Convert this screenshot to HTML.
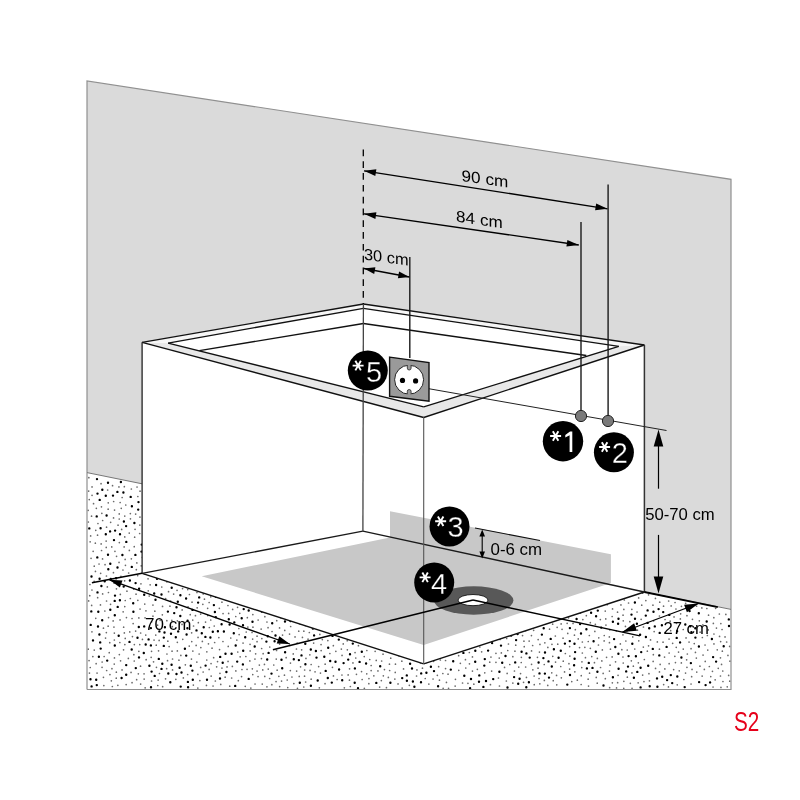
<!DOCTYPE html><html><head><meta charset="utf-8"><style>html,body{margin:0;padding:0;background:#fff;}svg{display:block;will-change:transform}</style></head><body>
<svg width="800" height="800" viewBox="0 0 800 800" font-family="&quot;Liberation Sans&quot;, sans-serif">
<rect width="800" height="800" fill="#fff"/>
<polygon points="87.0,81.0 731.0,179.3 731.0,609.4 87.0,472.6" fill="#dadada"/>
<polygon points="87.0,472.6 731.0,609.4 731.0,689.5 87.0,689.5" fill="#fff"/>
<path d="M296.5 526.7a1.2 1.2 0 1 0 2.4 0a1.2 1.2 0 1 0-2.4 0zM309.5 524.1a1.2 1.2 0 1 0 2.4 0a1.2 1.2 0 1 0-2.4 0zM279.0 531.2a1.2 1.2 0 1 0 2.4 0a1.2 1.2 0 1 0-2.4 0zM286.0 535.8a1.2 1.2 0 1 0 2.4 0a1.2 1.2 0 1 0-2.4 0zM263.1 515.0a1.2 1.2 0 1 0 2.4 0a1.2 1.2 0 1 0-2.4 0zM268.4 527.9a1.2 1.2 0 1 0 2.4 0a1.2 1.2 0 1 0-2.4 0zM292.8 537.7a1.2 1.2 0 1 0 2.4 0a1.2 1.2 0 1 0-2.4 0zM282.0 539.6a1.2 1.2 0 1 0 2.4 0a1.2 1.2 0 1 0-2.4 0zM264.7 531.8a1.2 1.2 0 1 0 2.4 0a1.2 1.2 0 1 0-2.4 0zM248.7 517.0a1.2 1.2 0 1 0 2.4 0a1.2 1.2 0 1 0-2.4 0zM249.7 522.3a1.2 1.2 0 1 0 2.4 0a1.2 1.2 0 1 0-2.4 0zM251.4 534.3a1.2 1.2 0 1 0 2.4 0a1.2 1.2 0 1 0-2.4 0zM331.7 534.6a1.2 1.2 0 1 0 2.4 0a1.2 1.2 0 1 0-2.4 0zM297.0 551.3a1.2 1.2 0 1 0 2.4 0a1.2 1.2 0 1 0-2.4 0zM313.4 546.4a1.2 1.2 0 1 0 2.4 0a1.2 1.2 0 1 0-2.4 0zM309.2 553.5a1.2 1.2 0 1 0 2.4 0a1.2 1.2 0 1 0-2.4 0zM259.7 532.8a1.2 1.2 0 1 0 2.4 0a1.2 1.2 0 1 0-2.4 0zM245.5 534.7a1.2 1.2 0 1 0 2.4 0a1.2 1.2 0 1 0-2.4 0zM304.3 551.1a1.2 1.2 0 1 0 2.4 0a1.2 1.2 0 1 0-2.4 0zM252.6 545.6a1.2 1.2 0 1 0 2.4 0a1.2 1.2 0 1 0-2.4 0zM316.2 555.4a1.2 1.2 0 1 0 2.4 0a1.2 1.2 0 1 0-2.4 0zM323.2 560.9a1.2 1.2 0 1 0 2.4 0a1.2 1.2 0 1 0-2.4 0zM324.1 555.1a1.2 1.2 0 1 0 2.4 0a1.2 1.2 0 1 0-2.4 0zM280.1 557.7a1.2 1.2 0 1 0 2.4 0a1.2 1.2 0 1 0-2.4 0zM247.3 511.9a1.2 1.2 0 1 0 2.4 0a1.2 1.2 0 1 0-2.4 0zM254.2 550.6a1.2 1.2 0 1 0 2.4 0a1.2 1.2 0 1 0-2.4 0zM246.7 552.3a1.2 1.2 0 1 0 2.4 0a1.2 1.2 0 1 0-2.4 0zM311.7 567.2a1.2 1.2 0 1 0 2.4 0a1.2 1.2 0 1 0-2.4 0zM263.9 557.3a1.2 1.2 0 1 0 2.4 0a1.2 1.2 0 1 0-2.4 0zM336.0 543.1a1.2 1.2 0 1 0 2.4 0a1.2 1.2 0 1 0-2.4 0zM290.4 576.5a1.2 1.2 0 1 0 2.4 0a1.2 1.2 0 1 0-2.4 0zM236.9 522.7a1.2 1.2 0 1 0 2.4 0a1.2 1.2 0 1 0-2.4 0zM235.0 515.3a1.2 1.2 0 1 0 2.4 0a1.2 1.2 0 1 0-2.4 0zM297.7 575.4a1.2 1.2 0 1 0 2.4 0a1.2 1.2 0 1 0-2.4 0zM370.3 543.4a1.2 1.2 0 1 0 2.4 0a1.2 1.2 0 1 0-2.4 0zM267.7 573.9a1.2 1.2 0 1 0 2.4 0a1.2 1.2 0 1 0-2.4 0zM250.7 575.6a1.2 1.2 0 1 0 2.4 0a1.2 1.2 0 1 0-2.4 0zM355.9 541.0a1.2 1.2 0 1 0 2.4 0a1.2 1.2 0 1 0-2.4 0zM344.1 557.8a1.2 1.2 0 1 0 2.4 0a1.2 1.2 0 1 0-2.4 0zM353.7 554.1a1.2 1.2 0 1 0 2.4 0a1.2 1.2 0 1 0-2.4 0zM322.4 569.5a1.2 1.2 0 1 0 2.4 0a1.2 1.2 0 1 0-2.4 0zM264.2 585.1a1.2 1.2 0 1 0 2.4 0a1.2 1.2 0 1 0-2.4 0zM224.7 528.4a1.2 1.2 0 1 0 2.4 0a1.2 1.2 0 1 0-2.4 0zM323.5 580.5a1.2 1.2 0 1 0 2.4 0a1.2 1.2 0 1 0-2.4 0zM224.5 522.4a1.2 1.2 0 1 0 2.4 0a1.2 1.2 0 1 0-2.4 0zM349.6 559.8a1.2 1.2 0 1 0 2.4 0a1.2 1.2 0 1 0-2.4 0zM295.9 582.6a1.2 1.2 0 1 0 2.4 0a1.2 1.2 0 1 0-2.4 0zM224.3 516.2a1.2 1.2 0 1 0 2.4 0a1.2 1.2 0 1 0-2.4 0zM340.8 539.8a1.2 1.2 0 1 0 2.4 0a1.2 1.2 0 1 0-2.4 0zM321.6 597.2a1.2 1.2 0 1 0 2.4 0a1.2 1.2 0 1 0-2.4 0zM283.5 576.2a1.2 1.2 0 1 0 2.4 0a1.2 1.2 0 1 0-2.4 0zM337.9 571.9a1.2 1.2 0 1 0 2.4 0a1.2 1.2 0 1 0-2.4 0zM217.7 527.3a1.2 1.2 0 1 0 2.4 0a1.2 1.2 0 1 0-2.4 0zM338.6 555.1a1.2 1.2 0 1 0 2.4 0a1.2 1.2 0 1 0-2.4 0zM242.4 566.5a1.2 1.2 0 1 0 2.4 0a1.2 1.2 0 1 0-2.4 0zM302.9 583.7a1.2 1.2 0 1 0 2.4 0a1.2 1.2 0 1 0-2.4 0zM291.4 590.8a1.2 1.2 0 1 0 2.4 0a1.2 1.2 0 1 0-2.4 0zM307.4 588.1a1.2 1.2 0 1 0 2.4 0a1.2 1.2 0 1 0-2.4 0zM272.8 588.6a1.2 1.2 0 1 0 2.4 0a1.2 1.2 0 1 0-2.4 0zM214.1 506.8a1.2 1.2 0 1 0 2.4 0a1.2 1.2 0 1 0-2.4 0zM363.5 546.3a1.2 1.2 0 1 0 2.4 0a1.2 1.2 0 1 0-2.4 0zM296.1 588.2a1.2 1.2 0 1 0 2.4 0a1.2 1.2 0 1 0-2.4 0zM205.9 507.3a1.2 1.2 0 1 0 2.4 0a1.2 1.2 0 1 0-2.4 0zM295.4 594.2a1.2 1.2 0 1 0 2.4 0a1.2 1.2 0 1 0-2.4 0zM373.4 550.6a1.2 1.2 0 1 0 2.4 0a1.2 1.2 0 1 0-2.4 0zM215.2 518.0a1.2 1.2 0 1 0 2.4 0a1.2 1.2 0 1 0-2.4 0zM251.4 588.5a1.2 1.2 0 1 0 2.4 0a1.2 1.2 0 1 0-2.4 0zM339.9 563.1a1.2 1.2 0 1 0 2.4 0a1.2 1.2 0 1 0-2.4 0zM245.1 582.3a1.2 1.2 0 1 0 2.4 0a1.2 1.2 0 1 0-2.4 0zM224.7 553.9a1.2 1.2 0 1 0 2.4 0a1.2 1.2 0 1 0-2.4 0zM342.8 569.3a1.2 1.2 0 1 0 2.4 0a1.2 1.2 0 1 0-2.4 0zM343.5 585.7a1.2 1.2 0 1 0 2.4 0a1.2 1.2 0 1 0-2.4 0zM349.4 581.8a1.2 1.2 0 1 0 2.4 0a1.2 1.2 0 1 0-2.4 0zM259.5 592.7a1.2 1.2 0 1 0 2.4 0a1.2 1.2 0 1 0-2.4 0zM358.8 551.8a1.2 1.2 0 1 0 2.4 0a1.2 1.2 0 1 0-2.4 0zM386.5 558.0a1.2 1.2 0 1 0 2.4 0a1.2 1.2 0 1 0-2.4 0zM277.1 592.3a1.2 1.2 0 1 0 2.4 0a1.2 1.2 0 1 0-2.4 0zM231.9 574.5a1.2 1.2 0 1 0 2.4 0a1.2 1.2 0 1 0-2.4 0zM198.5 504.5a1.2 1.2 0 1 0 2.4 0a1.2 1.2 0 1 0-2.4 0zM258.4 584.3a1.2 1.2 0 1 0 2.4 0a1.2 1.2 0 1 0-2.4 0zM386.3 547.8a1.2 1.2 0 1 0 2.4 0a1.2 1.2 0 1 0-2.4 0zM209.5 501.6a1.2 1.2 0 1 0 2.4 0a1.2 1.2 0 1 0-2.4 0zM359.2 573.8a1.2 1.2 0 1 0 2.4 0a1.2 1.2 0 1 0-2.4 0zM211.9 529.4a1.2 1.2 0 1 0 2.4 0a1.2 1.2 0 1 0-2.4 0zM386.0 541.4a1.2 1.2 0 1 0 2.4 0a1.2 1.2 0 1 0-2.4 0zM224.4 574.9a1.2 1.2 0 1 0 2.4 0a1.2 1.2 0 1 0-2.4 0zM337.3 589.5a1.2 1.2 0 1 0 2.4 0a1.2 1.2 0 1 0-2.4 0zM218.7 552.8a1.2 1.2 0 1 0 2.4 0a1.2 1.2 0 1 0-2.4 0zM218.7 571.3a1.2 1.2 0 1 0 2.4 0a1.2 1.2 0 1 0-2.4 0zM211.9 547.0a1.2 1.2 0 1 0 2.4 0a1.2 1.2 0 1 0-2.4 0zM294.4 605.3a1.2 1.2 0 1 0 2.4 0a1.2 1.2 0 1 0-2.4 0zM212.2 565.7a1.2 1.2 0 1 0 2.4 0a1.2 1.2 0 1 0-2.4 0zM208.5 542.2a1.2 1.2 0 1 0 2.4 0a1.2 1.2 0 1 0-2.4 0zM347.0 592.7a1.2 1.2 0 1 0 2.4 0a1.2 1.2 0 1 0-2.4 0zM231.3 582.1a1.2 1.2 0 1 0 2.4 0a1.2 1.2 0 1 0-2.4 0zM343.8 578.1a1.2 1.2 0 1 0 2.4 0a1.2 1.2 0 1 0-2.4 0zM201.1 552.1a1.2 1.2 0 1 0 2.4 0a1.2 1.2 0 1 0-2.4 0zM206.1 547.9a1.2 1.2 0 1 0 2.4 0a1.2 1.2 0 1 0-2.4 0zM332.7 608.2a1.2 1.2 0 1 0 2.4 0a1.2 1.2 0 1 0-2.4 0zM380.6 559.2a1.2 1.2 0 1 0 2.4 0a1.2 1.2 0 1 0-2.4 0zM375.8 543.0a1.2 1.2 0 1 0 2.4 0a1.2 1.2 0 1 0-2.4 0zM267.8 609.8a1.2 1.2 0 1 0 2.4 0a1.2 1.2 0 1 0-2.4 0zM393.9 563.7a1.2 1.2 0 1 0 2.4 0a1.2 1.2 0 1 0-2.4 0zM377.7 563.8a1.2 1.2 0 1 0 2.4 0a1.2 1.2 0 1 0-2.4 0zM249.1 597.4a1.2 1.2 0 1 0 2.4 0a1.2 1.2 0 1 0-2.4 0zM198.8 544.2a1.2 1.2 0 1 0 2.4 0a1.2 1.2 0 1 0-2.4 0zM276.8 606.1a1.2 1.2 0 1 0 2.4 0a1.2 1.2 0 1 0-2.4 0zM203.8 565.2a1.2 1.2 0 1 0 2.4 0a1.2 1.2 0 1 0-2.4 0zM340.6 593.9a1.2 1.2 0 1 0 2.4 0a1.2 1.2 0 1 0-2.4 0zM271.4 613.4a1.2 1.2 0 1 0 2.4 0a1.2 1.2 0 1 0-2.4 0zM223.4 588.5a1.2 1.2 0 1 0 2.4 0a1.2 1.2 0 1 0-2.4 0zM369.9 563.4a1.2 1.2 0 1 0 2.4 0a1.2 1.2 0 1 0-2.4 0zM332.8 594.6a1.2 1.2 0 1 0 2.4 0a1.2 1.2 0 1 0-2.4 0zM217.4 587.3a1.2 1.2 0 1 0 2.4 0a1.2 1.2 0 1 0-2.4 0zM260.6 611.6a1.2 1.2 0 1 0 2.4 0a1.2 1.2 0 1 0-2.4 0zM277.2 600.9a1.2 1.2 0 1 0 2.4 0a1.2 1.2 0 1 0-2.4 0zM191.7 567.6a1.2 1.2 0 1 0 2.4 0a1.2 1.2 0 1 0-2.4 0zM279.6 611.7a1.2 1.2 0 1 0 2.4 0a1.2 1.2 0 1 0-2.4 0zM215.0 596.9a1.2 1.2 0 1 0 2.4 0a1.2 1.2 0 1 0-2.4 0zM242.5 609.1a1.2 1.2 0 1 0 2.4 0a1.2 1.2 0 1 0-2.4 0zM197.2 578.9a1.2 1.2 0 1 0 2.4 0a1.2 1.2 0 1 0-2.4 0zM207.6 592.0a1.2 1.2 0 1 0 2.4 0a1.2 1.2 0 1 0-2.4 0zM372.6 569.3a1.2 1.2 0 1 0 2.4 0a1.2 1.2 0 1 0-2.4 0zM193.9 572.4a1.2 1.2 0 1 0 2.4 0a1.2 1.2 0 1 0-2.4 0zM237.4 602.0a1.2 1.2 0 1 0 2.4 0a1.2 1.2 0 1 0-2.4 0zM308.2 620.1a1.2 1.2 0 1 0 2.4 0a1.2 1.2 0 1 0-2.4 0zM415.8 549.3a1.2 1.2 0 1 0 2.4 0a1.2 1.2 0 1 0-2.4 0zM296.2 617.3a1.2 1.2 0 1 0 2.4 0a1.2 1.2 0 1 0-2.4 0zM190.5 543.2a1.2 1.2 0 1 0 2.4 0a1.2 1.2 0 1 0-2.4 0zM313.4 622.2a1.2 1.2 0 1 0 2.4 0a1.2 1.2 0 1 0-2.4 0zM180.8 569.3a1.2 1.2 0 1 0 2.4 0a1.2 1.2 0 1 0-2.4 0zM311.7 628.5a1.2 1.2 0 1 0 2.4 0a1.2 1.2 0 1 0-2.4 0zM338.9 605.9a1.2 1.2 0 1 0 2.4 0a1.2 1.2 0 1 0-2.4 0zM401.5 560.3a1.2 1.2 0 1 0 2.4 0a1.2 1.2 0 1 0-2.4 0zM399.9 566.1a1.2 1.2 0 1 0 2.4 0a1.2 1.2 0 1 0-2.4 0zM194.2 546.9a1.2 1.2 0 1 0 2.4 0a1.2 1.2 0 1 0-2.4 0zM198.6 498.6a1.2 1.2 0 1 0 2.4 0a1.2 1.2 0 1 0-2.4 0zM195.9 584.9a1.2 1.2 0 1 0 2.4 0a1.2 1.2 0 1 0-2.4 0zM350.8 614.7a1.2 1.2 0 1 0 2.4 0a1.2 1.2 0 1 0-2.4 0zM173.7 570.5a1.2 1.2 0 1 0 2.4 0a1.2 1.2 0 1 0-2.4 0zM192.8 514.9a1.2 1.2 0 1 0 2.4 0a1.2 1.2 0 1 0-2.4 0zM227.6 619.2a1.2 1.2 0 1 0 2.4 0a1.2 1.2 0 1 0-2.4 0zM352.7 598.9a1.2 1.2 0 1 0 2.4 0a1.2 1.2 0 1 0-2.4 0zM312.9 635.4a1.2 1.2 0 1 0 2.4 0a1.2 1.2 0 1 0-2.4 0zM240.5 618.2a1.2 1.2 0 1 0 2.4 0a1.2 1.2 0 1 0-2.4 0zM185.5 553.0a1.2 1.2 0 1 0 2.4 0a1.2 1.2 0 1 0-2.4 0zM286.4 611.6a1.2 1.2 0 1 0 2.4 0a1.2 1.2 0 1 0-2.4 0zM233.1 622.4a1.2 1.2 0 1 0 2.4 0a1.2 1.2 0 1 0-2.4 0zM220.4 624.2a1.2 1.2 0 1 0 2.4 0a1.2 1.2 0 1 0-2.4 0zM290.4 615.8a1.2 1.2 0 1 0 2.4 0a1.2 1.2 0 1 0-2.4 0zM375.2 592.8a1.2 1.2 0 1 0 2.4 0a1.2 1.2 0 1 0-2.4 0zM212.7 605.1a1.2 1.2 0 1 0 2.4 0a1.2 1.2 0 1 0-2.4 0zM327.0 647.7a1.2 1.2 0 1 0 2.4 0a1.2 1.2 0 1 0-2.4 0zM228.4 624.5a1.2 1.2 0 1 0 2.4 0a1.2 1.2 0 1 0-2.4 0zM317.8 616.9a1.2 1.2 0 1 0 2.4 0a1.2 1.2 0 1 0-2.4 0zM368.1 600.0a1.2 1.2 0 1 0 2.4 0a1.2 1.2 0 1 0-2.4 0zM357.3 615.7a1.2 1.2 0 1 0 2.4 0a1.2 1.2 0 1 0-2.4 0zM350.5 624.6a1.2 1.2 0 1 0 2.4 0a1.2 1.2 0 1 0-2.4 0zM241.8 625.2a1.2 1.2 0 1 0 2.4 0a1.2 1.2 0 1 0-2.4 0zM271.0 623.2a1.2 1.2 0 1 0 2.4 0a1.2 1.2 0 1 0-2.4 0zM187.7 514.5a1.2 1.2 0 1 0 2.4 0a1.2 1.2 0 1 0-2.4 0zM283.8 621.5a1.2 1.2 0 1 0 2.4 0a1.2 1.2 0 1 0-2.4 0zM214.6 617.1a1.2 1.2 0 1 0 2.4 0a1.2 1.2 0 1 0-2.4 0zM338.0 624.3a1.2 1.2 0 1 0 2.4 0a1.2 1.2 0 1 0-2.4 0zM175.3 507.8a1.2 1.2 0 1 0 2.4 0a1.2 1.2 0 1 0-2.4 0zM186.9 519.7a1.2 1.2 0 1 0 2.4 0a1.2 1.2 0 1 0-2.4 0zM368.4 607.7a1.2 1.2 0 1 0 2.4 0a1.2 1.2 0 1 0-2.4 0zM331.3 635.9a1.2 1.2 0 1 0 2.4 0a1.2 1.2 0 1 0-2.4 0zM211.6 631.8a1.2 1.2 0 1 0 2.4 0a1.2 1.2 0 1 0-2.4 0zM251.3 621.7a1.2 1.2 0 1 0 2.4 0a1.2 1.2 0 1 0-2.4 0zM317.2 627.4a1.2 1.2 0 1 0 2.4 0a1.2 1.2 0 1 0-2.4 0zM185.5 541.7a1.2 1.2 0 1 0 2.4 0a1.2 1.2 0 1 0-2.4 0zM381.6 575.4a1.2 1.2 0 1 0 2.4 0a1.2 1.2 0 1 0-2.4 0zM355.8 609.8a1.2 1.2 0 1 0 2.4 0a1.2 1.2 0 1 0-2.4 0zM289.3 621.0a1.2 1.2 0 1 0 2.4 0a1.2 1.2 0 1 0-2.4 0zM309.6 649.5a1.2 1.2 0 1 0 2.4 0a1.2 1.2 0 1 0-2.4 0zM398.2 580.8a1.2 1.2 0 1 0 2.4 0a1.2 1.2 0 1 0-2.4 0zM383.5 597.6a1.2 1.2 0 1 0 2.4 0a1.2 1.2 0 1 0-2.4 0zM425.4 563.1a1.2 1.2 0 1 0 2.4 0a1.2 1.2 0 1 0-2.4 0zM178.4 529.6a1.2 1.2 0 1 0 2.4 0a1.2 1.2 0 1 0-2.4 0zM213.7 612.0a1.2 1.2 0 1 0 2.4 0a1.2 1.2 0 1 0-2.4 0zM337.6 639.6a1.2 1.2 0 1 0 2.4 0a1.2 1.2 0 1 0-2.4 0zM414.0 564.9a1.2 1.2 0 1 0 2.4 0a1.2 1.2 0 1 0-2.4 0zM200.6 633.2a1.2 1.2 0 1 0 2.4 0a1.2 1.2 0 1 0-2.4 0zM173.6 502.1a1.2 1.2 0 1 0 2.4 0a1.2 1.2 0 1 0-2.4 0zM338.7 634.4a1.2 1.2 0 1 0 2.4 0a1.2 1.2 0 1 0-2.4 0zM354.3 620.7a1.2 1.2 0 1 0 2.4 0a1.2 1.2 0 1 0-2.4 0zM439.1 554.9a1.2 1.2 0 1 0 2.4 0a1.2 1.2 0 1 0-2.4 0zM397.2 595.8a1.2 1.2 0 1 0 2.4 0a1.2 1.2 0 1 0-2.4 0zM209.2 637.5a1.2 1.2 0 1 0 2.4 0a1.2 1.2 0 1 0-2.4 0zM167.8 498.4a1.2 1.2 0 1 0 2.4 0a1.2 1.2 0 1 0-2.4 0zM155.8 578.8a1.2 1.2 0 1 0 2.4 0a1.2 1.2 0 1 0-2.4 0zM222.7 631.5a1.2 1.2 0 1 0 2.4 0a1.2 1.2 0 1 0-2.4 0zM416.5 554.6a1.2 1.2 0 1 0 2.4 0a1.2 1.2 0 1 0-2.4 0zM154.9 585.0a1.2 1.2 0 1 0 2.4 0a1.2 1.2 0 1 0-2.4 0zM216.7 631.2a1.2 1.2 0 1 0 2.4 0a1.2 1.2 0 1 0-2.4 0zM153.0 593.5a1.2 1.2 0 1 0 2.4 0a1.2 1.2 0 1 0-2.4 0zM160.3 594.5a1.2 1.2 0 1 0 2.4 0a1.2 1.2 0 1 0-2.4 0zM232.6 633.2a1.2 1.2 0 1 0 2.4 0a1.2 1.2 0 1 0-2.4 0zM157.3 512.3a1.2 1.2 0 1 0 2.4 0a1.2 1.2 0 1 0-2.4 0zM154.3 599.7a1.2 1.2 0 1 0 2.4 0a1.2 1.2 0 1 0-2.4 0zM144.3 491.8a1.2 1.2 0 1 0 2.4 0a1.2 1.2 0 1 0-2.4 0zM363.4 597.9a1.2 1.2 0 1 0 2.4 0a1.2 1.2 0 1 0-2.4 0zM164.2 557.9a1.2 1.2 0 1 0 2.4 0a1.2 1.2 0 1 0-2.4 0zM266.6 636.2a1.2 1.2 0 1 0 2.4 0a1.2 1.2 0 1 0-2.4 0zM184.9 598.5a1.2 1.2 0 1 0 2.4 0a1.2 1.2 0 1 0-2.4 0zM198.0 597.4a1.2 1.2 0 1 0 2.4 0a1.2 1.2 0 1 0-2.4 0zM155.6 491.3a1.2 1.2 0 1 0 2.4 0a1.2 1.2 0 1 0-2.4 0zM196.9 602.6a1.2 1.2 0 1 0 2.4 0a1.2 1.2 0 1 0-2.4 0zM195.3 630.4a1.2 1.2 0 1 0 2.4 0a1.2 1.2 0 1 0-2.4 0zM186.4 620.6a1.2 1.2 0 1 0 2.4 0a1.2 1.2 0 1 0-2.4 0zM162.9 513.4a1.2 1.2 0 1 0 2.4 0a1.2 1.2 0 1 0-2.4 0zM294.7 611.6a1.2 1.2 0 1 0 2.4 0a1.2 1.2 0 1 0-2.4 0zM417.1 573.1a1.2 1.2 0 1 0 2.4 0a1.2 1.2 0 1 0-2.4 0zM166.4 545.3a1.2 1.2 0 1 0 2.4 0a1.2 1.2 0 1 0-2.4 0zM323.1 656.7a1.2 1.2 0 1 0 2.4 0a1.2 1.2 0 1 0-2.4 0zM143.0 594.7a1.2 1.2 0 1 0 2.4 0a1.2 1.2 0 1 0-2.4 0zM137.3 502.1a1.2 1.2 0 1 0 2.4 0a1.2 1.2 0 1 0-2.4 0zM408.0 593.7a1.2 1.2 0 1 0 2.4 0a1.2 1.2 0 1 0-2.4 0zM396.4 586.0a1.2 1.2 0 1 0 2.4 0a1.2 1.2 0 1 0-2.4 0zM137.9 588.7a1.2 1.2 0 1 0 2.4 0a1.2 1.2 0 1 0-2.4 0zM386.1 626.9a1.2 1.2 0 1 0 2.4 0a1.2 1.2 0 1 0-2.4 0zM402.5 597.8a1.2 1.2 0 1 0 2.4 0a1.2 1.2 0 1 0-2.4 0zM128.7 580.5a1.2 1.2 0 1 0 2.4 0a1.2 1.2 0 1 0-2.4 0zM315.3 657.6a1.2 1.2 0 1 0 2.4 0a1.2 1.2 0 1 0-2.4 0zM402.3 610.2a1.2 1.2 0 1 0 2.4 0a1.2 1.2 0 1 0-2.4 0zM153.3 508.0a1.2 1.2 0 1 0 2.4 0a1.2 1.2 0 1 0-2.4 0zM334.3 661.7a1.2 1.2 0 1 0 2.4 0a1.2 1.2 0 1 0-2.4 0zM429.5 566.4a1.2 1.2 0 1 0 2.4 0a1.2 1.2 0 1 0-2.4 0zM420.2 577.5a1.2 1.2 0 1 0 2.4 0a1.2 1.2 0 1 0-2.4 0zM314.7 651.0a1.2 1.2 0 1 0 2.4 0a1.2 1.2 0 1 0-2.4 0zM172.6 525.9a1.2 1.2 0 1 0 2.4 0a1.2 1.2 0 1 0-2.4 0zM351.6 643.6a1.2 1.2 0 1 0 2.4 0a1.2 1.2 0 1 0-2.4 0zM436.7 561.3a1.2 1.2 0 1 0 2.4 0a1.2 1.2 0 1 0-2.4 0zM137.0 509.6a1.2 1.2 0 1 0 2.4 0a1.2 1.2 0 1 0-2.4 0zM170.5 587.7a1.2 1.2 0 1 0 2.4 0a1.2 1.2 0 1 0-2.4 0zM132.0 603.2a1.2 1.2 0 1 0 2.4 0a1.2 1.2 0 1 0-2.4 0zM176.6 601.7a1.2 1.2 0 1 0 2.4 0a1.2 1.2 0 1 0-2.4 0zM163.5 523.0a1.2 1.2 0 1 0 2.4 0a1.2 1.2 0 1 0-2.4 0zM179.1 616.0a1.2 1.2 0 1 0 2.4 0a1.2 1.2 0 1 0-2.4 0zM161.7 568.3a1.2 1.2 0 1 0 2.4 0a1.2 1.2 0 1 0-2.4 0zM179.2 595.3a1.2 1.2 0 1 0 2.4 0a1.2 1.2 0 1 0-2.4 0zM129.5 496.9a1.2 1.2 0 1 0 2.4 0a1.2 1.2 0 1 0-2.4 0zM234.5 645.5a1.2 1.2 0 1 0 2.4 0a1.2 1.2 0 1 0-2.4 0zM417.8 602.7a1.2 1.2 0 1 0 2.4 0a1.2 1.2 0 1 0-2.4 0zM300.3 655.4a1.2 1.2 0 1 0 2.4 0a1.2 1.2 0 1 0-2.4 0zM274.3 635.5a1.2 1.2 0 1 0 2.4 0a1.2 1.2 0 1 0-2.4 0zM130.7 506.2a1.2 1.2 0 1 0 2.4 0a1.2 1.2 0 1 0-2.4 0zM329.0 661.0a1.2 1.2 0 1 0 2.4 0a1.2 1.2 0 1 0-2.4 0zM304.1 643.7a1.2 1.2 0 1 0 2.4 0a1.2 1.2 0 1 0-2.4 0zM349.7 636.1a1.2 1.2 0 1 0 2.4 0a1.2 1.2 0 1 0-2.4 0zM202.5 627.2a1.2 1.2 0 1 0 2.4 0a1.2 1.2 0 1 0-2.4 0zM400.0 604.0a1.2 1.2 0 1 0 2.4 0a1.2 1.2 0 1 0-2.4 0zM173.0 613.1a1.2 1.2 0 1 0 2.4 0a1.2 1.2 0 1 0-2.4 0zM283.9 652.3a1.2 1.2 0 1 0 2.4 0a1.2 1.2 0 1 0-2.4 0zM265.2 641.6a1.2 1.2 0 1 0 2.4 0a1.2 1.2 0 1 0-2.4 0zM159.3 562.1a1.2 1.2 0 1 0 2.4 0a1.2 1.2 0 1 0-2.4 0zM175.3 607.2a1.2 1.2 0 1 0 2.4 0a1.2 1.2 0 1 0-2.4 0zM437.3 567.8a1.2 1.2 0 1 0 2.4 0a1.2 1.2 0 1 0-2.4 0zM324.5 670.9a1.2 1.2 0 1 0 2.4 0a1.2 1.2 0 1 0-2.4 0zM173.6 538.0a1.2 1.2 0 1 0 2.4 0a1.2 1.2 0 1 0-2.4 0zM363.6 623.3a1.2 1.2 0 1 0 2.4 0a1.2 1.2 0 1 0-2.4 0zM186.2 628.3a1.2 1.2 0 1 0 2.4 0a1.2 1.2 0 1 0-2.4 0zM415.5 590.3a1.2 1.2 0 1 0 2.4 0a1.2 1.2 0 1 0-2.4 0zM355.6 639.6a1.2 1.2 0 1 0 2.4 0a1.2 1.2 0 1 0-2.4 0zM134.4 583.1a1.2 1.2 0 1 0 2.4 0a1.2 1.2 0 1 0-2.4 0zM273.4 641.2a1.2 1.2 0 1 0 2.4 0a1.2 1.2 0 1 0-2.4 0zM347.0 659.6a1.2 1.2 0 1 0 2.4 0a1.2 1.2 0 1 0-2.4 0zM122.5 586.6a1.2 1.2 0 1 0 2.4 0a1.2 1.2 0 1 0-2.4 0zM204.2 636.9a1.2 1.2 0 1 0 2.4 0a1.2 1.2 0 1 0-2.4 0zM164.7 552.2a1.2 1.2 0 1 0 2.4 0a1.2 1.2 0 1 0-2.4 0zM130.6 566.9a1.2 1.2 0 1 0 2.4 0a1.2 1.2 0 1 0-2.4 0zM326.6 678.0a1.2 1.2 0 1 0 2.4 0a1.2 1.2 0 1 0-2.4 0zM166.7 611.6a1.2 1.2 0 1 0 2.4 0a1.2 1.2 0 1 0-2.4 0zM358.6 625.0a1.2 1.2 0 1 0 2.4 0a1.2 1.2 0 1 0-2.4 0zM244.0 637.2a1.2 1.2 0 1 0 2.4 0a1.2 1.2 0 1 0-2.4 0zM441.8 570.8a1.2 1.2 0 1 0 2.4 0a1.2 1.2 0 1 0-2.4 0zM342.4 663.1a1.2 1.2 0 1 0 2.4 0a1.2 1.2 0 1 0-2.4 0zM364.2 643.6a1.2 1.2 0 1 0 2.4 0a1.2 1.2 0 1 0-2.4 0zM330.6 682.6a1.2 1.2 0 1 0 2.4 0a1.2 1.2 0 1 0-2.4 0zM267.4 652.9a1.2 1.2 0 1 0 2.4 0a1.2 1.2 0 1 0-2.4 0zM425.4 592.0a1.2 1.2 0 1 0 2.4 0a1.2 1.2 0 1 0-2.4 0zM140.3 551.6a1.2 1.2 0 1 0 2.4 0a1.2 1.2 0 1 0-2.4 0zM185.4 634.5a1.2 1.2 0 1 0 2.4 0a1.2 1.2 0 1 0-2.4 0zM337.9 669.5a1.2 1.2 0 1 0 2.4 0a1.2 1.2 0 1 0-2.4 0zM242.0 650.8a1.2 1.2 0 1 0 2.4 0a1.2 1.2 0 1 0-2.4 0zM118.7 600.3a1.2 1.2 0 1 0 2.4 0a1.2 1.2 0 1 0-2.4 0zM416.1 618.0a1.2 1.2 0 1 0 2.4 0a1.2 1.2 0 1 0-2.4 0zM431.5 607.6a1.2 1.2 0 1 0 2.4 0a1.2 1.2 0 1 0-2.4 0zM341.0 680.3a1.2 1.2 0 1 0 2.4 0a1.2 1.2 0 1 0-2.4 0zM377.6 639.5a1.2 1.2 0 1 0 2.4 0a1.2 1.2 0 1 0-2.4 0zM116.3 567.5a1.2 1.2 0 1 0 2.4 0a1.2 1.2 0 1 0-2.4 0zM451.7 551.6a1.2 1.2 0 1 0 2.4 0a1.2 1.2 0 1 0-2.4 0zM425.7 616.6a1.2 1.2 0 1 0 2.4 0a1.2 1.2 0 1 0-2.4 0zM399.2 627.3a1.2 1.2 0 1 0 2.4 0a1.2 1.2 0 1 0-2.4 0zM304.2 664.2a1.2 1.2 0 1 0 2.4 0a1.2 1.2 0 1 0-2.4 0zM435.4 575.3a1.2 1.2 0 1 0 2.4 0a1.2 1.2 0 1 0-2.4 0zM177.0 631.4a1.2 1.2 0 1 0 2.4 0a1.2 1.2 0 1 0-2.4 0zM230.4 653.8a1.2 1.2 0 1 0 2.4 0a1.2 1.2 0 1 0-2.4 0zM183.7 648.8a1.2 1.2 0 1 0 2.4 0a1.2 1.2 0 1 0-2.4 0zM280.3 659.7a1.2 1.2 0 1 0 2.4 0a1.2 1.2 0 1 0-2.4 0zM360.6 651.7a1.2 1.2 0 1 0 2.4 0a1.2 1.2 0 1 0-2.4 0zM191.3 609.9a1.2 1.2 0 1 0 2.4 0a1.2 1.2 0 1 0-2.4 0zM224.3 653.7a1.2 1.2 0 1 0 2.4 0a1.2 1.2 0 1 0-2.4 0zM436.7 581.4a1.2 1.2 0 1 0 2.4 0a1.2 1.2 0 1 0-2.4 0zM434.9 590.9a1.2 1.2 0 1 0 2.4 0a1.2 1.2 0 1 0-2.4 0zM140.5 544.6a1.2 1.2 0 1 0 2.4 0a1.2 1.2 0 1 0-2.4 0zM401.6 620.5a1.2 1.2 0 1 0 2.4 0a1.2 1.2 0 1 0-2.4 0zM447.5 569.7a1.2 1.2 0 1 0 2.4 0a1.2 1.2 0 1 0-2.4 0zM113.8 595.6a1.2 1.2 0 1 0 2.4 0a1.2 1.2 0 1 0-2.4 0zM133.2 523.0a1.2 1.2 0 1 0 2.4 0a1.2 1.2 0 1 0-2.4 0zM449.3 575.0a1.2 1.2 0 1 0 2.4 0a1.2 1.2 0 1 0-2.4 0zM253.5 646.5a1.2 1.2 0 1 0 2.4 0a1.2 1.2 0 1 0-2.4 0zM158.0 554.6a1.2 1.2 0 1 0 2.4 0a1.2 1.2 0 1 0-2.4 0zM143.3 527.7a1.2 1.2 0 1 0 2.4 0a1.2 1.2 0 1 0-2.4 0zM132.2 611.7a1.2 1.2 0 1 0 2.4 0a1.2 1.2 0 1 0-2.4 0zM116.2 491.9a1.2 1.2 0 1 0 2.4 0a1.2 1.2 0 1 0-2.4 0zM409.1 625.5a1.2 1.2 0 1 0 2.4 0a1.2 1.2 0 1 0-2.4 0zM114.9 578.2a1.2 1.2 0 1 0 2.4 0a1.2 1.2 0 1 0-2.4 0zM440.5 605.2a1.2 1.2 0 1 0 2.4 0a1.2 1.2 0 1 0-2.4 0zM163.7 627.2a1.2 1.2 0 1 0 2.4 0a1.2 1.2 0 1 0-2.4 0zM124.9 526.1a1.2 1.2 0 1 0 2.4 0a1.2 1.2 0 1 0-2.4 0zM297.7 660.1a1.2 1.2 0 1 0 2.4 0a1.2 1.2 0 1 0-2.4 0zM144.0 534.3a1.2 1.2 0 1 0 2.4 0a1.2 1.2 0 1 0-2.4 0zM414.5 628.5a1.2 1.2 0 1 0 2.4 0a1.2 1.2 0 1 0-2.4 0zM185.0 655.6a1.2 1.2 0 1 0 2.4 0a1.2 1.2 0 1 0-2.4 0zM153.9 536.7a1.2 1.2 0 1 0 2.4 0a1.2 1.2 0 1 0-2.4 0zM118.2 582.4a1.2 1.2 0 1 0 2.4 0a1.2 1.2 0 1 0-2.4 0zM373.2 643.6a1.2 1.2 0 1 0 2.4 0a1.2 1.2 0 1 0-2.4 0zM108.9 531.4a1.2 1.2 0 1 0 2.4 0a1.2 1.2 0 1 0-2.4 0zM122.2 492.5a1.2 1.2 0 1 0 2.4 0a1.2 1.2 0 1 0-2.4 0zM149.7 628.1a1.2 1.2 0 1 0 2.4 0a1.2 1.2 0 1 0-2.4 0zM109.1 609.7a1.2 1.2 0 1 0 2.4 0a1.2 1.2 0 1 0-2.4 0zM105.4 515.5a1.2 1.2 0 1 0 2.4 0a1.2 1.2 0 1 0-2.4 0zM113.9 530.6a1.2 1.2 0 1 0 2.4 0a1.2 1.2 0 1 0-2.4 0zM266.0 659.5a1.2 1.2 0 1 0 2.4 0a1.2 1.2 0 1 0-2.4 0zM169.8 633.7a1.2 1.2 0 1 0 2.4 0a1.2 1.2 0 1 0-2.4 0zM143.0 626.4a1.2 1.2 0 1 0 2.4 0a1.2 1.2 0 1 0-2.4 0zM109.1 563.7a1.2 1.2 0 1 0 2.4 0a1.2 1.2 0 1 0-2.4 0zM372.4 638.4a1.2 1.2 0 1 0 2.4 0a1.2 1.2 0 1 0-2.4 0zM281.0 668.2a1.2 1.2 0 1 0 2.4 0a1.2 1.2 0 1 0-2.4 0zM113.6 615.3a1.2 1.2 0 1 0 2.4 0a1.2 1.2 0 1 0-2.4 0zM174.6 637.3a1.2 1.2 0 1 0 2.4 0a1.2 1.2 0 1 0-2.4 0zM121.2 555.0a1.2 1.2 0 1 0 2.4 0a1.2 1.2 0 1 0-2.4 0zM134.2 554.9a1.2 1.2 0 1 0 2.4 0a1.2 1.2 0 1 0-2.4 0zM147.4 639.4a1.2 1.2 0 1 0 2.4 0a1.2 1.2 0 1 0-2.4 0zM106.8 554.8a1.2 1.2 0 1 0 2.4 0a1.2 1.2 0 1 0-2.4 0zM104.6 495.7a1.2 1.2 0 1 0 2.4 0a1.2 1.2 0 1 0-2.4 0zM158.2 631.4a1.2 1.2 0 1 0 2.4 0a1.2 1.2 0 1 0-2.4 0zM219.0 656.9a1.2 1.2 0 1 0 2.4 0a1.2 1.2 0 1 0-2.4 0zM107.1 569.3a1.2 1.2 0 1 0 2.4 0a1.2 1.2 0 1 0-2.4 0zM136.3 637.8a1.2 1.2 0 1 0 2.4 0a1.2 1.2 0 1 0-2.4 0zM416.5 635.0a1.2 1.2 0 1 0 2.4 0a1.2 1.2 0 1 0-2.4 0zM221.5 662.7a1.2 1.2 0 1 0 2.4 0a1.2 1.2 0 1 0-2.4 0zM316.5 680.5a1.2 1.2 0 1 0 2.4 0a1.2 1.2 0 1 0-2.4 0zM162.6 637.6a1.2 1.2 0 1 0 2.4 0a1.2 1.2 0 1 0-2.4 0zM112.8 540.1a1.2 1.2 0 1 0 2.4 0a1.2 1.2 0 1 0-2.4 0zM353.7 668.4a1.2 1.2 0 1 0 2.4 0a1.2 1.2 0 1 0-2.4 0zM109.6 578.9a1.2 1.2 0 1 0 2.4 0a1.2 1.2 0 1 0-2.4 0zM170.4 664.7a1.2 1.2 0 1 0 2.4 0a1.2 1.2 0 1 0-2.4 0zM358.4 661.9a1.2 1.2 0 1 0 2.4 0a1.2 1.2 0 1 0-2.4 0zM309.7 685.8a1.2 1.2 0 1 0 2.4 0a1.2 1.2 0 1 0-2.4 0zM395.6 635.1a1.2 1.2 0 1 0 2.4 0a1.2 1.2 0 1 0-2.4 0zM149.7 645.4a1.2 1.2 0 1 0 2.4 0a1.2 1.2 0 1 0-2.4 0zM438.5 634.3a1.2 1.2 0 1 0 2.4 0a1.2 1.2 0 1 0-2.4 0zM162.6 645.9a1.2 1.2 0 1 0 2.4 0a1.2 1.2 0 1 0-2.4 0zM116.5 606.9a1.2 1.2 0 1 0 2.4 0a1.2 1.2 0 1 0-2.4 0zM461.0 574.4a1.2 1.2 0 1 0 2.4 0a1.2 1.2 0 1 0-2.4 0zM111.8 495.6a1.2 1.2 0 1 0 2.4 0a1.2 1.2 0 1 0-2.4 0zM437.6 620.2a1.2 1.2 0 1 0 2.4 0a1.2 1.2 0 1 0-2.4 0zM97.1 611.7a1.2 1.2 0 1 0 2.4 0a1.2 1.2 0 1 0-2.4 0zM348.8 654.2a1.2 1.2 0 1 0 2.4 0a1.2 1.2 0 1 0-2.4 0zM125.1 541.9a1.2 1.2 0 1 0 2.4 0a1.2 1.2 0 1 0-2.4 0zM441.1 595.4a1.2 1.2 0 1 0 2.4 0a1.2 1.2 0 1 0-2.4 0zM364.9 663.5a1.2 1.2 0 1 0 2.4 0a1.2 1.2 0 1 0-2.4 0zM122.7 521.5a1.2 1.2 0 1 0 2.4 0a1.2 1.2 0 1 0-2.4 0zM448.3 589.0a1.2 1.2 0 1 0 2.4 0a1.2 1.2 0 1 0-2.4 0zM236.0 661.6a1.2 1.2 0 1 0 2.4 0a1.2 1.2 0 1 0-2.4 0zM247.5 610.5a1.2 1.2 0 1 0 2.4 0a1.2 1.2 0 1 0-2.4 0zM98.5 499.9a1.2 1.2 0 1 0 2.4 0a1.2 1.2 0 1 0-2.4 0zM163.3 632.5a1.2 1.2 0 1 0 2.4 0a1.2 1.2 0 1 0-2.4 0zM241.7 664.4a1.2 1.2 0 1 0 2.4 0a1.2 1.2 0 1 0-2.4 0zM96.1 557.4a1.2 1.2 0 1 0 2.4 0a1.2 1.2 0 1 0-2.4 0zM157.6 658.9a1.2 1.2 0 1 0 2.4 0a1.2 1.2 0 1 0-2.4 0zM99.4 528.2a1.2 1.2 0 1 0 2.4 0a1.2 1.2 0 1 0-2.4 0zM144.5 644.5a1.2 1.2 0 1 0 2.4 0a1.2 1.2 0 1 0-2.4 0zM104.6 534.3a1.2 1.2 0 1 0 2.4 0a1.2 1.2 0 1 0-2.4 0zM466.5 562.4a1.2 1.2 0 1 0 2.4 0a1.2 1.2 0 1 0-2.4 0zM96.3 493.6a1.2 1.2 0 1 0 2.4 0a1.2 1.2 0 1 0-2.4 0zM189.6 665.8a1.2 1.2 0 1 0 2.4 0a1.2 1.2 0 1 0-2.4 0zM353.5 682.7a1.2 1.2 0 1 0 2.4 0a1.2 1.2 0 1 0-2.4 0zM473.5 558.7a1.2 1.2 0 1 0 2.4 0a1.2 1.2 0 1 0-2.4 0zM356.8 688.2a1.2 1.2 0 1 0 2.4 0a1.2 1.2 0 1 0-2.4 0zM118.8 534.3a1.2 1.2 0 1 0 2.4 0a1.2 1.2 0 1 0-2.4 0zM137.6 627.0a1.2 1.2 0 1 0 2.4 0a1.2 1.2 0 1 0-2.4 0zM191.2 670.6a1.2 1.2 0 1 0 2.4 0a1.2 1.2 0 1 0-2.4 0zM90.3 576.5a1.2 1.2 0 1 0 2.4 0a1.2 1.2 0 1 0-2.4 0zM419.1 642.2a1.2 1.2 0 1 0 2.4 0a1.2 1.2 0 1 0-2.4 0zM447.9 594.1a1.2 1.2 0 1 0 2.4 0a1.2 1.2 0 1 0-2.4 0zM270.3 673.6a1.2 1.2 0 1 0 2.4 0a1.2 1.2 0 1 0-2.4 0zM450.4 602.0a1.2 1.2 0 1 0 2.4 0a1.2 1.2 0 1 0-2.4 0zM375.1 682.9a1.2 1.2 0 1 0 2.4 0a1.2 1.2 0 1 0-2.4 0zM444.8 599.1a1.2 1.2 0 1 0 2.4 0a1.2 1.2 0 1 0-2.4 0zM178.4 667.7a1.2 1.2 0 1 0 2.4 0a1.2 1.2 0 1 0-2.4 0zM298.6 682.8a1.2 1.2 0 1 0 2.4 0a1.2 1.2 0 1 0-2.4 0zM413.3 644.6a1.2 1.2 0 1 0 2.4 0a1.2 1.2 0 1 0-2.4 0zM292.6 659.2a1.2 1.2 0 1 0 2.4 0a1.2 1.2 0 1 0-2.4 0zM459.0 586.4a1.2 1.2 0 1 0 2.4 0a1.2 1.2 0 1 0-2.4 0zM452.8 641.8a1.2 1.2 0 1 0 2.4 0a1.2 1.2 0 1 0-2.4 0zM161.1 663.8a1.2 1.2 0 1 0 2.4 0a1.2 1.2 0 1 0-2.4 0zM449.8 653.4a1.2 1.2 0 1 0 2.4 0a1.2 1.2 0 1 0-2.4 0zM421.0 649.4a1.2 1.2 0 1 0 2.4 0a1.2 1.2 0 1 0-2.4 0zM455.8 625.5a1.2 1.2 0 1 0 2.4 0a1.2 1.2 0 1 0-2.4 0zM404.1 628.8a1.2 1.2 0 1 0 2.4 0a1.2 1.2 0 1 0-2.4 0zM101.1 489.7a1.2 1.2 0 1 0 2.4 0a1.2 1.2 0 1 0-2.4 0zM422.4 658.1a1.2 1.2 0 1 0 2.4 0a1.2 1.2 0 1 0-2.4 0zM470.9 579.5a1.2 1.2 0 1 0 2.4 0a1.2 1.2 0 1 0-2.4 0zM457.6 630.7a1.2 1.2 0 1 0 2.4 0a1.2 1.2 0 1 0-2.4 0zM95.5 516.4a1.2 1.2 0 1 0 2.4 0a1.2 1.2 0 1 0-2.4 0zM436.2 646.9a1.2 1.2 0 1 0 2.4 0a1.2 1.2 0 1 0-2.4 0zM462.2 652.9a1.2 1.2 0 1 0 2.4 0a1.2 1.2 0 1 0-2.4 0zM100.2 586.0a1.2 1.2 0 1 0 2.4 0a1.2 1.2 0 1 0-2.4 0zM148.2 665.8a1.2 1.2 0 1 0 2.4 0a1.2 1.2 0 1 0-2.4 0zM101.0 620.3a1.2 1.2 0 1 0 2.4 0a1.2 1.2 0 1 0-2.4 0zM128.3 641.9a1.2 1.2 0 1 0 2.4 0a1.2 1.2 0 1 0-2.4 0zM461.1 641.1a1.2 1.2 0 1 0 2.4 0a1.2 1.2 0 1 0-2.4 0zM447.2 638.3a1.2 1.2 0 1 0 2.4 0a1.2 1.2 0 1 0-2.4 0zM424.8 653.5a1.2 1.2 0 1 0 2.4 0a1.2 1.2 0 1 0-2.4 0zM204.4 665.6a1.2 1.2 0 1 0 2.4 0a1.2 1.2 0 1 0-2.4 0zM430.6 651.4a1.2 1.2 0 1 0 2.4 0a1.2 1.2 0 1 0-2.4 0zM456.6 595.7a1.2 1.2 0 1 0 2.4 0a1.2 1.2 0 1 0-2.4 0zM400.1 644.0a1.2 1.2 0 1 0 2.4 0a1.2 1.2 0 1 0-2.4 0zM379.0 666.3a1.2 1.2 0 1 0 2.4 0a1.2 1.2 0 1 0-2.4 0zM462.7 596.4a1.2 1.2 0 1 0 2.4 0a1.2 1.2 0 1 0-2.4 0zM405.2 646.9a1.2 1.2 0 1 0 2.4 0a1.2 1.2 0 1 0-2.4 0zM430.1 594.0a1.2 1.2 0 1 0 2.4 0a1.2 1.2 0 1 0-2.4 0zM103.5 581.2a1.2 1.2 0 1 0 2.4 0a1.2 1.2 0 1 0-2.4 0zM391.2 652.0a1.2 1.2 0 1 0 2.4 0a1.2 1.2 0 1 0-2.4 0zM452.0 661.3a1.2 1.2 0 1 0 2.4 0a1.2 1.2 0 1 0-2.4 0zM150.4 671.6a1.2 1.2 0 1 0 2.4 0a1.2 1.2 0 1 0-2.4 0zM142.6 653.0a1.2 1.2 0 1 0 2.4 0a1.2 1.2 0 1 0-2.4 0zM483.0 560.4a1.2 1.2 0 1 0 2.4 0a1.2 1.2 0 1 0-2.4 0zM96.8 626.5a1.2 1.2 0 1 0 2.4 0a1.2 1.2 0 1 0-2.4 0zM399.9 651.2a1.2 1.2 0 1 0 2.4 0a1.2 1.2 0 1 0-2.4 0zM119.7 482.0a1.2 1.2 0 1 0 2.4 0a1.2 1.2 0 1 0-2.4 0zM137.8 657.4a1.2 1.2 0 1 0 2.4 0a1.2 1.2 0 1 0-2.4 0zM474.0 661.8a1.2 1.2 0 1 0 2.4 0a1.2 1.2 0 1 0-2.4 0zM469.4 611.4a1.2 1.2 0 1 0 2.4 0a1.2 1.2 0 1 0-2.4 0zM191.6 679.8a1.2 1.2 0 1 0 2.4 0a1.2 1.2 0 1 0-2.4 0zM425.2 672.7a1.2 1.2 0 1 0 2.4 0a1.2 1.2 0 1 0-2.4 0zM153.5 675.9a1.2 1.2 0 1 0 2.4 0a1.2 1.2 0 1 0-2.4 0zM452.5 633.6a1.2 1.2 0 1 0 2.4 0a1.2 1.2 0 1 0-2.4 0zM180.3 672.5a1.2 1.2 0 1 0 2.4 0a1.2 1.2 0 1 0-2.4 0zM98.4 578.7a1.2 1.2 0 1 0 2.4 0a1.2 1.2 0 1 0-2.4 0zM469.6 596.8a1.2 1.2 0 1 0 2.4 0a1.2 1.2 0 1 0-2.4 0zM96.3 592.4a1.2 1.2 0 1 0 2.4 0a1.2 1.2 0 1 0-2.4 0zM186.9 687.2a1.2 1.2 0 1 0 2.4 0a1.2 1.2 0 1 0-2.4 0zM113.5 600.9a1.2 1.2 0 1 0 2.4 0a1.2 1.2 0 1 0-2.4 0zM449.6 669.6a1.2 1.2 0 1 0 2.4 0a1.2 1.2 0 1 0-2.4 0zM475.3 610.2a1.2 1.2 0 1 0 2.4 0a1.2 1.2 0 1 0-2.4 0zM225.2 672.0a1.2 1.2 0 1 0 2.4 0a1.2 1.2 0 1 0-2.4 0zM474.4 584.9a1.2 1.2 0 1 0 2.4 0a1.2 1.2 0 1 0-2.4 0zM475.0 594.1a1.2 1.2 0 1 0 2.4 0a1.2 1.2 0 1 0-2.4 0zM106.8 482.7a1.2 1.2 0 1 0 2.4 0a1.2 1.2 0 1 0-2.4 0zM95.8 479.1a1.2 1.2 0 1 0 2.4 0a1.2 1.2 0 1 0-2.4 0zM463.1 675.7a1.2 1.2 0 1 0 2.4 0a1.2 1.2 0 1 0-2.4 0zM89.5 624.9a1.2 1.2 0 1 0 2.4 0a1.2 1.2 0 1 0-2.4 0zM88.1 528.4a1.2 1.2 0 1 0 2.4 0a1.2 1.2 0 1 0-2.4 0zM134.6 668.1a1.2 1.2 0 1 0 2.4 0a1.2 1.2 0 1 0-2.4 0zM482.5 568.6a1.2 1.2 0 1 0 2.4 0a1.2 1.2 0 1 0-2.4 0zM130.5 649.5a1.2 1.2 0 1 0 2.4 0a1.2 1.2 0 1 0-2.4 0zM90.1 611.4a1.2 1.2 0 1 0 2.4 0a1.2 1.2 0 1 0-2.4 0zM483.1 665.6a1.2 1.2 0 1 0 2.4 0a1.2 1.2 0 1 0-2.4 0zM483.6 659.1a1.2 1.2 0 1 0 2.4 0a1.2 1.2 0 1 0-2.4 0zM432.8 671.1a1.2 1.2 0 1 0 2.4 0a1.2 1.2 0 1 0-2.4 0zM113.6 645.5a1.2 1.2 0 1 0 2.4 0a1.2 1.2 0 1 0-2.4 0zM478.1 675.4a1.2 1.2 0 1 0 2.4 0a1.2 1.2 0 1 0-2.4 0zM117.5 635.8a1.2 1.2 0 1 0 2.4 0a1.2 1.2 0 1 0-2.4 0zM247.5 678.9a1.2 1.2 0 1 0 2.4 0a1.2 1.2 0 1 0-2.4 0zM125.0 665.1a1.2 1.2 0 1 0 2.4 0a1.2 1.2 0 1 0-2.4 0zM477.8 589.0a1.2 1.2 0 1 0 2.4 0a1.2 1.2 0 1 0-2.4 0zM484.3 598.1a1.2 1.2 0 1 0 2.4 0a1.2 1.2 0 1 0-2.4 0zM408.9 663.7a1.2 1.2 0 1 0 2.4 0a1.2 1.2 0 1 0-2.4 0zM411.8 620.9a1.2 1.2 0 1 0 2.4 0a1.2 1.2 0 1 0-2.4 0zM452.7 585.5a1.2 1.2 0 1 0 2.4 0a1.2 1.2 0 1 0-2.4 0zM405.6 675.4a1.2 1.2 0 1 0 2.4 0a1.2 1.2 0 1 0-2.4 0zM429.7 666.8a1.2 1.2 0 1 0 2.4 0a1.2 1.2 0 1 0-2.4 0zM483.5 607.0a1.2 1.2 0 1 0 2.4 0a1.2 1.2 0 1 0-2.4 0zM484.8 681.0a1.2 1.2 0 1 0 2.4 0a1.2 1.2 0 1 0-2.4 0zM218.8 678.5a1.2 1.2 0 1 0 2.4 0a1.2 1.2 0 1 0-2.4 0zM477.3 614.9a1.2 1.2 0 1 0 2.4 0a1.2 1.2 0 1 0-2.4 0zM125.0 674.8a1.2 1.2 0 1 0 2.4 0a1.2 1.2 0 1 0-2.4 0zM492.0 679.1a1.2 1.2 0 1 0 2.4 0a1.2 1.2 0 1 0-2.4 0zM167.1 673.5a1.2 1.2 0 1 0 2.4 0a1.2 1.2 0 1 0-2.4 0zM169.1 682.2a1.2 1.2 0 1 0 2.4 0a1.2 1.2 0 1 0-2.4 0zM419.8 682.2a1.2 1.2 0 1 0 2.4 0a1.2 1.2 0 1 0-2.4 0zM490.0 596.3a1.2 1.2 0 1 0 2.4 0a1.2 1.2 0 1 0-2.4 0zM436.9 686.3a1.2 1.2 0 1 0 2.4 0a1.2 1.2 0 1 0-2.4 0zM160.3 668.9a1.2 1.2 0 1 0 2.4 0a1.2 1.2 0 1 0-2.4 0zM411.7 681.5a1.2 1.2 0 1 0 2.4 0a1.2 1.2 0 1 0-2.4 0zM413.2 686.7a1.2 1.2 0 1 0 2.4 0a1.2 1.2 0 1 0-2.4 0zM179.5 686.6a1.2 1.2 0 1 0 2.4 0a1.2 1.2 0 1 0-2.4 0zM186.7 681.9a1.2 1.2 0 1 0 2.4 0a1.2 1.2 0 1 0-2.4 0zM494.8 572.4a1.2 1.2 0 1 0 2.4 0a1.2 1.2 0 1 0-2.4 0zM410.8 668.5a1.2 1.2 0 1 0 2.4 0a1.2 1.2 0 1 0-2.4 0zM106.0 660.6a1.2 1.2 0 1 0 2.4 0a1.2 1.2 0 1 0-2.4 0zM99.0 642.4a1.2 1.2 0 1 0 2.4 0a1.2 1.2 0 1 0-2.4 0zM469.8 679.0a1.2 1.2 0 1 0 2.4 0a1.2 1.2 0 1 0-2.4 0zM420.0 673.4a1.2 1.2 0 1 0 2.4 0a1.2 1.2 0 1 0-2.4 0zM405.7 680.8a1.2 1.2 0 1 0 2.4 0a1.2 1.2 0 1 0-2.4 0zM97.7 656.8a1.2 1.2 0 1 0 2.4 0a1.2 1.2 0 1 0-2.4 0zM205.8 679.7a1.2 1.2 0 1 0 2.4 0a1.2 1.2 0 1 0-2.4 0zM98.2 634.5a1.2 1.2 0 1 0 2.4 0a1.2 1.2 0 1 0-2.4 0zM479.2 597.4a1.2 1.2 0 1 0 2.4 0a1.2 1.2 0 1 0-2.4 0zM120.4 678.0a1.2 1.2 0 1 0 2.4 0a1.2 1.2 0 1 0-2.4 0zM99.5 648.6a1.2 1.2 0 1 0 2.4 0a1.2 1.2 0 1 0-2.4 0zM395.9 648.0a1.2 1.2 0 1 0 2.4 0a1.2 1.2 0 1 0-2.4 0zM486.9 650.6a1.2 1.2 0 1 0 2.4 0a1.2 1.2 0 1 0-2.4 0zM488.2 604.2a1.2 1.2 0 1 0 2.4 0a1.2 1.2 0 1 0-2.4 0zM490.9 643.1a1.2 1.2 0 1 0 2.4 0a1.2 1.2 0 1 0-2.4 0zM468.9 688.2a1.2 1.2 0 1 0 2.4 0a1.2 1.2 0 1 0-2.4 0zM91.8 640.4a1.2 1.2 0 1 0 2.4 0a1.2 1.2 0 1 0-2.4 0zM389.2 682.8a1.2 1.2 0 1 0 2.4 0a1.2 1.2 0 1 0-2.4 0zM482.2 686.9a1.2 1.2 0 1 0 2.4 0a1.2 1.2 0 1 0-2.4 0zM493.1 601.9a1.2 1.2 0 1 0 2.4 0a1.2 1.2 0 1 0-2.4 0zM483.4 614.4a1.2 1.2 0 1 0 2.4 0a1.2 1.2 0 1 0-2.4 0zM493.3 611.8a1.2 1.2 0 1 0 2.4 0a1.2 1.2 0 1 0-2.4 0zM401.0 678.1a1.2 1.2 0 1 0 2.4 0a1.2 1.2 0 1 0-2.4 0zM501.0 662.8a1.2 1.2 0 1 0 2.4 0a1.2 1.2 0 1 0-2.4 0zM498.5 604.4a1.2 1.2 0 1 0 2.4 0a1.2 1.2 0 1 0-2.4 0zM95.0 679.8a1.2 1.2 0 1 0 2.4 0a1.2 1.2 0 1 0-2.4 0zM474.1 650.7a1.2 1.2 0 1 0 2.4 0a1.2 1.2 0 1 0-2.4 0zM506.3 687.5a1.2 1.2 0 1 0 2.4 0a1.2 1.2 0 1 0-2.4 0zM234.0 685.9a1.2 1.2 0 1 0 2.4 0a1.2 1.2 0 1 0-2.4 0zM482.8 632.3a1.2 1.2 0 1 0 2.4 0a1.2 1.2 0 1 0-2.4 0zM175.3 674.0a1.2 1.2 0 1 0 2.4 0a1.2 1.2 0 1 0-2.4 0zM474.3 639.5a1.2 1.2 0 1 0 2.4 0a1.2 1.2 0 1 0-2.4 0zM149.8 687.2a1.2 1.2 0 1 0 2.4 0a1.2 1.2 0 1 0-2.4 0zM469.5 626.9a1.2 1.2 0 1 0 2.4 0a1.2 1.2 0 1 0-2.4 0zM498.8 627.2a1.2 1.2 0 1 0 2.4 0a1.2 1.2 0 1 0-2.4 0zM90.4 686.4a1.2 1.2 0 1 0 2.4 0a1.2 1.2 0 1 0-2.4 0zM507.0 581.9a1.2 1.2 0 1 0 2.4 0a1.2 1.2 0 1 0-2.4 0zM512.9 677.1a1.2 1.2 0 1 0 2.4 0a1.2 1.2 0 1 0-2.4 0zM517.1 593.9a1.2 1.2 0 1 0 2.4 0a1.2 1.2 0 1 0-2.4 0zM503.9 598.1a1.2 1.2 0 1 0 2.4 0a1.2 1.2 0 1 0-2.4 0zM477.8 681.8a1.2 1.2 0 1 0 2.4 0a1.2 1.2 0 1 0-2.4 0zM498.2 671.7a1.2 1.2 0 1 0 2.4 0a1.2 1.2 0 1 0-2.4 0zM505.8 604.6a1.2 1.2 0 1 0 2.4 0a1.2 1.2 0 1 0-2.4 0zM89.3 679.3a1.2 1.2 0 1 0 2.4 0a1.2 1.2 0 1 0-2.4 0zM499.8 645.6a1.2 1.2 0 1 0 2.4 0a1.2 1.2 0 1 0-2.4 0zM504.3 656.0a1.2 1.2 0 1 0 2.4 0a1.2 1.2 0 1 0-2.4 0zM518.4 678.8a1.2 1.2 0 1 0 2.4 0a1.2 1.2 0 1 0-2.4 0zM95.6 685.1a1.2 1.2 0 1 0 2.4 0a1.2 1.2 0 1 0-2.4 0zM492.7 625.5a1.2 1.2 0 1 0 2.4 0a1.2 1.2 0 1 0-2.4 0zM517.0 683.7a1.2 1.2 0 1 0 2.4 0a1.2 1.2 0 1 0-2.4 0zM525.1 687.2a1.2 1.2 0 1 0 2.4 0a1.2 1.2 0 1 0-2.4 0zM510.0 635.5a1.2 1.2 0 1 0 2.4 0a1.2 1.2 0 1 0-2.4 0zM514.0 662.4a1.2 1.2 0 1 0 2.4 0a1.2 1.2 0 1 0-2.4 0zM518.4 606.6a1.2 1.2 0 1 0 2.4 0a1.2 1.2 0 1 0-2.4 0zM511.3 625.5a1.2 1.2 0 1 0 2.4 0a1.2 1.2 0 1 0-2.4 0zM520.4 651.8a1.2 1.2 0 1 0 2.4 0a1.2 1.2 0 1 0-2.4 0zM539.4 608.4a1.2 1.2 0 1 0 2.4 0a1.2 1.2 0 1 0-2.4 0zM533.4 594.5a1.2 1.2 0 1 0 2.4 0a1.2 1.2 0 1 0-2.4 0zM525.2 653.4a1.2 1.2 0 1 0 2.4 0a1.2 1.2 0 1 0-2.4 0zM525.5 619.2a1.2 1.2 0 1 0 2.4 0a1.2 1.2 0 1 0-2.4 0zM516.4 634.1a1.2 1.2 0 1 0 2.4 0a1.2 1.2 0 1 0-2.4 0zM549.3 609.6a1.2 1.2 0 1 0 2.4 0a1.2 1.2 0 1 0-2.4 0zM519.0 617.1a1.2 1.2 0 1 0 2.4 0a1.2 1.2 0 1 0-2.4 0zM534.8 575.5a1.2 1.2 0 1 0 2.4 0a1.2 1.2 0 1 0-2.4 0zM514.9 640.1a1.2 1.2 0 1 0 2.4 0a1.2 1.2 0 1 0-2.4 0zM527.7 682.2a1.2 1.2 0 1 0 2.4 0a1.2 1.2 0 1 0-2.4 0zM528.5 657.6a1.2 1.2 0 1 0 2.4 0a1.2 1.2 0 1 0-2.4 0zM547.8 677.6a1.2 1.2 0 1 0 2.4 0a1.2 1.2 0 1 0-2.4 0zM538.7 598.4a1.2 1.2 0 1 0 2.4 0a1.2 1.2 0 1 0-2.4 0zM543.7 673.6a1.2 1.2 0 1 0 2.4 0a1.2 1.2 0 1 0-2.4 0zM540.7 634.6a1.2 1.2 0 1 0 2.4 0a1.2 1.2 0 1 0-2.4 0zM542.2 658.1a1.2 1.2 0 1 0 2.4 0a1.2 1.2 0 1 0-2.4 0zM548.3 596.1a1.2 1.2 0 1 0 2.4 0a1.2 1.2 0 1 0-2.4 0zM541.9 603.5a1.2 1.2 0 1 0 2.4 0a1.2 1.2 0 1 0-2.4 0zM551.6 601.1a1.2 1.2 0 1 0 2.4 0a1.2 1.2 0 1 0-2.4 0zM568.8 675.0a1.2 1.2 0 1 0 2.4 0a1.2 1.2 0 1 0-2.4 0zM544.5 587.7a1.2 1.2 0 1 0 2.4 0a1.2 1.2 0 1 0-2.4 0zM550.6 666.5a1.2 1.2 0 1 0 2.4 0a1.2 1.2 0 1 0-2.4 0zM566.1 684.6a1.2 1.2 0 1 0 2.4 0a1.2 1.2 0 1 0-2.4 0zM537.3 590.1a1.2 1.2 0 1 0 2.4 0a1.2 1.2 0 1 0-2.4 0zM542.5 628.3a1.2 1.2 0 1 0 2.4 0a1.2 1.2 0 1 0-2.4 0zM559.7 618.5a1.2 1.2 0 1 0 2.4 0a1.2 1.2 0 1 0-2.4 0zM552.7 581.2a1.2 1.2 0 1 0 2.4 0a1.2 1.2 0 1 0-2.4 0zM555.6 609.9a1.2 1.2 0 1 0 2.4 0a1.2 1.2 0 1 0-2.4 0zM549.5 638.9a1.2 1.2 0 1 0 2.4 0a1.2 1.2 0 1 0-2.4 0zM552.7 649.3a1.2 1.2 0 1 0 2.4 0a1.2 1.2 0 1 0-2.4 0zM559.6 650.8a1.2 1.2 0 1 0 2.4 0a1.2 1.2 0 1 0-2.4 0zM562.1 610.4a1.2 1.2 0 1 0 2.4 0a1.2 1.2 0 1 0-2.4 0zM557.4 657.7a1.2 1.2 0 1 0 2.4 0a1.2 1.2 0 1 0-2.4 0zM537.4 662.5a1.2 1.2 0 1 0 2.4 0a1.2 1.2 0 1 0-2.4 0zM543.8 652.5a1.2 1.2 0 1 0 2.4 0a1.2 1.2 0 1 0-2.4 0zM585.7 668.4a1.2 1.2 0 1 0 2.4 0a1.2 1.2 0 1 0-2.4 0zM563.7 643.6a1.2 1.2 0 1 0 2.4 0a1.2 1.2 0 1 0-2.4 0zM568.7 628.1a1.2 1.2 0 1 0 2.4 0a1.2 1.2 0 1 0-2.4 0zM571.4 578.9a1.2 1.2 0 1 0 2.4 0a1.2 1.2 0 1 0-2.4 0zM538.3 673.4a1.2 1.2 0 1 0 2.4 0a1.2 1.2 0 1 0-2.4 0zM572.9 665.2a1.2 1.2 0 1 0 2.4 0a1.2 1.2 0 1 0-2.4 0zM602.3 685.5a1.2 1.2 0 1 0 2.4 0a1.2 1.2 0 1 0-2.4 0zM586.6 583.4a1.2 1.2 0 1 0 2.4 0a1.2 1.2 0 1 0-2.4 0zM575.4 619.0a1.2 1.2 0 1 0 2.4 0a1.2 1.2 0 1 0-2.4 0zM573.3 643.8a1.2 1.2 0 1 0 2.4 0a1.2 1.2 0 1 0-2.4 0zM547.3 661.4a1.2 1.2 0 1 0 2.4 0a1.2 1.2 0 1 0-2.4 0zM573.4 658.8a1.2 1.2 0 1 0 2.4 0a1.2 1.2 0 1 0-2.4 0zM573.9 652.1a1.2 1.2 0 1 0 2.4 0a1.2 1.2 0 1 0-2.4 0zM579.9 588.9a1.2 1.2 0 1 0 2.4 0a1.2 1.2 0 1 0-2.4 0zM589.2 593.3a1.2 1.2 0 1 0 2.4 0a1.2 1.2 0 1 0-2.4 0zM579.8 633.5a1.2 1.2 0 1 0 2.4 0a1.2 1.2 0 1 0-2.4 0zM587.6 662.9a1.2 1.2 0 1 0 2.4 0a1.2 1.2 0 1 0-2.4 0zM568.6 641.1a1.2 1.2 0 1 0 2.4 0a1.2 1.2 0 1 0-2.4 0zM585.4 588.4a1.2 1.2 0 1 0 2.4 0a1.2 1.2 0 1 0-2.4 0zM585.2 629.2a1.2 1.2 0 1 0 2.4 0a1.2 1.2 0 1 0-2.4 0zM578.3 602.0a1.2 1.2 0 1 0 2.4 0a1.2 1.2 0 1 0-2.4 0zM591.3 667.9a1.2 1.2 0 1 0 2.4 0a1.2 1.2 0 1 0-2.4 0zM594.6 651.7a1.2 1.2 0 1 0 2.4 0a1.2 1.2 0 1 0-2.4 0zM611.7 677.3a1.2 1.2 0 1 0 2.4 0a1.2 1.2 0 1 0-2.4 0zM599.4 583.1a1.2 1.2 0 1 0 2.4 0a1.2 1.2 0 1 0-2.4 0zM578.9 624.1a1.2 1.2 0 1 0 2.4 0a1.2 1.2 0 1 0-2.4 0zM596.2 671.8a1.2 1.2 0 1 0 2.4 0a1.2 1.2 0 1 0-2.4 0zM617.4 668.7a1.2 1.2 0 1 0 2.4 0a1.2 1.2 0 1 0-2.4 0zM612.5 591.4a1.2 1.2 0 1 0 2.4 0a1.2 1.2 0 1 0-2.4 0zM618.0 596.3a1.2 1.2 0 1 0 2.4 0a1.2 1.2 0 1 0-2.4 0zM625.0 671.4a1.2 1.2 0 1 0 2.4 0a1.2 1.2 0 1 0-2.4 0zM632.7 677.7a1.2 1.2 0 1 0 2.4 0a1.2 1.2 0 1 0-2.4 0zM594.9 616.3a1.2 1.2 0 1 0 2.4 0a1.2 1.2 0 1 0-2.4 0zM600.0 627.6a1.2 1.2 0 1 0 2.4 0a1.2 1.2 0 1 0-2.4 0zM589.9 612.8a1.2 1.2 0 1 0 2.4 0a1.2 1.2 0 1 0-2.4 0zM626.8 666.6a1.2 1.2 0 1 0 2.4 0a1.2 1.2 0 1 0-2.4 0zM627.4 656.1a1.2 1.2 0 1 0 2.4 0a1.2 1.2 0 1 0-2.4 0zM596.6 610.6a1.2 1.2 0 1 0 2.4 0a1.2 1.2 0 1 0-2.4 0zM617.2 653.7a1.2 1.2 0 1 0 2.4 0a1.2 1.2 0 1 0-2.4 0zM639.4 667.8a1.2 1.2 0 1 0 2.4 0a1.2 1.2 0 1 0-2.4 0zM592.4 641.2a1.2 1.2 0 1 0 2.4 0a1.2 1.2 0 1 0-2.4 0zM617.3 618.7a1.2 1.2 0 1 0 2.4 0a1.2 1.2 0 1 0-2.4 0zM634.7 656.2a1.2 1.2 0 1 0 2.4 0a1.2 1.2 0 1 0-2.4 0zM658.1 655.4a1.2 1.2 0 1 0 2.4 0a1.2 1.2 0 1 0-2.4 0zM612.9 639.1a1.2 1.2 0 1 0 2.4 0a1.2 1.2 0 1 0-2.4 0zM614.1 647.0a1.2 1.2 0 1 0 2.4 0a1.2 1.2 0 1 0-2.4 0zM639.4 687.4a1.2 1.2 0 1 0 2.4 0a1.2 1.2 0 1 0-2.4 0zM636.1 671.9a1.2 1.2 0 1 0 2.4 0a1.2 1.2 0 1 0-2.4 0zM647.0 665.7a1.2 1.2 0 1 0 2.4 0a1.2 1.2 0 1 0-2.4 0zM611.7 621.7a1.2 1.2 0 1 0 2.4 0a1.2 1.2 0 1 0-2.4 0zM633.7 602.5a1.2 1.2 0 1 0 2.4 0a1.2 1.2 0 1 0-2.4 0zM640.0 652.1a1.2 1.2 0 1 0 2.4 0a1.2 1.2 0 1 0-2.4 0zM633.8 618.8a1.2 1.2 0 1 0 2.4 0a1.2 1.2 0 1 0-2.4 0zM656.2 686.7a1.2 1.2 0 1 0 2.4 0a1.2 1.2 0 1 0-2.4 0zM648.5 686.2a1.2 1.2 0 1 0 2.4 0a1.2 1.2 0 1 0-2.4 0zM655.8 678.4a1.2 1.2 0 1 0 2.4 0a1.2 1.2 0 1 0-2.4 0zM631.1 643.7a1.2 1.2 0 1 0 2.4 0a1.2 1.2 0 1 0-2.4 0zM630.3 614.6a1.2 1.2 0 1 0 2.4 0a1.2 1.2 0 1 0-2.4 0zM635.7 623.8a1.2 1.2 0 1 0 2.4 0a1.2 1.2 0 1 0-2.4 0zM616.9 623.8a1.2 1.2 0 1 0 2.4 0a1.2 1.2 0 1 0-2.4 0zM665.9 680.1a1.2 1.2 0 1 0 2.4 0a1.2 1.2 0 1 0-2.4 0zM646.4 610.4a1.2 1.2 0 1 0 2.4 0a1.2 1.2 0 1 0-2.4 0zM665.4 646.9a1.2 1.2 0 1 0 2.4 0a1.2 1.2 0 1 0-2.4 0zM651.6 648.9a1.2 1.2 0 1 0 2.4 0a1.2 1.2 0 1 0-2.4 0zM661.0 676.7a1.2 1.2 0 1 0 2.4 0a1.2 1.2 0 1 0-2.4 0zM669.6 675.1a1.2 1.2 0 1 0 2.4 0a1.2 1.2 0 1 0-2.4 0zM644.6 615.6a1.2 1.2 0 1 0 2.4 0a1.2 1.2 0 1 0-2.4 0zM652.3 611.7a1.2 1.2 0 1 0 2.4 0a1.2 1.2 0 1 0-2.4 0zM644.7 637.0a1.2 1.2 0 1 0 2.4 0a1.2 1.2 0 1 0-2.4 0zM675.5 637.9a1.2 1.2 0 1 0 2.4 0a1.2 1.2 0 1 0-2.4 0zM638.9 634.8a1.2 1.2 0 1 0 2.4 0a1.2 1.2 0 1 0-2.4 0zM653.6 626.4a1.2 1.2 0 1 0 2.4 0a1.2 1.2 0 1 0-2.4 0zM646.4 622.9a1.2 1.2 0 1 0 2.4 0a1.2 1.2 0 1 0-2.4 0zM658.5 632.9a1.2 1.2 0 1 0 2.4 0a1.2 1.2 0 1 0-2.4 0zM660.7 625.2a1.2 1.2 0 1 0 2.4 0a1.2 1.2 0 1 0-2.4 0zM675.9 631.3a1.2 1.2 0 1 0 2.4 0a1.2 1.2 0 1 0-2.4 0zM680.2 657.5a1.2 1.2 0 1 0 2.4 0a1.2 1.2 0 1 0-2.4 0zM662.0 612.1a1.2 1.2 0 1 0 2.4 0a1.2 1.2 0 1 0-2.4 0zM689.7 663.1a1.2 1.2 0 1 0 2.4 0a1.2 1.2 0 1 0-2.4 0zM689.1 626.3a1.2 1.2 0 1 0 2.4 0a1.2 1.2 0 1 0-2.4 0zM678.9 642.4a1.2 1.2 0 1 0 2.4 0a1.2 1.2 0 1 0-2.4 0zM657.4 609.1a1.2 1.2 0 1 0 2.4 0a1.2 1.2 0 1 0-2.4 0zM668.1 614.9a1.2 1.2 0 1 0 2.4 0a1.2 1.2 0 1 0-2.4 0zM694.2 637.6a1.2 1.2 0 1 0 2.4 0a1.2 1.2 0 1 0-2.4 0zM648.0 628.3a1.2 1.2 0 1 0 2.4 0a1.2 1.2 0 1 0-2.4 0zM684.1 624.5a1.2 1.2 0 1 0 2.4 0a1.2 1.2 0 1 0-2.4 0zM671.0 683.1a1.2 1.2 0 1 0 2.4 0a1.2 1.2 0 1 0-2.4 0zM676.1 676.5a1.2 1.2 0 1 0 2.4 0a1.2 1.2 0 1 0-2.4 0zM690.2 632.3a1.2 1.2 0 1 0 2.4 0a1.2 1.2 0 1 0-2.4 0zM694.1 628.3a1.2 1.2 0 1 0 2.4 0a1.2 1.2 0 1 0-2.4 0zM688.4 611.1a1.2 1.2 0 1 0 2.4 0a1.2 1.2 0 1 0-2.4 0zM697.7 646.5a1.2 1.2 0 1 0 2.4 0a1.2 1.2 0 1 0-2.4 0zM697.9 682.1a1.2 1.2 0 1 0 2.4 0a1.2 1.2 0 1 0-2.4 0zM697.6 613.3a1.2 1.2 0 1 0 2.4 0a1.2 1.2 0 1 0-2.4 0zM711.9 657.1a1.2 1.2 0 1 0 2.4 0a1.2 1.2 0 1 0-2.4 0zM704.4 685.1a1.2 1.2 0 1 0 2.4 0a1.2 1.2 0 1 0-2.4 0zM683.5 687.1a1.2 1.2 0 1 0 2.4 0a1.2 1.2 0 1 0-2.4 0zM710.7 639.0a1.2 1.2 0 1 0 2.4 0a1.2 1.2 0 1 0-2.4 0zM708.9 682.4a1.2 1.2 0 1 0 2.4 0a1.2 1.2 0 1 0-2.4 0zM705.5 621.5a1.2 1.2 0 1 0 2.4 0a1.2 1.2 0 1 0-2.4 0zM714.9 661.6a1.2 1.2 0 1 0 2.4 0a1.2 1.2 0 1 0-2.4 0zM722.5 646.2a1.2 1.2 0 1 0 2.4 0a1.2 1.2 0 1 0-2.4 0zM727.8 626.0a1.2 1.2 0 1 0 2.4 0a1.2 1.2 0 1 0-2.4 0zM727.6 619.4a1.2 1.2 0 1 0 2.4 0a1.2 1.2 0 1 0-2.4 0z" fill="#000"/>
<path d="M291.9 524.0a.85 .85 0 1 0 1.7 0a.85 .85 0 1 0-1.7 0zM305.4 520.8a.85 .85 0 1 0 1.7 0a.85 .85 0 1 0-1.7 0zM289.4 518.8a.85 .85 0 1 0 1.7 0a.85 .85 0 1 0-1.7 0zM302.6 525.4a.85 .85 0 1 0 1.7 0a.85 .85 0 1 0-1.7 0zM283.3 523.3a.85 .85 0 1 0 1.7 0a.85 .85 0 1 0-1.7 0zM282.8 518.0a.85 .85 0 1 0 1.7 0a.85 .85 0 1 0-1.7 0zM276.7 523.5a.85 .85 0 1 0 1.7 0a.85 .85 0 1 0-1.7 0zM291.5 531.9a.85 .85 0 1 0 1.7 0a.85 .85 0 1 0-1.7 0zM285.9 529.8a.85 .85 0 1 0 1.7 0a.85 .85 0 1 0-1.7 0zM269.4 522.2a.85 .85 0 1 0 1.7 0a.85 .85 0 1 0-1.7 0zM299.3 536.5a.85 .85 0 1 0 1.7 0a.85 .85 0 1 0-1.7 0zM272.0 516.1a.85 .85 0 1 0 1.7 0a.85 .85 0 1 0-1.7 0zM316.9 525.4a.85 .85 0 1 0 1.7 0a.85 .85 0 1 0-1.7 0zM260.3 510.8a.85 .85 0 1 0 1.7 0a.85 .85 0 1 0-1.7 0zM277.1 516.0a.85 .85 0 1 0 1.7 0a.85 .85 0 1 0-1.7 0zM285.5 544.1a.85 .85 0 1 0 1.7 0a.85 .85 0 1 0-1.7 0zM256.2 519.6a.85 .85 0 1 0 1.7 0a.85 .85 0 1 0-1.7 0zM270.9 534.6a.85 .85 0 1 0 1.7 0a.85 .85 0 1 0-1.7 0zM255.2 512.3a.85 .85 0 1 0 1.7 0a.85 .85 0 1 0-1.7 0zM302.9 532.5a.85 .85 0 1 0 1.7 0a.85 .85 0 1 0-1.7 0zM308.8 529.2a.85 .85 0 1 0 1.7 0a.85 .85 0 1 0-1.7 0zM276.2 539.0a.85 .85 0 1 0 1.7 0a.85 .85 0 1 0-1.7 0zM263.3 522.6a.85 .85 0 1 0 1.7 0a.85 .85 0 1 0-1.7 0zM276.0 545.0a.85 .85 0 1 0 1.7 0a.85 .85 0 1 0-1.7 0zM270.9 541.3a.85 .85 0 1 0 1.7 0a.85 .85 0 1 0-1.7 0zM291.2 542.7a.85 .85 0 1 0 1.7 0a.85 .85 0 1 0-1.7 0zM256.8 526.4a.85 .85 0 1 0 1.7 0a.85 .85 0 1 0-1.7 0zM334.4 527.4a.85 .85 0 1 0 1.7 0a.85 .85 0 1 0-1.7 0zM282.6 548.5a.85 .85 0 1 0 1.7 0a.85 .85 0 1 0-1.7 0zM307.4 539.1a.85 .85 0 1 0 1.7 0a.85 .85 0 1 0-1.7 0zM274.1 528.7a.85 .85 0 1 0 1.7 0a.85 .85 0 1 0-1.7 0zM340.3 529.1a.85 .85 0 1 0 1.7 0a.85 .85 0 1 0-1.7 0zM300.7 545.9a.85 .85 0 1 0 1.7 0a.85 .85 0 1 0-1.7 0zM324.8 527.7a.85 .85 0 1 0 1.7 0a.85 .85 0 1 0-1.7 0zM290.8 551.6a.85 .85 0 1 0 1.7 0a.85 .85 0 1 0-1.7 0zM250.7 527.8a.85 .85 0 1 0 1.7 0a.85 .85 0 1 0-1.7 0zM322.2 533.1a.85 .85 0 1 0 1.7 0a.85 .85 0 1 0-1.7 0zM271.7 548.1a.85 .85 0 1 0 1.7 0a.85 .85 0 1 0-1.7 0zM314.8 536.4a.85 .85 0 1 0 1.7 0a.85 .85 0 1 0-1.7 0zM296.7 559.5a.85 .85 0 1 0 1.7 0a.85 .85 0 1 0-1.7 0zM265.9 537.0a.85 .85 0 1 0 1.7 0a.85 .85 0 1 0-1.7 0zM314.8 530.3a.85 .85 0 1 0 1.7 0a.85 .85 0 1 0-1.7 0zM283.7 553.6a.85 .85 0 1 0 1.7 0a.85 .85 0 1 0-1.7 0zM242.2 511.1a.85 .85 0 1 0 1.7 0a.85 .85 0 1 0-1.7 0zM308.6 546.8a.85 .85 0 1 0 1.7 0a.85 .85 0 1 0-1.7 0zM243.1 522.8a.85 .85 0 1 0 1.7 0a.85 .85 0 1 0-1.7 0zM256.3 536.6a.85 .85 0 1 0 1.7 0a.85 .85 0 1 0-1.7 0zM234.7 508.4a.85 .85 0 1 0 1.7 0a.85 .85 0 1 0-1.7 0zM304.9 560.7a.85 .85 0 1 0 1.7 0a.85 .85 0 1 0-1.7 0zM265.0 544.3a.85 .85 0 1 0 1.7 0a.85 .85 0 1 0-1.7 0zM302.5 565.8a.85 .85 0 1 0 1.7 0a.85 .85 0 1 0-1.7 0zM240.2 517.0a.85 .85 0 1 0 1.7 0a.85 .85 0 1 0-1.7 0zM248.9 539.3a.85 .85 0 1 0 1.7 0a.85 .85 0 1 0-1.7 0zM242.7 538.8a.85 .85 0 1 0 1.7 0a.85 .85 0 1 0-1.7 0zM233.6 535.1a.85 .85 0 1 0 1.7 0a.85 .85 0 1 0-1.7 0zM258.9 541.4a.85 .85 0 1 0 1.7 0a.85 .85 0 1 0-1.7 0zM238.7 528.1a.85 .85 0 1 0 1.7 0a.85 .85 0 1 0-1.7 0zM302.5 555.8a.85 .85 0 1 0 1.7 0a.85 .85 0 1 0-1.7 0zM297.6 541.5a.85 .85 0 1 0 1.7 0a.85 .85 0 1 0-1.7 0zM315.8 541.5a.85 .85 0 1 0 1.7 0a.85 .85 0 1 0-1.7 0zM315.7 560.7a.85 .85 0 1 0 1.7 0a.85 .85 0 1 0-1.7 0zM236.9 546.2a.85 .85 0 1 0 1.7 0a.85 .85 0 1 0-1.7 0zM232.1 520.8a.85 .85 0 1 0 1.7 0a.85 .85 0 1 0-1.7 0zM320.6 546.7a.85 .85 0 1 0 1.7 0a.85 .85 0 1 0-1.7 0zM227.8 533.8a.85 .85 0 1 0 1.7 0a.85 .85 0 1 0-1.7 0zM297.0 569.2a.85 .85 0 1 0 1.7 0a.85 .85 0 1 0-1.7 0zM247.5 546.8a.85 .85 0 1 0 1.7 0a.85 .85 0 1 0-1.7 0zM289.7 558.2a.85 .85 0 1 0 1.7 0a.85 .85 0 1 0-1.7 0zM275.7 553.0a.85 .85 0 1 0 1.7 0a.85 .85 0 1 0-1.7 0zM319.0 564.9a.85 .85 0 1 0 1.7 0a.85 .85 0 1 0-1.7 0zM267.7 552.1a.85 .85 0 1 0 1.7 0a.85 .85 0 1 0-1.7 0zM261.8 549.2a.85 .85 0 1 0 1.7 0a.85 .85 0 1 0-1.7 0zM277.5 562.8a.85 .85 0 1 0 1.7 0a.85 .85 0 1 0-1.7 0zM241.9 548.2a.85 .85 0 1 0 1.7 0a.85 .85 0 1 0-1.7 0zM241.9 553.7a.85 .85 0 1 0 1.7 0a.85 .85 0 1 0-1.7 0zM244.6 528.7a.85 .85 0 1 0 1.7 0a.85 .85 0 1 0-1.7 0zM325.3 549.0a.85 .85 0 1 0 1.7 0a.85 .85 0 1 0-1.7 0zM286.8 562.5a.85 .85 0 1 0 1.7 0a.85 .85 0 1 0-1.7 0zM271.8 559.7a.85 .85 0 1 0 1.7 0a.85 .85 0 1 0-1.7 0zM272.6 568.7a.85 .85 0 1 0 1.7 0a.85 .85 0 1 0-1.7 0zM320.6 538.2a.85 .85 0 1 0 1.7 0a.85 .85 0 1 0-1.7 0zM238.0 557.0a.85 .85 0 1 0 1.7 0a.85 .85 0 1 0-1.7 0zM339.3 534.6a.85 .85 0 1 0 1.7 0a.85 .85 0 1 0-1.7 0zM248.2 558.3a.85 .85 0 1 0 1.7 0a.85 .85 0 1 0-1.7 0zM325.7 543.7a.85 .85 0 1 0 1.7 0a.85 .85 0 1 0-1.7 0zM369.4 534.2a.85 .85 0 1 0 1.7 0a.85 .85 0 1 0-1.7 0zM232.9 527.6a.85 .85 0 1 0 1.7 0a.85 .85 0 1 0-1.7 0zM310.5 561.4a.85 .85 0 1 0 1.7 0a.85 .85 0 1 0-1.7 0zM290.5 566.1a.85 .85 0 1 0 1.7 0a.85 .85 0 1 0-1.7 0zM259.5 554.4a.85 .85 0 1 0 1.7 0a.85 .85 0 1 0-1.7 0zM267.4 565.1a.85 .85 0 1 0 1.7 0a.85 .85 0 1 0-1.7 0zM285.3 567.7a.85 .85 0 1 0 1.7 0a.85 .85 0 1 0-1.7 0zM354.8 532.9a.85 .85 0 1 0 1.7 0a.85 .85 0 1 0-1.7 0zM260.9 566.6a.85 .85 0 1 0 1.7 0a.85 .85 0 1 0-1.7 0zM330.0 554.8a.85 .85 0 1 0 1.7 0a.85 .85 0 1 0-1.7 0zM306.6 570.6a.85 .85 0 1 0 1.7 0a.85 .85 0 1 0-1.7 0zM316.8 569.9a.85 .85 0 1 0 1.7 0a.85 .85 0 1 0-1.7 0zM253.6 557.6a.85 .85 0 1 0 1.7 0a.85 .85 0 1 0-1.7 0zM247.3 563.6a.85 .85 0 1 0 1.7 0a.85 .85 0 1 0-1.7 0zM335.4 550.7a.85 .85 0 1 0 1.7 0a.85 .85 0 1 0-1.7 0zM218.8 504.0a.85 .85 0 1 0 1.7 0a.85 .85 0 1 0-1.7 0zM253.7 568.4a.85 .85 0 1 0 1.7 0a.85 .85 0 1 0-1.7 0zM346.6 539.5a.85 .85 0 1 0 1.7 0a.85 .85 0 1 0-1.7 0zM229.9 514.7a.85 .85 0 1 0 1.7 0a.85 .85 0 1 0-1.7 0zM344.6 545.1a.85 .85 0 1 0 1.7 0a.85 .85 0 1 0-1.7 0zM233.7 561.3a.85 .85 0 1 0 1.7 0a.85 .85 0 1 0-1.7 0zM239.8 533.5a.85 .85 0 1 0 1.7 0a.85 .85 0 1 0-1.7 0zM352.0 548.2a.85 .85 0 1 0 1.7 0a.85 .85 0 1 0-1.7 0zM329.6 561.7a.85 .85 0 1 0 1.7 0a.85 .85 0 1 0-1.7 0zM346.5 550.4a.85 .85 0 1 0 1.7 0a.85 .85 0 1 0-1.7 0zM265.5 578.4a.85 .85 0 1 0 1.7 0a.85 .85 0 1 0-1.7 0zM312.8 573.3a.85 .85 0 1 0 1.7 0a.85 .85 0 1 0-1.7 0zM235.6 540.4a.85 .85 0 1 0 1.7 0a.85 .85 0 1 0-1.7 0zM327.6 538.9a.85 .85 0 1 0 1.7 0a.85 .85 0 1 0-1.7 0zM262.8 572.2a.85 .85 0 1 0 1.7 0a.85 .85 0 1 0-1.7 0zM345.1 532.6a.85 .85 0 1 0 1.7 0a.85 .85 0 1 0-1.7 0zM258.0 562.0a.85 .85 0 1 0 1.7 0a.85 .85 0 1 0-1.7 0zM317.9 576.1a.85 .85 0 1 0 1.7 0a.85 .85 0 1 0-1.7 0zM329.1 570.3a.85 .85 0 1 0 1.7 0a.85 .85 0 1 0-1.7 0zM311.1 579.0a.85 .85 0 1 0 1.7 0a.85 .85 0 1 0-1.7 0zM335.5 560.3a.85 .85 0 1 0 1.7 0a.85 .85 0 1 0-1.7 0zM325.4 574.9a.85 .85 0 1 0 1.7 0a.85 .85 0 1 0-1.7 0zM304.0 577.9a.85 .85 0 1 0 1.7 0a.85 .85 0 1 0-1.7 0zM316.2 584.5a.85 .85 0 1 0 1.7 0a.85 .85 0 1 0-1.7 0zM275.4 574.6a.85 .85 0 1 0 1.7 0a.85 .85 0 1 0-1.7 0zM358.4 545.7a.85 .85 0 1 0 1.7 0a.85 .85 0 1 0-1.7 0zM330.3 576.4a.85 .85 0 1 0 1.7 0a.85 .85 0 1 0-1.7 0zM228.6 507.0a.85 .85 0 1 0 1.7 0a.85 .85 0 1 0-1.7 0zM224.6 539.3a.85 .85 0 1 0 1.7 0a.85 .85 0 1 0-1.7 0zM271.0 580.2a.85 .85 0 1 0 1.7 0a.85 .85 0 1 0-1.7 0zM236.2 568.5a.85 .85 0 1 0 1.7 0a.85 .85 0 1 0-1.7 0zM340.2 548.2a.85 .85 0 1 0 1.7 0a.85 .85 0 1 0-1.7 0zM228.9 546.2a.85 .85 0 1 0 1.7 0a.85 .85 0 1 0-1.7 0zM240.0 574.1a.85 .85 0 1 0 1.7 0a.85 .85 0 1 0-1.7 0zM333.6 583.0a.85 .85 0 1 0 1.7 0a.85 .85 0 1 0-1.7 0zM365.3 540.3a.85 .85 0 1 0 1.7 0a.85 .85 0 1 0-1.7 0zM327.2 585.2a.85 .85 0 1 0 1.7 0a.85 .85 0 1 0-1.7 0zM336.4 567.1a.85 .85 0 1 0 1.7 0a.85 .85 0 1 0-1.7 0zM319.6 588.7a.85 .85 0 1 0 1.7 0a.85 .85 0 1 0-1.7 0zM222.6 508.2a.85 .85 0 1 0 1.7 0a.85 .85 0 1 0-1.7 0zM245.3 572.6a.85 .85 0 1 0 1.7 0a.85 .85 0 1 0-1.7 0zM316.8 594.8a.85 .85 0 1 0 1.7 0a.85 .85 0 1 0-1.7 0zM311.4 597.6a.85 .85 0 1 0 1.7 0a.85 .85 0 1 0-1.7 0zM330.9 544.4a.85 .85 0 1 0 1.7 0a.85 .85 0 1 0-1.7 0zM350.7 542.8a.85 .85 0 1 0 1.7 0a.85 .85 0 1 0-1.7 0zM347.7 564.7a.85 .85 0 1 0 1.7 0a.85 .85 0 1 0-1.7 0zM312.0 591.0a.85 .85 0 1 0 1.7 0a.85 .85 0 1 0-1.7 0zM279.0 570.1a.85 .85 0 1 0 1.7 0a.85 .85 0 1 0-1.7 0zM241.3 561.6a.85 .85 0 1 0 1.7 0a.85 .85 0 1 0-1.7 0zM287.2 584.5a.85 .85 0 1 0 1.7 0a.85 .85 0 1 0-1.7 0zM359.5 536.6a.85 .85 0 1 0 1.7 0a.85 .85 0 1 0-1.7 0zM257.7 575.4a.85 .85 0 1 0 1.7 0a.85 .85 0 1 0-1.7 0zM281.8 588.4a.85 .85 0 1 0 1.7 0a.85 .85 0 1 0-1.7 0zM217.6 533.7a.85 .85 0 1 0 1.7 0a.85 .85 0 1 0-1.7 0zM375.0 536.5a.85 .85 0 1 0 1.7 0a.85 .85 0 1 0-1.7 0zM350.4 535.8a.85 .85 0 1 0 1.7 0a.85 .85 0 1 0-1.7 0zM302.8 591.6a.85 .85 0 1 0 1.7 0a.85 .85 0 1 0-1.7 0zM327.8 594.2a.85 .85 0 1 0 1.7 0a.85 .85 0 1 0-1.7 0zM340.0 581.8a.85 .85 0 1 0 1.7 0a.85 .85 0 1 0-1.7 0zM210.9 513.0a.85 .85 0 1 0 1.7 0a.85 .85 0 1 0-1.7 0zM307.1 594.6a.85 .85 0 1 0 1.7 0a.85 .85 0 1 0-1.7 0zM254.7 580.1a.85 .85 0 1 0 1.7 0a.85 .85 0 1 0-1.7 0zM226.2 568.0a.85 .85 0 1 0 1.7 0a.85 .85 0 1 0-1.7 0zM234.6 552.4a.85 .85 0 1 0 1.7 0a.85 .85 0 1 0-1.7 0zM306.9 603.7a.85 .85 0 1 0 1.7 0a.85 .85 0 1 0-1.7 0zM206.3 520.4a.85 .85 0 1 0 1.7 0a.85 .85 0 1 0-1.7 0zM380.5 546.0a.85 .85 0 1 0 1.7 0a.85 .85 0 1 0-1.7 0zM277.7 582.4a.85 .85 0 1 0 1.7 0a.85 .85 0 1 0-1.7 0zM218.2 512.6a.85 .85 0 1 0 1.7 0a.85 .85 0 1 0-1.7 0zM202.4 513.6a.85 .85 0 1 0 1.7 0a.85 .85 0 1 0-1.7 0zM273.9 597.0a.85 .85 0 1 0 1.7 0a.85 .85 0 1 0-1.7 0zM242.0 586.5a.85 .85 0 1 0 1.7 0a.85 .85 0 1 0-1.7 0zM332.4 589.4a.85 .85 0 1 0 1.7 0a.85 .85 0 1 0-1.7 0zM379.0 552.5a.85 .85 0 1 0 1.7 0a.85 .85 0 1 0-1.7 0zM267.8 595.1a.85 .85 0 1 0 1.7 0a.85 .85 0 1 0-1.7 0zM384.3 552.4a.85 .85 0 1 0 1.7 0a.85 .85 0 1 0-1.7 0zM317.8 600.6a.85 .85 0 1 0 1.7 0a.85 .85 0 1 0-1.7 0zM221.9 548.0a.85 .85 0 1 0 1.7 0a.85 .85 0 1 0-1.7 0zM381.2 539.8a.85 .85 0 1 0 1.7 0a.85 .85 0 1 0-1.7 0zM355.4 567.9a.85 .85 0 1 0 1.7 0a.85 .85 0 1 0-1.7 0zM327.5 601.1a.85 .85 0 1 0 1.7 0a.85 .85 0 1 0-1.7 0zM372.4 558.0a.85 .85 0 1 0 1.7 0a.85 .85 0 1 0-1.7 0zM358.6 562.5a.85 .85 0 1 0 1.7 0a.85 .85 0 1 0-1.7 0zM209.6 534.9a.85 .85 0 1 0 1.7 0a.85 .85 0 1 0-1.7 0zM349.3 572.3a.85 .85 0 1 0 1.7 0a.85 .85 0 1 0-1.7 0zM236.4 578.5a.85 .85 0 1 0 1.7 0a.85 .85 0 1 0-1.7 0zM291.7 599.1a.85 .85 0 1 0 1.7 0a.85 .85 0 1 0-1.7 0zM368.6 548.8a.85 .85 0 1 0 1.7 0a.85 .85 0 1 0-1.7 0zM224.0 560.2a.85 .85 0 1 0 1.7 0a.85 .85 0 1 0-1.7 0zM217.7 564.3a.85 .85 0 1 0 1.7 0a.85 .85 0 1 0-1.7 0zM265.2 590.6a.85 .85 0 1 0 1.7 0a.85 .85 0 1 0-1.7 0zM200.4 535.3a.85 .85 0 1 0 1.7 0a.85 .85 0 1 0-1.7 0zM334.9 600.0a.85 .85 0 1 0 1.7 0a.85 .85 0 1 0-1.7 0zM219.2 521.9a.85 .85 0 1 0 1.7 0a.85 .85 0 1 0-1.7 0zM209.8 524.8a.85 .85 0 1 0 1.7 0a.85 .85 0 1 0-1.7 0zM284.2 598.2a.85 .85 0 1 0 1.7 0a.85 .85 0 1 0-1.7 0zM216.5 541.7a.85 .85 0 1 0 1.7 0a.85 .85 0 1 0-1.7 0zM300.8 598.9a.85 .85 0 1 0 1.7 0a.85 .85 0 1 0-1.7 0zM286.6 592.9a.85 .85 0 1 0 1.7 0a.85 .85 0 1 0-1.7 0zM231.3 566.8a.85 .85 0 1 0 1.7 0a.85 .85 0 1 0-1.7 0zM394.5 544.7a.85 .85 0 1 0 1.7 0a.85 .85 0 1 0-1.7 0zM216.9 581.1a.85 .85 0 1 0 1.7 0a.85 .85 0 1 0-1.7 0zM262.7 598.8a.85 .85 0 1 0 1.7 0a.85 .85 0 1 0-1.7 0zM208.8 552.6a.85 .85 0 1 0 1.7 0a.85 .85 0 1 0-1.7 0zM229.3 557.9a.85 .85 0 1 0 1.7 0a.85 .85 0 1 0-1.7 0zM366.7 567.2a.85 .85 0 1 0 1.7 0a.85 .85 0 1 0-1.7 0zM191.6 502.7a.85 .85 0 1 0 1.7 0a.85 .85 0 1 0-1.7 0zM365.8 558.4a.85 .85 0 1 0 1.7 0a.85 .85 0 1 0-1.7 0zM267.9 600.3a.85 .85 0 1 0 1.7 0a.85 .85 0 1 0-1.7 0zM358.4 583.6a.85 .85 0 1 0 1.7 0a.85 .85 0 1 0-1.7 0zM245.9 592.3a.85 .85 0 1 0 1.7 0a.85 .85 0 1 0-1.7 0zM301.0 609.9a.85 .85 0 1 0 1.7 0a.85 .85 0 1 0-1.7 0zM384.5 563.4a.85 .85 0 1 0 1.7 0a.85 .85 0 1 0-1.7 0zM255.4 597.6a.85 .85 0 1 0 1.7 0a.85 .85 0 1 0-1.7 0zM359.7 557.0a.85 .85 0 1 0 1.7 0a.85 .85 0 1 0-1.7 0zM236.3 584.9a.85 .85 0 1 0 1.7 0a.85 .85 0 1 0-1.7 0zM355.6 578.0a.85 .85 0 1 0 1.7 0a.85 .85 0 1 0-1.7 0zM286.1 604.2a.85 .85 0 1 0 1.7 0a.85 .85 0 1 0-1.7 0zM205.3 529.6a.85 .85 0 1 0 1.7 0a.85 .85 0 1 0-1.7 0zM208.3 561.7a.85 .85 0 1 0 1.7 0a.85 .85 0 1 0-1.7 0zM364.3 552.7a.85 .85 0 1 0 1.7 0a.85 .85 0 1 0-1.7 0zM355.2 589.7a.85 .85 0 1 0 1.7 0a.85 .85 0 1 0-1.7 0zM202.3 559.1a.85 .85 0 1 0 1.7 0a.85 .85 0 1 0-1.7 0zM303.5 618.0a.85 .85 0 1 0 1.7 0a.85 .85 0 1 0-1.7 0zM259.4 603.6a.85 .85 0 1 0 1.7 0a.85 .85 0 1 0-1.7 0zM364.9 587.2a.85 .85 0 1 0 1.7 0a.85 .85 0 1 0-1.7 0zM228.9 590.7a.85 .85 0 1 0 1.7 0a.85 .85 0 1 0-1.7 0zM200.9 525.8a.85 .85 0 1 0 1.7 0a.85 .85 0 1 0-1.7 0zM350.1 587.5a.85 .85 0 1 0 1.7 0a.85 .85 0 1 0-1.7 0zM220.1 594.8a.85 .85 0 1 0 1.7 0a.85 .85 0 1 0-1.7 0zM200.5 571.8a.85 .85 0 1 0 1.7 0a.85 .85 0 1 0-1.7 0zM358.6 595.1a.85 .85 0 1 0 1.7 0a.85 .85 0 1 0-1.7 0zM197.3 510.6a.85 .85 0 1 0 1.7 0a.85 .85 0 1 0-1.7 0zM219.3 576.5a.85 .85 0 1 0 1.7 0a.85 .85 0 1 0-1.7 0zM205.2 538.2a.85 .85 0 1 0 1.7 0a.85 .85 0 1 0-1.7 0zM210.7 571.2a.85 .85 0 1 0 1.7 0a.85 .85 0 1 0-1.7 0zM196.0 530.5a.85 .85 0 1 0 1.7 0a.85 .85 0 1 0-1.7 0zM368.1 573.3a.85 .85 0 1 0 1.7 0a.85 .85 0 1 0-1.7 0zM196.9 564.8a.85 .85 0 1 0 1.7 0a.85 .85 0 1 0-1.7 0zM364.4 579.4a.85 .85 0 1 0 1.7 0a.85 .85 0 1 0-1.7 0zM230.3 600.8a.85 .85 0 1 0 1.7 0a.85 .85 0 1 0-1.7 0zM210.8 579.9a.85 .85 0 1 0 1.7 0a.85 .85 0 1 0-1.7 0zM390.2 551.5a.85 .85 0 1 0 1.7 0a.85 .85 0 1 0-1.7 0zM200.2 519.4a.85 .85 0 1 0 1.7 0a.85 .85 0 1 0-1.7 0zM222.7 581.4a.85 .85 0 1 0 1.7 0a.85 .85 0 1 0-1.7 0zM193.1 523.4a.85 .85 0 1 0 1.7 0a.85 .85 0 1 0-1.7 0zM403.2 543.3a.85 .85 0 1 0 1.7 0a.85 .85 0 1 0-1.7 0zM241.1 594.0a.85 .85 0 1 0 1.7 0a.85 .85 0 1 0-1.7 0zM243.7 602.7a.85 .85 0 1 0 1.7 0a.85 .85 0 1 0-1.7 0zM340.3 600.5a.85 .85 0 1 0 1.7 0a.85 .85 0 1 0-1.7 0zM188.1 527.9a.85 .85 0 1 0 1.7 0a.85 .85 0 1 0-1.7 0zM195.4 554.9a.85 .85 0 1 0 1.7 0a.85 .85 0 1 0-1.7 0zM204.1 582.0a.85 .85 0 1 0 1.7 0a.85 .85 0 1 0-1.7 0zM324.4 611.5a.85 .85 0 1 0 1.7 0a.85 .85 0 1 0-1.7 0zM397.8 550.1a.85 .85 0 1 0 1.7 0a.85 .85 0 1 0-1.7 0zM212.5 586.7a.85 .85 0 1 0 1.7 0a.85 .85 0 1 0-1.7 0zM342.7 609.8a.85 .85 0 1 0 1.7 0a.85 .85 0 1 0-1.7 0zM205.7 573.2a.85 .85 0 1 0 1.7 0a.85 .85 0 1 0-1.7 0zM234.4 590.0a.85 .85 0 1 0 1.7 0a.85 .85 0 1 0-1.7 0zM396.8 557.5a.85 .85 0 1 0 1.7 0a.85 .85 0 1 0-1.7 0zM330.0 617.2a.85 .85 0 1 0 1.7 0a.85 .85 0 1 0-1.7 0zM192.6 535.0a.85 .85 0 1 0 1.7 0a.85 .85 0 1 0-1.7 0zM236.7 607.3a.85 .85 0 1 0 1.7 0a.85 .85 0 1 0-1.7 0zM327.4 606.9a.85 .85 0 1 0 1.7 0a.85 .85 0 1 0-1.7 0zM390.6 570.8a.85 .85 0 1 0 1.7 0a.85 .85 0 1 0-1.7 0zM405.8 556.6a.85 .85 0 1 0 1.7 0a.85 .85 0 1 0-1.7 0zM375.7 574.8a.85 .85 0 1 0 1.7 0a.85 .85 0 1 0-1.7 0zM384.9 570.5a.85 .85 0 1 0 1.7 0a.85 .85 0 1 0-1.7 0zM371.9 579.5a.85 .85 0 1 0 1.7 0a.85 .85 0 1 0-1.7 0zM227.1 605.5a.85 .85 0 1 0 1.7 0a.85 .85 0 1 0-1.7 0zM185.1 505.9a.85 .85 0 1 0 1.7 0a.85 .85 0 1 0-1.7 0zM345.5 601.0a.85 .85 0 1 0 1.7 0a.85 .85 0 1 0-1.7 0zM249.9 602.9a.85 .85 0 1 0 1.7 0a.85 .85 0 1 0-1.7 0zM402.0 553.0a.85 .85 0 1 0 1.7 0a.85 .85 0 1 0-1.7 0zM257.3 620.0a.85 .85 0 1 0 1.7 0a.85 .85 0 1 0-1.7 0zM234.9 596.3a.85 .85 0 1 0 1.7 0a.85 .85 0 1 0-1.7 0zM214.1 560.1a.85 .85 0 1 0 1.7 0a.85 .85 0 1 0-1.7 0zM185.4 499.9a.85 .85 0 1 0 1.7 0a.85 .85 0 1 0-1.7 0zM252.8 609.1a.85 .85 0 1 0 1.7 0a.85 .85 0 1 0-1.7 0zM187.2 559.9a.85 .85 0 1 0 1.7 0a.85 .85 0 1 0-1.7 0zM202.4 593.9a.85 .85 0 1 0 1.7 0a.85 .85 0 1 0-1.7 0zM410.6 543.4a.85 .85 0 1 0 1.7 0a.85 .85 0 1 0-1.7 0zM290.4 608.0a.85 .85 0 1 0 1.7 0a.85 .85 0 1 0-1.7 0zM231.8 609.4a.85 .85 0 1 0 1.7 0a.85 .85 0 1 0-1.7 0zM313.9 613.7a.85 .85 0 1 0 1.7 0a.85 .85 0 1 0-1.7 0zM337.5 612.4a.85 .85 0 1 0 1.7 0a.85 .85 0 1 0-1.7 0zM188.4 547.8a.85 .85 0 1 0 1.7 0a.85 .85 0 1 0-1.7 0zM190.7 585.5a.85 .85 0 1 0 1.7 0a.85 .85 0 1 0-1.7 0zM318.0 610.5a.85 .85 0 1 0 1.7 0a.85 .85 0 1 0-1.7 0zM407.5 547.6a.85 .85 0 1 0 1.7 0a.85 .85 0 1 0-1.7 0zM209.9 596.8a.85 .85 0 1 0 1.7 0a.85 .85 0 1 0-1.7 0zM186.8 565.3a.85 .85 0 1 0 1.7 0a.85 .85 0 1 0-1.7 0zM214.3 575.4a.85 .85 0 1 0 1.7 0a.85 .85 0 1 0-1.7 0zM181.7 521.0a.85 .85 0 1 0 1.7 0a.85 .85 0 1 0-1.7 0zM378.2 570.3a.85 .85 0 1 0 1.7 0a.85 .85 0 1 0-1.7 0zM354.7 604.3a.85 .85 0 1 0 1.7 0a.85 .85 0 1 0-1.7 0zM221.1 602.2a.85 .85 0 1 0 1.7 0a.85 .85 0 1 0-1.7 0zM342.1 616.8a.85 .85 0 1 0 1.7 0a.85 .85 0 1 0-1.7 0zM410.7 553.5a.85 .85 0 1 0 1.7 0a.85 .85 0 1 0-1.7 0zM180.0 500.1a.85 .85 0 1 0 1.7 0a.85 .85 0 1 0-1.7 0zM307.9 608.9a.85 .85 0 1 0 1.7 0a.85 .85 0 1 0-1.7 0zM319.0 634.4a.85 .85 0 1 0 1.7 0a.85 .85 0 1 0-1.7 0zM218.5 608.3a.85 .85 0 1 0 1.7 0a.85 .85 0 1 0-1.7 0zM186.4 534.7a.85 .85 0 1 0 1.7 0a.85 .85 0 1 0-1.7 0zM322.0 621.2a.85 .85 0 1 0 1.7 0a.85 .85 0 1 0-1.7 0zM312.8 606.9a.85 .85 0 1 0 1.7 0a.85 .85 0 1 0-1.7 0zM178.5 562.8a.85 .85 0 1 0 1.7 0a.85 .85 0 1 0-1.7 0zM379.6 583.4a.85 .85 0 1 0 1.7 0a.85 .85 0 1 0-1.7 0zM225.9 597.0a.85 .85 0 1 0 1.7 0a.85 .85 0 1 0-1.7 0zM234.9 616.5a.85 .85 0 1 0 1.7 0a.85 .85 0 1 0-1.7 0zM373.4 587.5a.85 .85 0 1 0 1.7 0a.85 .85 0 1 0-1.7 0zM327.0 640.6a.85 .85 0 1 0 1.7 0a.85 .85 0 1 0-1.7 0zM363.2 592.3a.85 .85 0 1 0 1.7 0a.85 .85 0 1 0-1.7 0zM246.5 617.7a.85 .85 0 1 0 1.7 0a.85 .85 0 1 0-1.7 0zM252.0 614.6a.85 .85 0 1 0 1.7 0a.85 .85 0 1 0-1.7 0zM346.9 606.5a.85 .85 0 1 0 1.7 0a.85 .85 0 1 0-1.7 0zM227.8 613.4a.85 .85 0 1 0 1.7 0a.85 .85 0 1 0-1.7 0zM304.5 625.6a.85 .85 0 1 0 1.7 0a.85 .85 0 1 0-1.7 0zM406.5 565.2a.85 .85 0 1 0 1.7 0a.85 .85 0 1 0-1.7 0zM264.0 616.7a.85 .85 0 1 0 1.7 0a.85 .85 0 1 0-1.7 0zM299.4 624.2a.85 .85 0 1 0 1.7 0a.85 .85 0 1 0-1.7 0zM320.8 605.4a.85 .85 0 1 0 1.7 0a.85 .85 0 1 0-1.7 0zM387.7 575.2a.85 .85 0 1 0 1.7 0a.85 .85 0 1 0-1.7 0zM360.5 602.4a.85 .85 0 1 0 1.7 0a.85 .85 0 1 0-1.7 0zM170.8 564.0a.85 .85 0 1 0 1.7 0a.85 .85 0 1 0-1.7 0zM412.0 560.0a.85 .85 0 1 0 1.7 0a.85 .85 0 1 0-1.7 0zM181.1 556.0a.85 .85 0 1 0 1.7 0a.85 .85 0 1 0-1.7 0zM222.2 613.6a.85 .85 0 1 0 1.7 0a.85 .85 0 1 0-1.7 0zM368.7 592.6a.85 .85 0 1 0 1.7 0a.85 .85 0 1 0-1.7 0zM398.1 571.4a.85 .85 0 1 0 1.7 0a.85 .85 0 1 0-1.7 0zM420.4 558.7a.85 .85 0 1 0 1.7 0a.85 .85 0 1 0-1.7 0zM393.2 575.6a.85 .85 0 1 0 1.7 0a.85 .85 0 1 0-1.7 0zM172.8 493.7a.85 .85 0 1 0 1.7 0a.85 .85 0 1 0-1.7 0zM335.9 617.4a.85 .85 0 1 0 1.7 0a.85 .85 0 1 0-1.7 0zM380.9 589.5a.85 .85 0 1 0 1.7 0a.85 .85 0 1 0-1.7 0zM193.0 561.5a.85 .85 0 1 0 1.7 0a.85 .85 0 1 0-1.7 0zM174.1 576.3a.85 .85 0 1 0 1.7 0a.85 .85 0 1 0-1.7 0zM386.9 585.6a.85 .85 0 1 0 1.7 0a.85 .85 0 1 0-1.7 0zM301.2 604.2a.85 .85 0 1 0 1.7 0a.85 .85 0 1 0-1.7 0zM418.6 568.1a.85 .85 0 1 0 1.7 0a.85 .85 0 1 0-1.7 0zM195.7 539.1a.85 .85 0 1 0 1.7 0a.85 .85 0 1 0-1.7 0zM264.0 606.0a.85 .85 0 1 0 1.7 0a.85 .85 0 1 0-1.7 0zM266.1 622.0a.85 .85 0 1 0 1.7 0a.85 .85 0 1 0-1.7 0zM424.3 553.5a.85 .85 0 1 0 1.7 0a.85 .85 0 1 0-1.7 0zM303.0 631.2a.85 .85 0 1 0 1.7 0a.85 .85 0 1 0-1.7 0zM168.8 575.7a.85 .85 0 1 0 1.7 0a.85 .85 0 1 0-1.7 0zM345.7 622.1a.85 .85 0 1 0 1.7 0a.85 .85 0 1 0-1.7 0zM332.9 623.1a.85 .85 0 1 0 1.7 0a.85 .85 0 1 0-1.7 0zM324.3 625.7a.85 .85 0 1 0 1.7 0a.85 .85 0 1 0-1.7 0zM247.0 627.1a.85 .85 0 1 0 1.7 0a.85 .85 0 1 0-1.7 0zM213.4 626.0a.85 .85 0 1 0 1.7 0a.85 .85 0 1 0-1.7 0zM275.9 620.7a.85 .85 0 1 0 1.7 0a.85 .85 0 1 0-1.7 0zM191.1 508.2a.85 .85 0 1 0 1.7 0a.85 .85 0 1 0-1.7 0zM329.5 627.4a.85 .85 0 1 0 1.7 0a.85 .85 0 1 0-1.7 0zM260.3 629.1a.85 .85 0 1 0 1.7 0a.85 .85 0 1 0-1.7 0zM188.9 573.2a.85 .85 0 1 0 1.7 0a.85 .85 0 1 0-1.7 0zM406.0 573.8a.85 .85 0 1 0 1.7 0a.85 .85 0 1 0-1.7 0zM184.7 576.8a.85 .85 0 1 0 1.7 0a.85 .85 0 1 0-1.7 0zM206.8 608.3a.85 .85 0 1 0 1.7 0a.85 .85 0 1 0-1.7 0zM202.0 604.3a.85 .85 0 1 0 1.7 0a.85 .85 0 1 0-1.7 0zM376.1 604.0a.85 .85 0 1 0 1.7 0a.85 .85 0 1 0-1.7 0zM363.5 608.0a.85 .85 0 1 0 1.7 0a.85 .85 0 1 0-1.7 0zM180.3 581.5a.85 .85 0 1 0 1.7 0a.85 .85 0 1 0-1.7 0zM208.3 602.5a.85 .85 0 1 0 1.7 0a.85 .85 0 1 0-1.7 0zM380.8 611.6a.85 .85 0 1 0 1.7 0a.85 .85 0 1 0-1.7 0zM278.7 627.9a.85 .85 0 1 0 1.7 0a.85 .85 0 1 0-1.7 0zM206.9 615.6a.85 .85 0 1 0 1.7 0a.85 .85 0 1 0-1.7 0zM204.7 622.1a.85 .85 0 1 0 1.7 0a.85 .85 0 1 0-1.7 0zM196.3 607.8a.85 .85 0 1 0 1.7 0a.85 .85 0 1 0-1.7 0zM182.9 512.5a.85 .85 0 1 0 1.7 0a.85 .85 0 1 0-1.7 0zM312.8 643.1a.85 .85 0 1 0 1.7 0a.85 .85 0 1 0-1.7 0zM192.4 578.7a.85 .85 0 1 0 1.7 0a.85 .85 0 1 0-1.7 0zM320.3 650.6a.85 .85 0 1 0 1.7 0a.85 .85 0 1 0-1.7 0zM346.0 628.9a.85 .85 0 1 0 1.7 0a.85 .85 0 1 0-1.7 0zM336.5 629.9a.85 .85 0 1 0 1.7 0a.85 .85 0 1 0-1.7 0zM376.2 598.5a.85 .85 0 1 0 1.7 0a.85 .85 0 1 0-1.7 0zM171.2 582.5a.85 .85 0 1 0 1.7 0a.85 .85 0 1 0-1.7 0zM383.4 606.3a.85 .85 0 1 0 1.7 0a.85 .85 0 1 0-1.7 0zM432.7 557.7a.85 .85 0 1 0 1.7 0a.85 .85 0 1 0-1.7 0zM208.5 627.5a.85 .85 0 1 0 1.7 0a.85 .85 0 1 0-1.7 0zM179.7 575.1a.85 .85 0 1 0 1.7 0a.85 .85 0 1 0-1.7 0zM391.9 600.8a.85 .85 0 1 0 1.7 0a.85 .85 0 1 0-1.7 0zM325.4 631.4a.85 .85 0 1 0 1.7 0a.85 .85 0 1 0-1.7 0zM166.0 581.8a.85 .85 0 1 0 1.7 0a.85 .85 0 1 0-1.7 0zM176.0 516.7a.85 .85 0 1 0 1.7 0a.85 .85 0 1 0-1.7 0zM176.2 590.3a.85 .85 0 1 0 1.7 0a.85 .85 0 1 0-1.7 0zM389.1 592.3a.85 .85 0 1 0 1.7 0a.85 .85 0 1 0-1.7 0zM181.5 549.1a.85 .85 0 1 0 1.7 0a.85 .85 0 1 0-1.7 0zM384.1 580.8a.85 .85 0 1 0 1.7 0a.85 .85 0 1 0-1.7 0zM289.8 626.5a.85 .85 0 1 0 1.7 0a.85 .85 0 1 0-1.7 0zM297.9 631.2a.85 .85 0 1 0 1.7 0a.85 .85 0 1 0-1.7 0zM171.7 554.5a.85 .85 0 1 0 1.7 0a.85 .85 0 1 0-1.7 0zM280.2 618.0a.85 .85 0 1 0 1.7 0a.85 .85 0 1 0-1.7 0zM164.1 502.8a.85 .85 0 1 0 1.7 0a.85 .85 0 1 0-1.7 0zM166.2 508.7a.85 .85 0 1 0 1.7 0a.85 .85 0 1 0-1.7 0zM175.0 548.2a.85 .85 0 1 0 1.7 0a.85 .85 0 1 0-1.7 0zM305.1 658.4a.85 .85 0 1 0 1.7 0a.85 .85 0 1 0-1.7 0zM201.5 641.4a.85 .85 0 1 0 1.7 0a.85 .85 0 1 0-1.7 0zM271.2 631.5a.85 .85 0 1 0 1.7 0a.85 .85 0 1 0-1.7 0zM201.4 587.6a.85 .85 0 1 0 1.7 0a.85 .85 0 1 0-1.7 0zM342.4 643.9a.85 .85 0 1 0 1.7 0a.85 .85 0 1 0-1.7 0zM371.4 612.4a.85 .85 0 1 0 1.7 0a.85 .85 0 1 0-1.7 0zM444.9 550.3a.85 .85 0 1 0 1.7 0a.85 .85 0 1 0-1.7 0zM199.8 614.1a.85 .85 0 1 0 1.7 0a.85 .85 0 1 0-1.7 0zM162.7 574.0a.85 .85 0 1 0 1.7 0a.85 .85 0 1 0-1.7 0zM238.9 613.3a.85 .85 0 1 0 1.7 0a.85 .85 0 1 0-1.7 0zM390.7 609.3a.85 .85 0 1 0 1.7 0a.85 .85 0 1 0-1.7 0zM172.8 594.1a.85 .85 0 1 0 1.7 0a.85 .85 0 1 0-1.7 0zM168.2 570.4a.85 .85 0 1 0 1.7 0a.85 .85 0 1 0-1.7 0zM364.8 616.6a.85 .85 0 1 0 1.7 0a.85 .85 0 1 0-1.7 0zM404.5 583.7a.85 .85 0 1 0 1.7 0a.85 .85 0 1 0-1.7 0zM160.9 587.0a.85 .85 0 1 0 1.7 0a.85 .85 0 1 0-1.7 0zM320.2 644.6a.85 .85 0 1 0 1.7 0a.85 .85 0 1 0-1.7 0zM411.4 569.2a.85 .85 0 1 0 1.7 0a.85 .85 0 1 0-1.7 0zM188.6 594.5a.85 .85 0 1 0 1.7 0a.85 .85 0 1 0-1.7 0zM180.7 539.5a.85 .85 0 1 0 1.7 0a.85 .85 0 1 0-1.7 0zM386.9 616.3a.85 .85 0 1 0 1.7 0a.85 .85 0 1 0-1.7 0zM159.2 504.6a.85 .85 0 1 0 1.7 0a.85 .85 0 1 0-1.7 0zM294.2 636.9a.85 .85 0 1 0 1.7 0a.85 .85 0 1 0-1.7 0zM340.5 649.1a.85 .85 0 1 0 1.7 0a.85 .85 0 1 0-1.7 0zM181.7 588.6a.85 .85 0 1 0 1.7 0a.85 .85 0 1 0-1.7 0zM267.2 627.7a.85 .85 0 1 0 1.7 0a.85 .85 0 1 0-1.7 0zM196.1 592.5a.85 .85 0 1 0 1.7 0a.85 .85 0 1 0-1.7 0zM300.8 649.8a.85 .85 0 1 0 1.7 0a.85 .85 0 1 0-1.7 0zM308.5 632.5a.85 .85 0 1 0 1.7 0a.85 .85 0 1 0-1.7 0zM171.3 512.7a.85 .85 0 1 0 1.7 0a.85 .85 0 1 0-1.7 0zM301.6 637.4a.85 .85 0 1 0 1.7 0a.85 .85 0 1 0-1.7 0zM396.5 610.0a.85 .85 0 1 0 1.7 0a.85 .85 0 1 0-1.7 0zM218.0 637.6a.85 .85 0 1 0 1.7 0a.85 .85 0 1 0-1.7 0zM375.0 620.7a.85 .85 0 1 0 1.7 0a.85 .85 0 1 0-1.7 0zM296.3 643.1a.85 .85 0 1 0 1.7 0a.85 .85 0 1 0-1.7 0zM403.1 578.1a.85 .85 0 1 0 1.7 0a.85 .85 0 1 0-1.7 0zM345.0 635.4a.85 .85 0 1 0 1.7 0a.85 .85 0 1 0-1.7 0zM408.1 579.9a.85 .85 0 1 0 1.7 0a.85 .85 0 1 0-1.7 0zM149.3 584.8a.85 .85 0 1 0 1.7 0a.85 .85 0 1 0-1.7 0zM189.4 614.7a.85 .85 0 1 0 1.7 0a.85 .85 0 1 0-1.7 0zM213.8 642.5a.85 .85 0 1 0 1.7 0a.85 .85 0 1 0-1.7 0zM137.0 496.5a.85 .85 0 1 0 1.7 0a.85 .85 0 1 0-1.7 0zM186.6 581.9a.85 .85 0 1 0 1.7 0a.85 .85 0 1 0-1.7 0zM391.2 624.8a.85 .85 0 1 0 1.7 0a.85 .85 0 1 0-1.7 0zM207.6 643.8a.85 .85 0 1 0 1.7 0a.85 .85 0 1 0-1.7 0zM191.2 602.2a.85 .85 0 1 0 1.7 0a.85 .85 0 1 0-1.7 0zM309.0 654.8a.85 .85 0 1 0 1.7 0a.85 .85 0 1 0-1.7 0zM169.8 601.0a.85 .85 0 1 0 1.7 0a.85 .85 0 1 0-1.7 0zM167.7 591.7a.85 .85 0 1 0 1.7 0a.85 .85 0 1 0-1.7 0zM151.4 574.5a.85 .85 0 1 0 1.7 0a.85 .85 0 1 0-1.7 0zM288.7 634.1a.85 .85 0 1 0 1.7 0a.85 .85 0 1 0-1.7 0zM190.8 632.8a.85 .85 0 1 0 1.7 0a.85 .85 0 1 0-1.7 0zM380.9 618.8a.85 .85 0 1 0 1.7 0a.85 .85 0 1 0-1.7 0zM197.5 622.7a.85 .85 0 1 0 1.7 0a.85 .85 0 1 0-1.7 0zM310.3 664.5a.85 .85 0 1 0 1.7 0a.85 .85 0 1 0-1.7 0zM284.5 642.2a.85 .85 0 1 0 1.7 0a.85 .85 0 1 0-1.7 0zM170.1 519.6a.85 .85 0 1 0 1.7 0a.85 .85 0 1 0-1.7 0zM140.1 583.8a.85 .85 0 1 0 1.7 0a.85 .85 0 1 0-1.7 0zM411.0 586.7a.85 .85 0 1 0 1.7 0a.85 .85 0 1 0-1.7 0zM164.3 493.7a.85 .85 0 1 0 1.7 0a.85 .85 0 1 0-1.7 0zM194.6 615.7a.85 .85 0 1 0 1.7 0a.85 .85 0 1 0-1.7 0zM252.1 627.2a.85 .85 0 1 0 1.7 0a.85 .85 0 1 0-1.7 0zM283.9 630.4a.85 .85 0 1 0 1.7 0a.85 .85 0 1 0-1.7 0zM143.7 498.1a.85 .85 0 1 0 1.7 0a.85 .85 0 1 0-1.7 0zM147.2 578.8a.85 .85 0 1 0 1.7 0a.85 .85 0 1 0-1.7 0zM401.3 589.7a.85 .85 0 1 0 1.7 0a.85 .85 0 1 0-1.7 0zM148.4 596.0a.85 .85 0 1 0 1.7 0a.85 .85 0 1 0-1.7 0zM381.0 625.6a.85 .85 0 1 0 1.7 0a.85 .85 0 1 0-1.7 0zM332.5 645.7a.85 .85 0 1 0 1.7 0a.85 .85 0 1 0-1.7 0zM229.9 638.0a.85 .85 0 1 0 1.7 0a.85 .85 0 1 0-1.7 0zM307.2 639.2a.85 .85 0 1 0 1.7 0a.85 .85 0 1 0-1.7 0zM164.8 598.5a.85 .85 0 1 0 1.7 0a.85 .85 0 1 0-1.7 0zM335.0 651.3a.85 .85 0 1 0 1.7 0a.85 .85 0 1 0-1.7 0zM136.8 575.6a.85 .85 0 1 0 1.7 0a.85 .85 0 1 0-1.7 0zM132.8 589.1a.85 .85 0 1 0 1.7 0a.85 .85 0 1 0-1.7 0zM238.3 634.6a.85 .85 0 1 0 1.7 0a.85 .85 0 1 0-1.7 0zM395.3 604.9a.85 .85 0 1 0 1.7 0a.85 .85 0 1 0-1.7 0zM187.2 606.8a.85 .85 0 1 0 1.7 0a.85 .85 0 1 0-1.7 0zM346.5 649.8a.85 .85 0 1 0 1.7 0a.85 .85 0 1 0-1.7 0zM413.9 595.3a.85 .85 0 1 0 1.7 0a.85 .85 0 1 0-1.7 0zM424.1 571.0a.85 .85 0 1 0 1.7 0a.85 .85 0 1 0-1.7 0zM329.0 653.5a.85 .85 0 1 0 1.7 0a.85 .85 0 1 0-1.7 0zM159.1 499.2a.85 .85 0 1 0 1.7 0a.85 .85 0 1 0-1.7 0zM443.1 559.3a.85 .85 0 1 0 1.7 0a.85 .85 0 1 0-1.7 0zM382.0 631.4a.85 .85 0 1 0 1.7 0a.85 .85 0 1 0-1.7 0zM143.7 573.9a.85 .85 0 1 0 1.7 0a.85 .85 0 1 0-1.7 0zM156.1 568.7a.85 .85 0 1 0 1.7 0a.85 .85 0 1 0-1.7 0zM369.8 618.6a.85 .85 0 1 0 1.7 0a.85 .85 0 1 0-1.7 0zM413.6 578.1a.85 .85 0 1 0 1.7 0a.85 .85 0 1 0-1.7 0zM197.2 637.4a.85 .85 0 1 0 1.7 0a.85 .85 0 1 0-1.7 0zM169.1 606.2a.85 .85 0 1 0 1.7 0a.85 .85 0 1 0-1.7 0zM309.2 670.4a.85 .85 0 1 0 1.7 0a.85 .85 0 1 0-1.7 0zM135.5 569.7a.85 .85 0 1 0 1.7 0a.85 .85 0 1 0-1.7 0zM162.0 547.8a.85 .85 0 1 0 1.7 0a.85 .85 0 1 0-1.7 0zM206.0 651.8a.85 .85 0 1 0 1.7 0a.85 .85 0 1 0-1.7 0zM135.2 594.2a.85 .85 0 1 0 1.7 0a.85 .85 0 1 0-1.7 0zM238.0 628.5a.85 .85 0 1 0 1.7 0a.85 .85 0 1 0-1.7 0zM281.7 635.1a.85 .85 0 1 0 1.7 0a.85 .85 0 1 0-1.7 0zM439.2 549.4a.85 .85 0 1 0 1.7 0a.85 .85 0 1 0-1.7 0zM181.3 609.9a.85 .85 0 1 0 1.7 0a.85 .85 0 1 0-1.7 0zM147.4 590.8a.85 .85 0 1 0 1.7 0a.85 .85 0 1 0-1.7 0zM432.1 549.5a.85 .85 0 1 0 1.7 0a.85 .85 0 1 0-1.7 0zM154.0 500.4a.85 .85 0 1 0 1.7 0a.85 .85 0 1 0-1.7 0zM412.3 602.7a.85 .85 0 1 0 1.7 0a.85 .85 0 1 0-1.7 0zM376.0 634.3a.85 .85 0 1 0 1.7 0a.85 .85 0 1 0-1.7 0zM151.2 565.1a.85 .85 0 1 0 1.7 0a.85 .85 0 1 0-1.7 0zM192.7 626.0a.85 .85 0 1 0 1.7 0a.85 .85 0 1 0-1.7 0zM391.0 580.7a.85 .85 0 1 0 1.7 0a.85 .85 0 1 0-1.7 0zM292.4 653.9a.85 .85 0 1 0 1.7 0a.85 .85 0 1 0-1.7 0zM372.1 627.4a.85 .85 0 1 0 1.7 0a.85 .85 0 1 0-1.7 0zM126.1 591.2a.85 .85 0 1 0 1.7 0a.85 .85 0 1 0-1.7 0zM236.0 640.1a.85 .85 0 1 0 1.7 0a.85 .85 0 1 0-1.7 0zM151.1 493.3a.85 .85 0 1 0 1.7 0a.85 .85 0 1 0-1.7 0zM127.8 573.0a.85 .85 0 1 0 1.7 0a.85 .85 0 1 0-1.7 0zM200.0 647.6a.85 .85 0 1 0 1.7 0a.85 .85 0 1 0-1.7 0zM278.8 644.1a.85 .85 0 1 0 1.7 0a.85 .85 0 1 0-1.7 0zM317.8 666.6a.85 .85 0 1 0 1.7 0a.85 .85 0 1 0-1.7 0zM191.9 620.1a.85 .85 0 1 0 1.7 0a.85 .85 0 1 0-1.7 0zM354.3 633.2a.85 .85 0 1 0 1.7 0a.85 .85 0 1 0-1.7 0zM405.8 606.1a.85 .85 0 1 0 1.7 0a.85 .85 0 1 0-1.7 0zM146.7 568.3a.85 .85 0 1 0 1.7 0a.85 .85 0 1 0-1.7 0zM341.2 655.4a.85 .85 0 1 0 1.7 0a.85 .85 0 1 0-1.7 0zM161.7 606.4a.85 .85 0 1 0 1.7 0a.85 .85 0 1 0-1.7 0zM136.2 487.0a.85 .85 0 1 0 1.7 0a.85 .85 0 1 0-1.7 0zM346.4 640.7a.85 .85 0 1 0 1.7 0a.85 .85 0 1 0-1.7 0zM168.9 531.4a.85 .85 0 1 0 1.7 0a.85 .85 0 1 0-1.7 0zM413.2 608.5a.85 .85 0 1 0 1.7 0a.85 .85 0 1 0-1.7 0zM331.6 667.3a.85 .85 0 1 0 1.7 0a.85 .85 0 1 0-1.7 0zM433.2 570.5a.85 .85 0 1 0 1.7 0a.85 .85 0 1 0-1.7 0zM444.4 565.5a.85 .85 0 1 0 1.7 0a.85 .85 0 1 0-1.7 0zM142.4 504.2a.85 .85 0 1 0 1.7 0a.85 .85 0 1 0-1.7 0zM245.4 632.0a.85 .85 0 1 0 1.7 0a.85 .85 0 1 0-1.7 0zM147.1 560.5a.85 .85 0 1 0 1.7 0a.85 .85 0 1 0-1.7 0zM275.7 650.4a.85 .85 0 1 0 1.7 0a.85 .85 0 1 0-1.7 0zM122.1 570.0a.85 .85 0 1 0 1.7 0a.85 .85 0 1 0-1.7 0zM242.2 643.1a.85 .85 0 1 0 1.7 0a.85 .85 0 1 0-1.7 0zM261.0 638.6a.85 .85 0 1 0 1.7 0a.85 .85 0 1 0-1.7 0zM140.4 565.8a.85 .85 0 1 0 1.7 0a.85 .85 0 1 0-1.7 0zM192.0 651.1a.85 .85 0 1 0 1.7 0a.85 .85 0 1 0-1.7 0zM319.6 673.1a.85 .85 0 1 0 1.7 0a.85 .85 0 1 0-1.7 0zM148.0 507.3a.85 .85 0 1 0 1.7 0a.85 .85 0 1 0-1.7 0zM321.5 639.6a.85 .85 0 1 0 1.7 0a.85 .85 0 1 0-1.7 0zM141.5 557.4a.85 .85 0 1 0 1.7 0a.85 .85 0 1 0-1.7 0zM143.9 604.1a.85 .85 0 1 0 1.7 0a.85 .85 0 1 0-1.7 0zM209.9 620.0a.85 .85 0 1 0 1.7 0a.85 .85 0 1 0-1.7 0zM203.6 599.2a.85 .85 0 1 0 1.7 0a.85 .85 0 1 0-1.7 0zM161.5 614.8a.85 .85 0 1 0 1.7 0a.85 .85 0 1 0-1.7 0zM136.0 562.9a.85 .85 0 1 0 1.7 0a.85 .85 0 1 0-1.7 0zM324.2 683.7a.85 .85 0 1 0 1.7 0a.85 .85 0 1 0-1.7 0zM171.0 620.3a.85 .85 0 1 0 1.7 0a.85 .85 0 1 0-1.7 0zM119.5 594.4a.85 .85 0 1 0 1.7 0a.85 .85 0 1 0-1.7 0zM152.1 605.1a.85 .85 0 1 0 1.7 0a.85 .85 0 1 0-1.7 0zM130.5 489.0a.85 .85 0 1 0 1.7 0a.85 .85 0 1 0-1.7 0zM428.6 579.6a.85 .85 0 1 0 1.7 0a.85 .85 0 1 0-1.7 0zM332.6 675.9a.85 .85 0 1 0 1.7 0a.85 .85 0 1 0-1.7 0zM129.5 513.6a.85 .85 0 1 0 1.7 0a.85 .85 0 1 0-1.7 0zM256.2 636.2a.85 .85 0 1 0 1.7 0a.85 .85 0 1 0-1.7 0zM417.1 583.9a.85 .85 0 1 0 1.7 0a.85 .85 0 1 0-1.7 0zM394.1 617.5a.85 .85 0 1 0 1.7 0a.85 .85 0 1 0-1.7 0zM165.7 539.2a.85 .85 0 1 0 1.7 0a.85 .85 0 1 0-1.7 0zM275.4 659.1a.85 .85 0 1 0 1.7 0a.85 .85 0 1 0-1.7 0zM154.0 611.2a.85 .85 0 1 0 1.7 0a.85 .85 0 1 0-1.7 0zM129.5 598.5a.85 .85 0 1 0 1.7 0a.85 .85 0 1 0-1.7 0zM130.5 558.8a.85 .85 0 1 0 1.7 0a.85 .85 0 1 0-1.7 0zM288.9 645.4a.85 .85 0 1 0 1.7 0a.85 .85 0 1 0-1.7 0zM156.7 548.5a.85 .85 0 1 0 1.7 0a.85 .85 0 1 0-1.7 0zM139.2 609.1a.85 .85 0 1 0 1.7 0a.85 .85 0 1 0-1.7 0zM121.3 497.5a.85 .85 0 1 0 1.7 0a.85 .85 0 1 0-1.7 0zM409.7 612.7a.85 .85 0 1 0 1.7 0a.85 .85 0 1 0-1.7 0zM211.2 648.2a.85 .85 0 1 0 1.7 0a.85 .85 0 1 0-1.7 0zM251.8 639.1a.85 .85 0 1 0 1.7 0a.85 .85 0 1 0-1.7 0zM146.4 514.6a.85 .85 0 1 0 1.7 0a.85 .85 0 1 0-1.7 0zM119.3 502.5a.85 .85 0 1 0 1.7 0a.85 .85 0 1 0-1.7 0zM348.7 668.8a.85 .85 0 1 0 1.7 0a.85 .85 0 1 0-1.7 0zM324.3 664.2a.85 .85 0 1 0 1.7 0a.85 .85 0 1 0-1.7 0zM147.6 501.4a.85 .85 0 1 0 1.7 0a.85 .85 0 1 0-1.7 0zM124.9 505.0a.85 .85 0 1 0 1.7 0a.85 .85 0 1 0-1.7 0zM120.4 508.3a.85 .85 0 1 0 1.7 0a.85 .85 0 1 0-1.7 0zM426.3 608.4a.85 .85 0 1 0 1.7 0a.85 .85 0 1 0-1.7 0zM431.6 612.8a.85 .85 0 1 0 1.7 0a.85 .85 0 1 0-1.7 0zM123.9 606.6a.85 .85 0 1 0 1.7 0a.85 .85 0 1 0-1.7 0zM149.6 555.6a.85 .85 0 1 0 1.7 0a.85 .85 0 1 0-1.7 0zM190.9 641.6a.85 .85 0 1 0 1.7 0a.85 .85 0 1 0-1.7 0zM423.7 598.2a.85 .85 0 1 0 1.7 0a.85 .85 0 1 0-1.7 0zM394.7 628.9a.85 .85 0 1 0 1.7 0a.85 .85 0 1 0-1.7 0zM188.4 646.1a.85 .85 0 1 0 1.7 0a.85 .85 0 1 0-1.7 0zM318.5 687.8a.85 .85 0 1 0 1.7 0a.85 .85 0 1 0-1.7 0zM124.6 565.3a.85 .85 0 1 0 1.7 0a.85 .85 0 1 0-1.7 0zM151.6 513.0a.85 .85 0 1 0 1.7 0a.85 .85 0 1 0-1.7 0zM137.0 600.3a.85 .85 0 1 0 1.7 0a.85 .85 0 1 0-1.7 0zM144.2 617.8a.85 .85 0 1 0 1.7 0a.85 .85 0 1 0-1.7 0zM359.9 636.0a.85 .85 0 1 0 1.7 0a.85 .85 0 1 0-1.7 0zM422.8 585.0a.85 .85 0 1 0 1.7 0a.85 .85 0 1 0-1.7 0zM160.8 531.1a.85 .85 0 1 0 1.7 0a.85 .85 0 1 0-1.7 0zM449.3 556.1a.85 .85 0 1 0 1.7 0a.85 .85 0 1 0-1.7 0zM400.0 614.6a.85 .85 0 1 0 1.7 0a.85 .85 0 1 0-1.7 0zM390.0 632.1a.85 .85 0 1 0 1.7 0a.85 .85 0 1 0-1.7 0zM160.1 517.6a.85 .85 0 1 0 1.7 0a.85 .85 0 1 0-1.7 0zM251.2 632.5a.85 .85 0 1 0 1.7 0a.85 .85 0 1 0-1.7 0zM148.8 549.7a.85 .85 0 1 0 1.7 0a.85 .85 0 1 0-1.7 0zM143.2 510.1a.85 .85 0 1 0 1.7 0a.85 .85 0 1 0-1.7 0zM354.2 652.6a.85 .85 0 1 0 1.7 0a.85 .85 0 1 0-1.7 0zM171.5 626.7a.85 .85 0 1 0 1.7 0a.85 .85 0 1 0-1.7 0zM420.4 611.8a.85 .85 0 1 0 1.7 0a.85 .85 0 1 0-1.7 0zM124.4 600.5a.85 .85 0 1 0 1.7 0a.85 .85 0 1 0-1.7 0zM139.1 517.1a.85 .85 0 1 0 1.7 0a.85 .85 0 1 0-1.7 0zM430.3 599.4a.85 .85 0 1 0 1.7 0a.85 .85 0 1 0-1.7 0zM212.8 657.7a.85 .85 0 1 0 1.7 0a.85 .85 0 1 0-1.7 0zM341.1 675.0a.85 .85 0 1 0 1.7 0a.85 .85 0 1 0-1.7 0zM151.5 543.0a.85 .85 0 1 0 1.7 0a.85 .85 0 1 0-1.7 0zM181.2 624.4a.85 .85 0 1 0 1.7 0a.85 .85 0 1 0-1.7 0zM218.7 649.6a.85 .85 0 1 0 1.7 0a.85 .85 0 1 0-1.7 0zM153.5 522.5a.85 .85 0 1 0 1.7 0a.85 .85 0 1 0-1.7 0zM134.8 514.1a.85 .85 0 1 0 1.7 0a.85 .85 0 1 0-1.7 0zM154.2 559.1a.85 .85 0 1 0 1.7 0a.85 .85 0 1 0-1.7 0zM432.0 585.0a.85 .85 0 1 0 1.7 0a.85 .85 0 1 0-1.7 0zM120.1 576.3a.85 .85 0 1 0 1.7 0a.85 .85 0 1 0-1.7 0zM420.6 592.4a.85 .85 0 1 0 1.7 0a.85 .85 0 1 0-1.7 0zM260.8 648.5a.85 .85 0 1 0 1.7 0a.85 .85 0 1 0-1.7 0zM138.0 617.9a.85 .85 0 1 0 1.7 0a.85 .85 0 1 0-1.7 0zM448.4 562.0a.85 .85 0 1 0 1.7 0a.85 .85 0 1 0-1.7 0zM426.4 626.5a.85 .85 0 1 0 1.7 0a.85 .85 0 1 0-1.7 0zM367.8 637.3a.85 .85 0 1 0 1.7 0a.85 .85 0 1 0-1.7 0zM407.1 601.0a.85 .85 0 1 0 1.7 0a.85 .85 0 1 0-1.7 0zM146.1 521.1a.85 .85 0 1 0 1.7 0a.85 .85 0 1 0-1.7 0zM347.3 674.9a.85 .85 0 1 0 1.7 0a.85 .85 0 1 0-1.7 0zM362.3 629.8a.85 .85 0 1 0 1.7 0a.85 .85 0 1 0-1.7 0zM150.8 621.8a.85 .85 0 1 0 1.7 0a.85 .85 0 1 0-1.7 0zM109.7 604.3a.85 .85 0 1 0 1.7 0a.85 .85 0 1 0-1.7 0zM118.4 513.9a.85 .85 0 1 0 1.7 0a.85 .85 0 1 0-1.7 0zM186.9 589.6a.85 .85 0 1 0 1.7 0a.85 .85 0 1 0-1.7 0zM115.6 588.8a.85 .85 0 1 0 1.7 0a.85 .85 0 1 0-1.7 0zM249.2 644.3a.85 .85 0 1 0 1.7 0a.85 .85 0 1 0-1.7 0zM171.7 544.2a.85 .85 0 1 0 1.7 0a.85 .85 0 1 0-1.7 0zM336.3 679.5a.85 .85 0 1 0 1.7 0a.85 .85 0 1 0-1.7 0zM158.1 540.3a.85 .85 0 1 0 1.7 0a.85 .85 0 1 0-1.7 0zM354.9 658.0a.85 .85 0 1 0 1.7 0a.85 .85 0 1 0-1.7 0zM249.3 650.9a.85 .85 0 1 0 1.7 0a.85 .85 0 1 0-1.7 0zM112.8 501.5a.85 .85 0 1 0 1.7 0a.85 .85 0 1 0-1.7 0zM112.7 517.9a.85 .85 0 1 0 1.7 0a.85 .85 0 1 0-1.7 0zM107.3 509.2a.85 .85 0 1 0 1.7 0a.85 .85 0 1 0-1.7 0zM425.4 603.3a.85 .85 0 1 0 1.7 0a.85 .85 0 1 0-1.7 0zM348.6 680.2a.85 .85 0 1 0 1.7 0a.85 .85 0 1 0-1.7 0zM113.7 510.1a.85 .85 0 1 0 1.7 0a.85 .85 0 1 0-1.7 0zM181.9 639.3a.85 .85 0 1 0 1.7 0a.85 .85 0 1 0-1.7 0zM112.6 572.7a.85 .85 0 1 0 1.7 0a.85 .85 0 1 0-1.7 0zM423.3 630.7a.85 .85 0 1 0 1.7 0a.85 .85 0 1 0-1.7 0zM145.1 610.8a.85 .85 0 1 0 1.7 0a.85 .85 0 1 0-1.7 0zM195.3 645.4a.85 .85 0 1 0 1.7 0a.85 .85 0 1 0-1.7 0zM118.2 562.4a.85 .85 0 1 0 1.7 0a.85 .85 0 1 0-1.7 0zM227.4 646.4a.85 .85 0 1 0 1.7 0a.85 .85 0 1 0-1.7 0zM400.7 637.0a.85 .85 0 1 0 1.7 0a.85 .85 0 1 0-1.7 0zM268.9 647.0a.85 .85 0 1 0 1.7 0a.85 .85 0 1 0-1.7 0zM441.3 588.9a.85 .85 0 1 0 1.7 0a.85 .85 0 1 0-1.7 0zM355.6 674.3a.85 .85 0 1 0 1.7 0a.85 .85 0 1 0-1.7 0zM453.9 565.4a.85 .85 0 1 0 1.7 0a.85 .85 0 1 0-1.7 0zM123.9 516.1a.85 .85 0 1 0 1.7 0a.85 .85 0 1 0-1.7 0zM149.8 526.0a.85 .85 0 1 0 1.7 0a.85 .85 0 1 0-1.7 0zM176.5 620.8a.85 .85 0 1 0 1.7 0a.85 .85 0 1 0-1.7 0zM124.3 559.4a.85 .85 0 1 0 1.7 0a.85 .85 0 1 0-1.7 0zM236.9 652.0a.85 .85 0 1 0 1.7 0a.85 .85 0 1 0-1.7 0zM166.0 620.7a.85 .85 0 1 0 1.7 0a.85 .85 0 1 0-1.7 0zM152.1 616.2a.85 .85 0 1 0 1.7 0a.85 .85 0 1 0-1.7 0zM361.3 679.5a.85 .85 0 1 0 1.7 0a.85 .85 0 1 0-1.7 0zM139.0 525.1a.85 .85 0 1 0 1.7 0a.85 .85 0 1 0-1.7 0zM381.1 647.8a.85 .85 0 1 0 1.7 0a.85 .85 0 1 0-1.7 0zM363.4 656.6a.85 .85 0 1 0 1.7 0a.85 .85 0 1 0-1.7 0zM146.3 541.4a.85 .85 0 1 0 1.7 0a.85 .85 0 1 0-1.7 0zM105.7 601.0a.85 .85 0 1 0 1.7 0a.85 .85 0 1 0-1.7 0zM198.3 654.0a.85 .85 0 1 0 1.7 0a.85 .85 0 1 0-1.7 0zM343.5 687.8a.85 .85 0 1 0 1.7 0a.85 .85 0 1 0-1.7 0zM389.9 637.6a.85 .85 0 1 0 1.7 0a.85 .85 0 1 0-1.7 0zM436.3 597.3a.85 .85 0 1 0 1.7 0a.85 .85 0 1 0-1.7 0zM115.7 556.3a.85 .85 0 1 0 1.7 0a.85 .85 0 1 0-1.7 0zM118.4 519.0a.85 .85 0 1 0 1.7 0a.85 .85 0 1 0-1.7 0zM367.8 631.0a.85 .85 0 1 0 1.7 0a.85 .85 0 1 0-1.7 0zM134.2 529.3a.85 .85 0 1 0 1.7 0a.85 .85 0 1 0-1.7 0zM387.8 648.0a.85 .85 0 1 0 1.7 0a.85 .85 0 1 0-1.7 0zM357.6 645.7a.85 .85 0 1 0 1.7 0a.85 .85 0 1 0-1.7 0zM106.5 586.9a.85 .85 0 1 0 1.7 0a.85 .85 0 1 0-1.7 0zM422.0 621.0a.85 .85 0 1 0 1.7 0a.85 .85 0 1 0-1.7 0zM384.1 639.3a.85 .85 0 1 0 1.7 0a.85 .85 0 1 0-1.7 0zM441.3 576.7a.85 .85 0 1 0 1.7 0a.85 .85 0 1 0-1.7 0zM113.3 583.2a.85 .85 0 1 0 1.7 0a.85 .85 0 1 0-1.7 0zM125.6 617.6a.85 .85 0 1 0 1.7 0a.85 .85 0 1 0-1.7 0zM139.2 491.2a.85 .85 0 1 0 1.7 0a.85 .85 0 1 0-1.7 0zM117.2 525.2a.85 .85 0 1 0 1.7 0a.85 .85 0 1 0-1.7 0zM114.1 551.3a.85 .85 0 1 0 1.7 0a.85 .85 0 1 0-1.7 0zM205.9 660.0a.85 .85 0 1 0 1.7 0a.85 .85 0 1 0-1.7 0zM407.6 618.5a.85 .85 0 1 0 1.7 0a.85 .85 0 1 0-1.7 0zM107.4 502.8a.85 .85 0 1 0 1.7 0a.85 .85 0 1 0-1.7 0zM445.0 612.9a.85 .85 0 1 0 1.7 0a.85 .85 0 1 0-1.7 0zM254.8 653.8a.85 .85 0 1 0 1.7 0a.85 .85 0 1 0-1.7 0zM109.8 522.3a.85 .85 0 1 0 1.7 0a.85 .85 0 1 0-1.7 0zM299.7 666.8a.85 .85 0 1 0 1.7 0a.85 .85 0 1 0-1.7 0zM222.1 641.5a.85 .85 0 1 0 1.7 0a.85 .85 0 1 0-1.7 0zM105.7 527.2a.85 .85 0 1 0 1.7 0a.85 .85 0 1 0-1.7 0zM453.3 607.2a.85 .85 0 1 0 1.7 0a.85 .85 0 1 0-1.7 0zM150.3 533.3a.85 .85 0 1 0 1.7 0a.85 .85 0 1 0-1.7 0zM199.8 667.4a.85 .85 0 1 0 1.7 0a.85 .85 0 1 0-1.7 0zM438.7 614.6a.85 .85 0 1 0 1.7 0a.85 .85 0 1 0-1.7 0zM303.7 676.2a.85 .85 0 1 0 1.7 0a.85 .85 0 1 0-1.7 0zM262.3 653.7a.85 .85 0 1 0 1.7 0a.85 .85 0 1 0-1.7 0zM176.5 650.9a.85 .85 0 1 0 1.7 0a.85 .85 0 1 0-1.7 0zM159.3 620.3a.85 .85 0 1 0 1.7 0a.85 .85 0 1 0-1.7 0zM289.6 663.1a.85 .85 0 1 0 1.7 0a.85 .85 0 1 0-1.7 0zM138.8 533.5a.85 .85 0 1 0 1.7 0a.85 .85 0 1 0-1.7 0zM131.2 618.5a.85 .85 0 1 0 1.7 0a.85 .85 0 1 0-1.7 0zM432.3 623.7a.85 .85 0 1 0 1.7 0a.85 .85 0 1 0-1.7 0zM441.0 624.6a.85 .85 0 1 0 1.7 0a.85 .85 0 1 0-1.7 0zM129.6 518.8a.85 .85 0 1 0 1.7 0a.85 .85 0 1 0-1.7 0zM157.7 525.5a.85 .85 0 1 0 1.7 0a.85 .85 0 1 0-1.7 0zM154.9 529.8a.85 .85 0 1 0 1.7 0a.85 .85 0 1 0-1.7 0zM168.3 646.6a.85 .85 0 1 0 1.7 0a.85 .85 0 1 0-1.7 0zM417.3 623.5a.85 .85 0 1 0 1.7 0a.85 .85 0 1 0-1.7 0zM128.4 533.1a.85 .85 0 1 0 1.7 0a.85 .85 0 1 0-1.7 0zM144.9 635.1a.85 .85 0 1 0 1.7 0a.85 .85 0 1 0-1.7 0zM133.4 546.7a.85 .85 0 1 0 1.7 0a.85 .85 0 1 0-1.7 0zM128.5 550.4a.85 .85 0 1 0 1.7 0a.85 .85 0 1 0-1.7 0zM374.3 651.3a.85 .85 0 1 0 1.7 0a.85 .85 0 1 0-1.7 0zM132.3 623.6a.85 .85 0 1 0 1.7 0a.85 .85 0 1 0-1.7 0zM304.8 682.0a.85 .85 0 1 0 1.7 0a.85 .85 0 1 0-1.7 0zM110.9 546.9a.85 .85 0 1 0 1.7 0a.85 .85 0 1 0-1.7 0zM133.8 537.2a.85 .85 0 1 0 1.7 0a.85 .85 0 1 0-1.7 0zM260.6 658.6a.85 .85 0 1 0 1.7 0a.85 .85 0 1 0-1.7 0zM303.8 670.0a.85 .85 0 1 0 1.7 0a.85 .85 0 1 0-1.7 0zM178.1 660.2a.85 .85 0 1 0 1.7 0a.85 .85 0 1 0-1.7 0zM167.0 641.2a.85 .85 0 1 0 1.7 0a.85 .85 0 1 0-1.7 0zM366.0 650.5a.85 .85 0 1 0 1.7 0a.85 .85 0 1 0-1.7 0zM123.5 486.7a.85 .85 0 1 0 1.7 0a.85 .85 0 1 0-1.7 0zM254.1 659.1a.85 .85 0 1 0 1.7 0a.85 .85 0 1 0-1.7 0zM256.2 641.7a.85 .85 0 1 0 1.7 0a.85 .85 0 1 0-1.7 0zM423.6 637.5a.85 .85 0 1 0 1.7 0a.85 .85 0 1 0-1.7 0zM452.9 570.5a.85 .85 0 1 0 1.7 0a.85 .85 0 1 0-1.7 0zM123.9 536.9a.85 .85 0 1 0 1.7 0a.85 .85 0 1 0-1.7 0zM156.7 625.2a.85 .85 0 1 0 1.7 0a.85 .85 0 1 0-1.7 0zM120.8 529.4a.85 .85 0 1 0 1.7 0a.85 .85 0 1 0-1.7 0zM443.3 581.5a.85 .85 0 1 0 1.7 0a.85 .85 0 1 0-1.7 0zM101.8 520.5a.85 .85 0 1 0 1.7 0a.85 .85 0 1 0-1.7 0zM208.3 669.4a.85 .85 0 1 0 1.7 0a.85 .85 0 1 0-1.7 0zM437.0 628.7a.85 .85 0 1 0 1.7 0a.85 .85 0 1 0-1.7 0zM449.9 625.7a.85 .85 0 1 0 1.7 0a.85 .85 0 1 0-1.7 0zM410.0 635.1a.85 .85 0 1 0 1.7 0a.85 .85 0 1 0-1.7 0zM310.3 679.2a.85 .85 0 1 0 1.7 0a.85 .85 0 1 0-1.7 0zM249.0 660.9a.85 .85 0 1 0 1.7 0a.85 .85 0 1 0-1.7 0zM454.3 557.3a.85 .85 0 1 0 1.7 0a.85 .85 0 1 0-1.7 0zM99.8 573.3a.85 .85 0 1 0 1.7 0a.85 .85 0 1 0-1.7 0zM267.4 669.1a.85 .85 0 1 0 1.7 0a.85 .85 0 1 0-1.7 0zM377.0 629.2a.85 .85 0 1 0 1.7 0a.85 .85 0 1 0-1.7 0zM101.7 558.9a.85 .85 0 1 0 1.7 0a.85 .85 0 1 0-1.7 0zM99.6 604.9a.85 .85 0 1 0 1.7 0a.85 .85 0 1 0-1.7 0zM227.2 661.4a.85 .85 0 1 0 1.7 0a.85 .85 0 1 0-1.7 0zM432.0 618.4a.85 .85 0 1 0 1.7 0a.85 .85 0 1 0-1.7 0zM431.3 636.8a.85 .85 0 1 0 1.7 0a.85 .85 0 1 0-1.7 0zM106.8 490.0a.85 .85 0 1 0 1.7 0a.85 .85 0 1 0-1.7 0zM289.5 670.6a.85 .85 0 1 0 1.7 0a.85 .85 0 1 0-1.7 0zM104.0 611.0a.85 .85 0 1 0 1.7 0a.85 .85 0 1 0-1.7 0zM176.5 642.3a.85 .85 0 1 0 1.7 0a.85 .85 0 1 0-1.7 0zM123.3 546.9a.85 .85 0 1 0 1.7 0a.85 .85 0 1 0-1.7 0zM469.5 555.8a.85 .85 0 1 0 1.7 0a.85 .85 0 1 0-1.7 0zM443.7 617.9a.85 .85 0 1 0 1.7 0a.85 .85 0 1 0-1.7 0zM431.6 630.3a.85 .85 0 1 0 1.7 0a.85 .85 0 1 0-1.7 0zM196.0 662.1a.85 .85 0 1 0 1.7 0a.85 .85 0 1 0-1.7 0zM459.4 560.9a.85 .85 0 1 0 1.7 0a.85 .85 0 1 0-1.7 0zM429.6 645.0a.85 .85 0 1 0 1.7 0a.85 .85 0 1 0-1.7 0zM157.7 650.8a.85 .85 0 1 0 1.7 0a.85 .85 0 1 0-1.7 0zM105.6 576.0a.85 .85 0 1 0 1.7 0a.85 .85 0 1 0-1.7 0zM100.6 506.8a.85 .85 0 1 0 1.7 0a.85 .85 0 1 0-1.7 0zM104.2 564.7a.85 .85 0 1 0 1.7 0a.85 .85 0 1 0-1.7 0zM368.1 678.6a.85 .85 0 1 0 1.7 0a.85 .85 0 1 0-1.7 0zM118.1 486.9a.85 .85 0 1 0 1.7 0a.85 .85 0 1 0-1.7 0zM154.9 635.1a.85 .85 0 1 0 1.7 0a.85 .85 0 1 0-1.7 0zM96.8 597.7a.85 .85 0 1 0 1.7 0a.85 .85 0 1 0-1.7 0zM98.2 564.0a.85 .85 0 1 0 1.7 0a.85 .85 0 1 0-1.7 0zM158.3 640.4a.85 .85 0 1 0 1.7 0a.85 .85 0 1 0-1.7 0zM210.2 663.6a.85 .85 0 1 0 1.7 0a.85 .85 0 1 0-1.7 0zM166.1 654.0a.85 .85 0 1 0 1.7 0a.85 .85 0 1 0-1.7 0zM97.1 523.5a.85 .85 0 1 0 1.7 0a.85 .85 0 1 0-1.7 0zM276.3 670.2a.85 .85 0 1 0 1.7 0a.85 .85 0 1 0-1.7 0zM272.9 665.0a.85 .85 0 1 0 1.7 0a.85 .85 0 1 0-1.7 0zM258.5 665.1a.85 .85 0 1 0 1.7 0a.85 .85 0 1 0-1.7 0zM386.9 621.7a.85 .85 0 1 0 1.7 0a.85 .85 0 1 0-1.7 0zM440.0 641.6a.85 .85 0 1 0 1.7 0a.85 .85 0 1 0-1.7 0zM285.3 657.7a.85 .85 0 1 0 1.7 0a.85 .85 0 1 0-1.7 0zM455.7 580.4a.85 .85 0 1 0 1.7 0a.85 .85 0 1 0-1.7 0zM155.4 645.2a.85 .85 0 1 0 1.7 0a.85 .85 0 1 0-1.7 0zM360.7 671.6a.85 .85 0 1 0 1.7 0a.85 .85 0 1 0-1.7 0zM93.4 566.2a.85 .85 0 1 0 1.7 0a.85 .85 0 1 0-1.7 0zM460.2 566.5a.85 .85 0 1 0 1.7 0a.85 .85 0 1 0-1.7 0zM150.3 657.3a.85 .85 0 1 0 1.7 0a.85 .85 0 1 0-1.7 0zM451.8 613.3a.85 .85 0 1 0 1.7 0a.85 .85 0 1 0-1.7 0zM90.2 558.3a.85 .85 0 1 0 1.7 0a.85 .85 0 1 0-1.7 0zM215.8 666.8a.85 .85 0 1 0 1.7 0a.85 .85 0 1 0-1.7 0zM314.2 671.8a.85 .85 0 1 0 1.7 0a.85 .85 0 1 0-1.7 0zM90.8 605.4a.85 .85 0 1 0 1.7 0a.85 .85 0 1 0-1.7 0zM153.2 640.1a.85 .85 0 1 0 1.7 0a.85 .85 0 1 0-1.7 0zM394.5 591.4a.85 .85 0 1 0 1.7 0a.85 .85 0 1 0-1.7 0zM101.8 593.9a.85 .85 0 1 0 1.7 0a.85 .85 0 1 0-1.7 0zM448.9 582.5a.85 .85 0 1 0 1.7 0a.85 .85 0 1 0-1.7 0zM448.5 619.8a.85 .85 0 1 0 1.7 0a.85 .85 0 1 0-1.7 0zM118.5 542.6a.85 .85 0 1 0 1.7 0a.85 .85 0 1 0-1.7 0zM298.4 676.4a.85 .85 0 1 0 1.7 0a.85 .85 0 1 0-1.7 0zM302.9 687.0a.85 .85 0 1 0 1.7 0a.85 .85 0 1 0-1.7 0zM105.4 547.4a.85 .85 0 1 0 1.7 0a.85 .85 0 1 0-1.7 0zM396.3 622.8a.85 .85 0 1 0 1.7 0a.85 .85 0 1 0-1.7 0zM278.0 676.3a.85 .85 0 1 0 1.7 0a.85 .85 0 1 0-1.7 0zM101.0 513.3a.85 .85 0 1 0 1.7 0a.85 .85 0 1 0-1.7 0zM190.6 659.1a.85 .85 0 1 0 1.7 0a.85 .85 0 1 0-1.7 0zM296.6 688.3a.85 .85 0 1 0 1.7 0a.85 .85 0 1 0-1.7 0zM96.7 535.2a.85 .85 0 1 0 1.7 0a.85 .85 0 1 0-1.7 0zM286.9 687.6a.85 .85 0 1 0 1.7 0a.85 .85 0 1 0-1.7 0zM349.5 686.5a.85 .85 0 1 0 1.7 0a.85 .85 0 1 0-1.7 0zM368.9 659.5a.85 .85 0 1 0 1.7 0a.85 .85 0 1 0-1.7 0zM363.5 688.4a.85 .85 0 1 0 1.7 0a.85 .85 0 1 0-1.7 0zM92.3 551.3a.85 .85 0 1 0 1.7 0a.85 .85 0 1 0-1.7 0zM291.1 677.0a.85 .85 0 1 0 1.7 0a.85 .85 0 1 0-1.7 0zM171.7 659.0a.85 .85 0 1 0 1.7 0a.85 .85 0 1 0-1.7 0zM235.0 670.9a.85 .85 0 1 0 1.7 0a.85 .85 0 1 0-1.7 0zM105.3 541.1a.85 .85 0 1 0 1.7 0a.85 .85 0 1 0-1.7 0zM368.0 683.7a.85 .85 0 1 0 1.7 0a.85 .85 0 1 0-1.7 0zM91.2 495.3a.85 .85 0 1 0 1.7 0a.85 .85 0 1 0-1.7 0zM241.1 669.5a.85 .85 0 1 0 1.7 0a.85 .85 0 1 0-1.7 0zM245.0 656.5a.85 .85 0 1 0 1.7 0a.85 .85 0 1 0-1.7 0zM122.3 611.8a.85 .85 0 1 0 1.7 0a.85 .85 0 1 0-1.7 0zM216.7 661.6a.85 .85 0 1 0 1.7 0a.85 .85 0 1 0-1.7 0zM202.3 672.0a.85 .85 0 1 0 1.7 0a.85 .85 0 1 0-1.7 0zM447.2 646.1a.85 .85 0 1 0 1.7 0a.85 .85 0 1 0-1.7 0zM107.6 592.5a.85 .85 0 1 0 1.7 0a.85 .85 0 1 0-1.7 0zM184.5 664.8a.85 .85 0 1 0 1.7 0a.85 .85 0 1 0-1.7 0zM210.3 676.1a.85 .85 0 1 0 1.7 0a.85 .85 0 1 0-1.7 0zM91.2 486.9a.85 .85 0 1 0 1.7 0a.85 .85 0 1 0-1.7 0zM455.8 590.3a.85 .85 0 1 0 1.7 0a.85 .85 0 1 0-1.7 0zM122.8 627.2a.85 .85 0 1 0 1.7 0a.85 .85 0 1 0-1.7 0zM409.0 640.9a.85 .85 0 1 0 1.7 0a.85 .85 0 1 0-1.7 0zM295.6 649.0a.85 .85 0 1 0 1.7 0a.85 .85 0 1 0-1.7 0zM89.8 535.9a.85 .85 0 1 0 1.7 0a.85 .85 0 1 0-1.7 0zM134.8 631.1a.85 .85 0 1 0 1.7 0a.85 .85 0 1 0-1.7 0zM165.6 563.9a.85 .85 0 1 0 1.7 0a.85 .85 0 1 0-1.7 0zM293.0 683.6a.85 .85 0 1 0 1.7 0a.85 .85 0 1 0-1.7 0zM365.9 673.8a.85 .85 0 1 0 1.7 0a.85 .85 0 1 0-1.7 0zM119.2 619.9a.85 .85 0 1 0 1.7 0a.85 .85 0 1 0-1.7 0zM382.2 654.2a.85 .85 0 1 0 1.7 0a.85 .85 0 1 0-1.7 0zM239.3 656.8a.85 .85 0 1 0 1.7 0a.85 .85 0 1 0-1.7 0zM251.5 668.8a.85 .85 0 1 0 1.7 0a.85 .85 0 1 0-1.7 0zM456.2 617.9a.85 .85 0 1 0 1.7 0a.85 .85 0 1 0-1.7 0zM256.2 671.1a.85 .85 0 1 0 1.7 0a.85 .85 0 1 0-1.7 0zM467.5 573.3a.85 .85 0 1 0 1.7 0a.85 .85 0 1 0-1.7 0zM446.7 633.1a.85 .85 0 1 0 1.7 0a.85 .85 0 1 0-1.7 0zM221.1 668.1a.85 .85 0 1 0 1.7 0a.85 .85 0 1 0-1.7 0zM145.3 659.7a.85 .85 0 1 0 1.7 0a.85 .85 0 1 0-1.7 0zM375.4 660.4a.85 .85 0 1 0 1.7 0a.85 .85 0 1 0-1.7 0zM226.2 666.9a.85 .85 0 1 0 1.7 0a.85 .85 0 1 0-1.7 0zM111.7 485.7a.85 .85 0 1 0 1.7 0a.85 .85 0 1 0-1.7 0zM197.0 674.4a.85 .85 0 1 0 1.7 0a.85 .85 0 1 0-1.7 0zM171.7 669.9a.85 .85 0 1 0 1.7 0a.85 .85 0 1 0-1.7 0zM448.1 607.2a.85 .85 0 1 0 1.7 0a.85 .85 0 1 0-1.7 0zM219.1 673.3a.85 .85 0 1 0 1.7 0a.85 .85 0 1 0-1.7 0zM230.8 678.0a.85 .85 0 1 0 1.7 0a.85 .85 0 1 0-1.7 0zM286.4 680.0a.85 .85 0 1 0 1.7 0a.85 .85 0 1 0-1.7 0zM112.3 620.9a.85 .85 0 1 0 1.7 0a.85 .85 0 1 0-1.7 0zM370.3 665.5a.85 .85 0 1 0 1.7 0a.85 .85 0 1 0-1.7 0zM463.3 581.5a.85 .85 0 1 0 1.7 0a.85 .85 0 1 0-1.7 0zM457.5 649.9a.85 .85 0 1 0 1.7 0a.85 .85 0 1 0-1.7 0zM224.3 677.2a.85 .85 0 1 0 1.7 0a.85 .85 0 1 0-1.7 0zM138.9 644.6a.85 .85 0 1 0 1.7 0a.85 .85 0 1 0-1.7 0zM417.4 655.0a.85 .85 0 1 0 1.7 0a.85 .85 0 1 0-1.7 0zM380.8 661.0a.85 .85 0 1 0 1.7 0a.85 .85 0 1 0-1.7 0zM100.3 543.9a.85 .85 0 1 0 1.7 0a.85 .85 0 1 0-1.7 0zM352.1 662.9a.85 .85 0 1 0 1.7 0a.85 .85 0 1 0-1.7 0zM457.8 655.7a.85 .85 0 1 0 1.7 0a.85 .85 0 1 0-1.7 0zM463.5 557.6a.85 .85 0 1 0 1.7 0a.85 .85 0 1 0-1.7 0zM459.5 663.3a.85 .85 0 1 0 1.7 0a.85 .85 0 1 0-1.7 0zM128.9 631.9a.85 .85 0 1 0 1.7 0a.85 .85 0 1 0-1.7 0zM443.2 651.2a.85 .85 0 1 0 1.7 0a.85 .85 0 1 0-1.7 0zM412.2 658.2a.85 .85 0 1 0 1.7 0a.85 .85 0 1 0-1.7 0zM462.2 646.8a.85 .85 0 1 0 1.7 0a.85 .85 0 1 0-1.7 0zM107.7 617.6a.85 .85 0 1 0 1.7 0a.85 .85 0 1 0-1.7 0zM100.7 550.5a.85 .85 0 1 0 1.7 0a.85 .85 0 1 0-1.7 0zM278.8 686.6a.85 .85 0 1 0 1.7 0a.85 .85 0 1 0-1.7 0zM92.7 503.7a.85 .85 0 1 0 1.7 0a.85 .85 0 1 0-1.7 0zM123.8 580.8a.85 .85 0 1 0 1.7 0a.85 .85 0 1 0-1.7 0zM166.7 660.7a.85 .85 0 1 0 1.7 0a.85 .85 0 1 0-1.7 0zM466.7 567.9a.85 .85 0 1 0 1.7 0a.85 .85 0 1 0-1.7 0zM89.1 584.5a.85 .85 0 1 0 1.7 0a.85 .85 0 1 0-1.7 0zM424.9 642.9a.85 .85 0 1 0 1.7 0a.85 .85 0 1 0-1.7 0zM94.5 543.2a.85 .85 0 1 0 1.7 0a.85 .85 0 1 0-1.7 0zM87.8 600.9a.85 .85 0 1 0 1.7 0a.85 .85 0 1 0-1.7 0zM231.5 666.4a.85 .85 0 1 0 1.7 0a.85 .85 0 1 0-1.7 0zM444.7 660.5a.85 .85 0 1 0 1.7 0a.85 .85 0 1 0-1.7 0zM473.9 564.2a.85 .85 0 1 0 1.7 0a.85 .85 0 1 0-1.7 0zM389.9 658.2a.85 .85 0 1 0 1.7 0a.85 .85 0 1 0-1.7 0zM477.5 568.0a.85 .85 0 1 0 1.7 0a.85 .85 0 1 0-1.7 0zM463.5 624.8a.85 .85 0 1 0 1.7 0a.85 .85 0 1 0-1.7 0zM139.7 666.2a.85 .85 0 1 0 1.7 0a.85 .85 0 1 0-1.7 0zM240.7 676.6a.85 .85 0 1 0 1.7 0a.85 .85 0 1 0-1.7 0zM155.6 667.3a.85 .85 0 1 0 1.7 0a.85 .85 0 1 0-1.7 0zM107.3 626.2a.85 .85 0 1 0 1.7 0a.85 .85 0 1 0-1.7 0zM91.1 590.0a.85 .85 0 1 0 1.7 0a.85 .85 0 1 0-1.7 0zM87.3 510.3a.85 .85 0 1 0 1.7 0a.85 .85 0 1 0-1.7 0zM464.2 616.1a.85 .85 0 1 0 1.7 0a.85 .85 0 1 0-1.7 0zM464.6 659.7a.85 .85 0 1 0 1.7 0a.85 .85 0 1 0-1.7 0zM139.8 633.0a.85 .85 0 1 0 1.7 0a.85 .85 0 1 0-1.7 0zM141.6 639.4a.85 .85 0 1 0 1.7 0a.85 .85 0 1 0-1.7 0zM95.5 508.3a.85 .85 0 1 0 1.7 0a.85 .85 0 1 0-1.7 0zM214.5 681.0a.85 .85 0 1 0 1.7 0a.85 .85 0 1 0-1.7 0zM87.5 522.0a.85 .85 0 1 0 1.7 0a.85 .85 0 1 0-1.7 0zM246.2 669.3a.85 .85 0 1 0 1.7 0a.85 .85 0 1 0-1.7 0zM165.8 668.7a.85 .85 0 1 0 1.7 0a.85 .85 0 1 0-1.7 0zM143.2 673.8a.85 .85 0 1 0 1.7 0a.85 .85 0 1 0-1.7 0zM150.7 651.3a.85 .85 0 1 0 1.7 0a.85 .85 0 1 0-1.7 0zM152.7 661.8a.85 .85 0 1 0 1.7 0a.85 .85 0 1 0-1.7 0zM434.2 642.2a.85 .85 0 1 0 1.7 0a.85 .85 0 1 0-1.7 0zM199.0 680.6a.85 .85 0 1 0 1.7 0a.85 .85 0 1 0-1.7 0zM460.0 608.5a.85 .85 0 1 0 1.7 0a.85 .85 0 1 0-1.7 0zM113.1 627.1a.85 .85 0 1 0 1.7 0a.85 .85 0 1 0-1.7 0zM437.1 654.6a.85 .85 0 1 0 1.7 0a.85 .85 0 1 0-1.7 0zM100.2 483.7a.85 .85 0 1 0 1.7 0a.85 .85 0 1 0-1.7 0zM457.9 670.3a.85 .85 0 1 0 1.7 0a.85 .85 0 1 0-1.7 0zM428.1 658.0a.85 .85 0 1 0 1.7 0a.85 .85 0 1 0-1.7 0zM275.2 681.6a.85 .85 0 1 0 1.7 0a.85 .85 0 1 0-1.7 0zM94.9 618.3a.85 .85 0 1 0 1.7 0a.85 .85 0 1 0-1.7 0zM370.3 670.6a.85 .85 0 1 0 1.7 0a.85 .85 0 1 0-1.7 0zM295.8 671.1a.85 .85 0 1 0 1.7 0a.85 .85 0 1 0-1.7 0zM377.1 670.9a.85 .85 0 1 0 1.7 0a.85 .85 0 1 0-1.7 0zM462.1 601.8a.85 .85 0 1 0 1.7 0a.85 .85 0 1 0-1.7 0zM87.8 491.1a.85 .85 0 1 0 1.7 0a.85 .85 0 1 0-1.7 0zM419.7 663.0a.85 .85 0 1 0 1.7 0a.85 .85 0 1 0-1.7 0zM123.5 632.9a.85 .85 0 1 0 1.7 0a.85 .85 0 1 0-1.7 0zM158.6 673.5a.85 .85 0 1 0 1.7 0a.85 .85 0 1 0-1.7 0zM263.9 676.4a.85 .85 0 1 0 1.7 0a.85 .85 0 1 0-1.7 0zM444.6 628.4a.85 .85 0 1 0 1.7 0a.85 .85 0 1 0-1.7 0zM280.7 681.1a.85 .85 0 1 0 1.7 0a.85 .85 0 1 0-1.7 0zM394.8 642.4a.85 .85 0 1 0 1.7 0a.85 .85 0 1 0-1.7 0zM113.5 633.1a.85 .85 0 1 0 1.7 0a.85 .85 0 1 0-1.7 0zM425.2 662.7a.85 .85 0 1 0 1.7 0a.85 .85 0 1 0-1.7 0zM283.6 675.2a.85 .85 0 1 0 1.7 0a.85 .85 0 1 0-1.7 0zM463.1 590.0a.85 .85 0 1 0 1.7 0a.85 .85 0 1 0-1.7 0zM472.1 602.5a.85 .85 0 1 0 1.7 0a.85 .85 0 1 0-1.7 0zM94.9 530.3a.85 .85 0 1 0 1.7 0a.85 .85 0 1 0-1.7 0zM476.8 577.2a.85 .85 0 1 0 1.7 0a.85 .85 0 1 0-1.7 0zM133.4 661.0a.85 .85 0 1 0 1.7 0a.85 .85 0 1 0-1.7 0zM150.7 681.0a.85 .85 0 1 0 1.7 0a.85 .85 0 1 0-1.7 0zM144.3 687.8a.85 .85 0 1 0 1.7 0a.85 .85 0 1 0-1.7 0zM457.9 636.3a.85 .85 0 1 0 1.7 0a.85 .85 0 1 0-1.7 0zM212.2 686.0a.85 .85 0 1 0 1.7 0a.85 .85 0 1 0-1.7 0zM133.0 654.7a.85 .85 0 1 0 1.7 0a.85 .85 0 1 0-1.7 0zM476.5 669.3a.85 .85 0 1 0 1.7 0a.85 .85 0 1 0-1.7 0zM186.8 674.5a.85 .85 0 1 0 1.7 0a.85 .85 0 1 0-1.7 0zM467.8 645.9a.85 .85 0 1 0 1.7 0a.85 .85 0 1 0-1.7 0zM138.0 651.3a.85 .85 0 1 0 1.7 0a.85 .85 0 1 0-1.7 0zM464.9 668.0a.85 .85 0 1 0 1.7 0a.85 .85 0 1 0-1.7 0zM164.7 678.8a.85 .85 0 1 0 1.7 0a.85 .85 0 1 0-1.7 0zM437.8 666.7a.85 .85 0 1 0 1.7 0a.85 .85 0 1 0-1.7 0zM467.5 605.3a.85 .85 0 1 0 1.7 0a.85 .85 0 1 0-1.7 0zM388.6 664.2a.85 .85 0 1 0 1.7 0a.85 .85 0 1 0-1.7 0zM488.7 566.7a.85 .85 0 1 0 1.7 0a.85 .85 0 1 0-1.7 0zM88.9 595.7a.85 .85 0 1 0 1.7 0a.85 .85 0 1 0-1.7 0zM180.0 655.4a.85 .85 0 1 0 1.7 0a.85 .85 0 1 0-1.7 0zM157.3 680.1a.85 .85 0 1 0 1.7 0a.85 .85 0 1 0-1.7 0zM88.4 499.6a.85 .85 0 1 0 1.7 0a.85 .85 0 1 0-1.7 0zM452.3 647.6a.85 .85 0 1 0 1.7 0a.85 .85 0 1 0-1.7 0zM133.5 644.6a.85 .85 0 1 0 1.7 0a.85 .85 0 1 0-1.7 0zM94.6 571.4a.85 .85 0 1 0 1.7 0a.85 .85 0 1 0-1.7 0zM485.5 582.6a.85 .85 0 1 0 1.7 0a.85 .85 0 1 0-1.7 0zM468.4 583.7a.85 .85 0 1 0 1.7 0a.85 .85 0 1 0-1.7 0zM271.0 684.7a.85 .85 0 1 0 1.7 0a.85 .85 0 1 0-1.7 0zM105.5 632.6a.85 .85 0 1 0 1.7 0a.85 .85 0 1 0-1.7 0zM228.9 686.2a.85 .85 0 1 0 1.7 0a.85 .85 0 1 0-1.7 0zM161.8 686.7a.85 .85 0 1 0 1.7 0a.85 .85 0 1 0-1.7 0zM432.8 661.3a.85 .85 0 1 0 1.7 0a.85 .85 0 1 0-1.7 0zM456.0 602.7a.85 .85 0 1 0 1.7 0a.85 .85 0 1 0-1.7 0zM124.4 638.4a.85 .85 0 1 0 1.7 0a.85 .85 0 1 0-1.7 0zM485.1 573.7a.85 .85 0 1 0 1.7 0a.85 .85 0 1 0-1.7 0zM382.5 675.8a.85 .85 0 1 0 1.7 0a.85 .85 0 1 0-1.7 0zM122.7 649.8a.85 .85 0 1 0 1.7 0a.85 .85 0 1 0-1.7 0zM447.2 674.2a.85 .85 0 1 0 1.7 0a.85 .85 0 1 0-1.7 0zM424.4 678.5a.85 .85 0 1 0 1.7 0a.85 .85 0 1 0-1.7 0zM421.6 668.2a.85 .85 0 1 0 1.7 0a.85 .85 0 1 0-1.7 0zM257.2 676.6a.85 .85 0 1 0 1.7 0a.85 .85 0 1 0-1.7 0zM471.6 656.9a.85 .85 0 1 0 1.7 0a.85 .85 0 1 0-1.7 0zM90.7 516.2a.85 .85 0 1 0 1.7 0a.85 .85 0 1 0-1.7 0zM197.0 688.1a.85 .85 0 1 0 1.7 0a.85 .85 0 1 0-1.7 0zM471.1 590.1a.85 .85 0 1 0 1.7 0a.85 .85 0 1 0-1.7 0zM93.3 581.3a.85 .85 0 1 0 1.7 0a.85 .85 0 1 0-1.7 0zM175.0 679.3a.85 .85 0 1 0 1.7 0a.85 .85 0 1 0-1.7 0zM127.5 658.4a.85 .85 0 1 0 1.7 0a.85 .85 0 1 0-1.7 0zM406.6 657.0a.85 .85 0 1 0 1.7 0a.85 .85 0 1 0-1.7 0zM373.0 675.8a.85 .85 0 1 0 1.7 0a.85 .85 0 1 0-1.7 0zM219.9 684.4a.85 .85 0 1 0 1.7 0a.85 .85 0 1 0-1.7 0zM432.2 679.0a.85 .85 0 1 0 1.7 0a.85 .85 0 1 0-1.7 0zM383.6 669.6a.85 .85 0 1 0 1.7 0a.85 .85 0 1 0-1.7 0zM113.5 640.0a.85 .85 0 1 0 1.7 0a.85 .85 0 1 0-1.7 0zM438.6 680.2a.85 .85 0 1 0 1.7 0a.85 .85 0 1 0-1.7 0zM398.3 656.1a.85 .85 0 1 0 1.7 0a.85 .85 0 1 0-1.7 0zM130.2 672.4a.85 .85 0 1 0 1.7 0a.85 .85 0 1 0-1.7 0zM480.0 583.1a.85 .85 0 1 0 1.7 0a.85 .85 0 1 0-1.7 0zM268.8 678.5a.85 .85 0 1 0 1.7 0a.85 .85 0 1 0-1.7 0zM394.6 664.2a.85 .85 0 1 0 1.7 0a.85 .85 0 1 0-1.7 0zM444.7 668.6a.85 .85 0 1 0 1.7 0a.85 .85 0 1 0-1.7 0zM124.0 644.6a.85 .85 0 1 0 1.7 0a.85 .85 0 1 0-1.7 0zM439.5 660.0a.85 .85 0 1 0 1.7 0a.85 .85 0 1 0-1.7 0zM137.5 673.8a.85 .85 0 1 0 1.7 0a.85 .85 0 1 0-1.7 0zM454.6 679.3a.85 .85 0 1 0 1.7 0a.85 .85 0 1 0-1.7 0zM143.3 679.1a.85 .85 0 1 0 1.7 0a.85 .85 0 1 0-1.7 0zM182.5 677.9a.85 .85 0 1 0 1.7 0a.85 .85 0 1 0-1.7 0zM483.3 591.1a.85 .85 0 1 0 1.7 0a.85 .85 0 1 0-1.7 0zM261.4 684.1a.85 .85 0 1 0 1.7 0a.85 .85 0 1 0-1.7 0zM401.0 661.2a.85 .85 0 1 0 1.7 0a.85 .85 0 1 0-1.7 0zM388.8 670.5a.85 .85 0 1 0 1.7 0a.85 .85 0 1 0-1.7 0zM410.7 652.0a.85 .85 0 1 0 1.7 0a.85 .85 0 1 0-1.7 0zM119.7 660.8a.85 .85 0 1 0 1.7 0a.85 .85 0 1 0-1.7 0zM266.1 686.8a.85 .85 0 1 0 1.7 0a.85 .85 0 1 0-1.7 0zM108.4 652.7a.85 .85 0 1 0 1.7 0a.85 .85 0 1 0-1.7 0zM415.7 676.0a.85 .85 0 1 0 1.7 0a.85 .85 0 1 0-1.7 0zM118.5 654.6a.85 .85 0 1 0 1.7 0a.85 .85 0 1 0-1.7 0zM445.6 682.4a.85 .85 0 1 0 1.7 0a.85 .85 0 1 0-1.7 0zM104.7 638.1a.85 .85 0 1 0 1.7 0a.85 .85 0 1 0-1.7 0zM237.5 680.7a.85 .85 0 1 0 1.7 0a.85 .85 0 1 0-1.7 0zM492.3 587.4a.85 .85 0 1 0 1.7 0a.85 .85 0 1 0-1.7 0zM491.3 580.6a.85 .85 0 1 0 1.7 0a.85 .85 0 1 0-1.7 0zM251.9 674.6a.85 .85 0 1 0 1.7 0a.85 .85 0 1 0-1.7 0zM442.0 673.5a.85 .85 0 1 0 1.7 0a.85 .85 0 1 0-1.7 0zM480.8 651.8a.85 .85 0 1 0 1.7 0a.85 .85 0 1 0-1.7 0zM139.8 684.1a.85 .85 0 1 0 1.7 0a.85 .85 0 1 0-1.7 0zM119.0 642.5a.85 .85 0 1 0 1.7 0a.85 .85 0 1 0-1.7 0zM254.2 684.0a.85 .85 0 1 0 1.7 0a.85 .85 0 1 0-1.7 0zM402.7 668.9a.85 .85 0 1 0 1.7 0a.85 .85 0 1 0-1.7 0zM108.9 642.7a.85 .85 0 1 0 1.7 0a.85 .85 0 1 0-1.7 0zM135.8 679.7a.85 .85 0 1 0 1.7 0a.85 .85 0 1 0-1.7 0zM490.1 657.1a.85 .85 0 1 0 1.7 0a.85 .85 0 1 0-1.7 0zM474.8 572.4a.85 .85 0 1 0 1.7 0a.85 .85 0 1 0-1.7 0zM471.6 671.1a.85 .85 0 1 0 1.7 0a.85 .85 0 1 0-1.7 0zM483.9 672.8a.85 .85 0 1 0 1.7 0a.85 .85 0 1 0-1.7 0zM489.6 684.7a.85 .85 0 1 0 1.7 0a.85 .85 0 1 0-1.7 0zM103.3 656.5a.85 .85 0 1 0 1.7 0a.85 .85 0 1 0-1.7 0zM461.7 683.0a.85 .85 0 1 0 1.7 0a.85 .85 0 1 0-1.7 0zM428.0 684.1a.85 .85 0 1 0 1.7 0a.85 .85 0 1 0-1.7 0zM387.5 677.4a.85 .85 0 1 0 1.7 0a.85 .85 0 1 0-1.7 0zM121.2 669.9a.85 .85 0 1 0 1.7 0a.85 .85 0 1 0-1.7 0zM416.1 669.9a.85 .85 0 1 0 1.7 0a.85 .85 0 1 0-1.7 0zM468.6 621.6a.85 .85 0 1 0 1.7 0a.85 .85 0 1 0-1.7 0zM477.6 602.9a.85 .85 0 1 0 1.7 0a.85 .85 0 1 0-1.7 0zM261.9 669.9a.85 .85 0 1 0 1.7 0a.85 .85 0 1 0-1.7 0zM478.2 561.4a.85 .85 0 1 0 1.7 0a.85 .85 0 1 0-1.7 0zM113.4 664.1a.85 .85 0 1 0 1.7 0a.85 .85 0 1 0-1.7 0zM131.2 682.7a.85 .85 0 1 0 1.7 0a.85 .85 0 1 0-1.7 0zM105.8 670.5a.85 .85 0 1 0 1.7 0a.85 .85 0 1 0-1.7 0zM205.6 685.4a.85 .85 0 1 0 1.7 0a.85 .85 0 1 0-1.7 0zM89.3 541.8a.85 .85 0 1 0 1.7 0a.85 .85 0 1 0-1.7 0zM454.3 686.1a.85 .85 0 1 0 1.7 0a.85 .85 0 1 0-1.7 0zM131.6 636.6a.85 .85 0 1 0 1.7 0a.85 .85 0 1 0-1.7 0zM435.9 602.9a.85 .85 0 1 0 1.7 0a.85 .85 0 1 0-1.7 0zM498.6 686.0a.85 .85 0 1 0 1.7 0a.85 .85 0 1 0-1.7 0zM115.5 672.2a.85 .85 0 1 0 1.7 0a.85 .85 0 1 0-1.7 0zM442.3 688.3a.85 .85 0 1 0 1.7 0a.85 .85 0 1 0-1.7 0zM88.0 477.7a.85 .85 0 1 0 1.7 0a.85 .85 0 1 0-1.7 0zM469.5 639.4a.85 .85 0 1 0 1.7 0a.85 .85 0 1 0-1.7 0zM263.6 664.4a.85 .85 0 1 0 1.7 0a.85 .85 0 1 0-1.7 0zM244.4 686.3a.85 .85 0 1 0 1.7 0a.85 .85 0 1 0-1.7 0zM436.5 675.3a.85 .85 0 1 0 1.7 0a.85 .85 0 1 0-1.7 0zM490.6 575.1a.85 .85 0 1 0 1.7 0a.85 .85 0 1 0-1.7 0zM91.1 631.8a.85 .85 0 1 0 1.7 0a.85 .85 0 1 0-1.7 0zM408.5 685.3a.85 .85 0 1 0 1.7 0a.85 .85 0 1 0-1.7 0zM497.9 585.3a.85 .85 0 1 0 1.7 0a.85 .85 0 1 0-1.7 0zM490.8 671.1a.85 .85 0 1 0 1.7 0a.85 .85 0 1 0-1.7 0zM473.0 684.2a.85 .85 0 1 0 1.7 0a.85 .85 0 1 0-1.7 0zM101.2 667.3a.85 .85 0 1 0 1.7 0a.85 .85 0 1 0-1.7 0zM474.1 645.0a.85 .85 0 1 0 1.7 0a.85 .85 0 1 0-1.7 0zM394.4 672.4a.85 .85 0 1 0 1.7 0a.85 .85 0 1 0-1.7 0zM488.5 561.4a.85 .85 0 1 0 1.7 0a.85 .85 0 1 0-1.7 0zM495.2 563.2a.85 .85 0 1 0 1.7 0a.85 .85 0 1 0-1.7 0zM394.0 679.1a.85 .85 0 1 0 1.7 0a.85 .85 0 1 0-1.7 0zM125.3 684.6a.85 .85 0 1 0 1.7 0a.85 .85 0 1 0-1.7 0zM468.5 652.5a.85 .85 0 1 0 1.7 0a.85 .85 0 1 0-1.7 0zM113.6 657.9a.85 .85 0 1 0 1.7 0a.85 .85 0 1 0-1.7 0zM464.1 635.5a.85 .85 0 1 0 1.7 0a.85 .85 0 1 0-1.7 0zM499.3 594.7a.85 .85 0 1 0 1.7 0a.85 .85 0 1 0-1.7 0zM401.3 688.1a.85 .85 0 1 0 1.7 0a.85 .85 0 1 0-1.7 0zM483.4 642.4a.85 .85 0 1 0 1.7 0a.85 .85 0 1 0-1.7 0zM488.9 662.2a.85 .85 0 1 0 1.7 0a.85 .85 0 1 0-1.7 0zM96.2 673.1a.85 .85 0 1 0 1.7 0a.85 .85 0 1 0-1.7 0zM496.2 578.3a.85 .85 0 1 0 1.7 0a.85 .85 0 1 0-1.7 0zM502.3 578.5a.85 .85 0 1 0 1.7 0a.85 .85 0 1 0-1.7 0zM380.5 680.6a.85 .85 0 1 0 1.7 0a.85 .85 0 1 0-1.7 0zM385.6 687.7a.85 .85 0 1 0 1.7 0a.85 .85 0 1 0-1.7 0zM389.5 642.8a.85 .85 0 1 0 1.7 0a.85 .85 0 1 0-1.7 0zM504.0 585.9a.85 .85 0 1 0 1.7 0a.85 .85 0 1 0-1.7 0zM495.1 653.3a.85 .85 0 1 0 1.7 0a.85 .85 0 1 0-1.7 0zM479.0 647.0a.85 .85 0 1 0 1.7 0a.85 .85 0 1 0-1.7 0zM495.1 662.3a.85 .85 0 1 0 1.7 0a.85 .85 0 1 0-1.7 0zM501.5 564.6a.85 .85 0 1 0 1.7 0a.85 .85 0 1 0-1.7 0zM467.1 683.3a.85 .85 0 1 0 1.7 0a.85 .85 0 1 0-1.7 0zM498.4 618.6a.85 .85 0 1 0 1.7 0a.85 .85 0 1 0-1.7 0zM115.4 678.2a.85 .85 0 1 0 1.7 0a.85 .85 0 1 0-1.7 0zM156.9 685.5a.85 .85 0 1 0 1.7 0a.85 .85 0 1 0-1.7 0zM473.3 619.0a.85 .85 0 1 0 1.7 0a.85 .85 0 1 0-1.7 0zM171.2 651.2a.85 .85 0 1 0 1.7 0a.85 .85 0 1 0-1.7 0zM480.6 637.2a.85 .85 0 1 0 1.7 0a.85 .85 0 1 0-1.7 0zM447.7 688.3a.85 .85 0 1 0 1.7 0a.85 .85 0 1 0-1.7 0zM95.3 663.7a.85 .85 0 1 0 1.7 0a.85 .85 0 1 0-1.7 0zM509.4 563.9a.85 .85 0 1 0 1.7 0a.85 .85 0 1 0-1.7 0zM93.4 650.1a.85 .85 0 1 0 1.7 0a.85 .85 0 1 0-1.7 0zM488.8 638.3a.85 .85 0 1 0 1.7 0a.85 .85 0 1 0-1.7 0zM92.0 656.6a.85 .85 0 1 0 1.7 0a.85 .85 0 1 0-1.7 0zM497.6 678.0a.85 .85 0 1 0 1.7 0a.85 .85 0 1 0-1.7 0zM494.8 633.8a.85 .85 0 1 0 1.7 0a.85 .85 0 1 0-1.7 0zM102.6 628.2a.85 .85 0 1 0 1.7 0a.85 .85 0 1 0-1.7 0zM117.0 685.3a.85 .85 0 1 0 1.7 0a.85 .85 0 1 0-1.7 0zM397.2 683.9a.85 .85 0 1 0 1.7 0a.85 .85 0 1 0-1.7 0zM110.5 680.8a.85 .85 0 1 0 1.7 0a.85 .85 0 1 0-1.7 0zM500.3 570.4a.85 .85 0 1 0 1.7 0a.85 .85 0 1 0-1.7 0zM103.0 685.6a.85 .85 0 1 0 1.7 0a.85 .85 0 1 0-1.7 0zM89.4 667.5a.85 .85 0 1 0 1.7 0a.85 .85 0 1 0-1.7 0zM500.5 652.9a.85 .85 0 1 0 1.7 0a.85 .85 0 1 0-1.7 0zM192.5 685.1a.85 .85 0 1 0 1.7 0a.85 .85 0 1 0-1.7 0zM87.4 649.2a.85 .85 0 1 0 1.7 0a.85 .85 0 1 0-1.7 0zM480.2 621.0a.85 .85 0 1 0 1.7 0a.85 .85 0 1 0-1.7 0zM102.6 677.3a.85 .85 0 1 0 1.7 0a.85 .85 0 1 0-1.7 0zM505.5 681.0a.85 .85 0 1 0 1.7 0a.85 .85 0 1 0-1.7 0zM510.0 592.4a.85 .85 0 1 0 1.7 0a.85 .85 0 1 0-1.7 0zM489.6 621.3a.85 .85 0 1 0 1.7 0a.85 .85 0 1 0-1.7 0zM507.2 610.1a.85 .85 0 1 0 1.7 0a.85 .85 0 1 0-1.7 0zM475.5 628.5a.85 .85 0 1 0 1.7 0a.85 .85 0 1 0-1.7 0zM378.8 687.1a.85 .85 0 1 0 1.7 0a.85 .85 0 1 0-1.7 0zM481.8 626.6a.85 .85 0 1 0 1.7 0a.85 .85 0 1 0-1.7 0zM510.8 573.3a.85 .85 0 1 0 1.7 0a.85 .85 0 1 0-1.7 0zM489.7 616.1a.85 .85 0 1 0 1.7 0a.85 .85 0 1 0-1.7 0zM471.5 632.5a.85 .85 0 1 0 1.7 0a.85 .85 0 1 0-1.7 0zM250.0 688.1a.85 .85 0 1 0 1.7 0a.85 .85 0 1 0-1.7 0zM505.6 572.6a.85 .85 0 1 0 1.7 0a.85 .85 0 1 0-1.7 0zM88.2 660.6a.85 .85 0 1 0 1.7 0a.85 .85 0 1 0-1.7 0zM468.6 663.8a.85 .85 0 1 0 1.7 0a.85 .85 0 1 0-1.7 0zM512.0 683.1a.85 .85 0 1 0 1.7 0a.85 .85 0 1 0-1.7 0zM502.4 634.1a.85 .85 0 1 0 1.7 0a.85 .85 0 1 0-1.7 0zM109.1 674.6a.85 .85 0 1 0 1.7 0a.85 .85 0 1 0-1.7 0zM489.1 632.1a.85 .85 0 1 0 1.7 0a.85 .85 0 1 0-1.7 0zM506.3 673.4a.85 .85 0 1 0 1.7 0a.85 .85 0 1 0-1.7 0zM522.0 570.3a.85 .85 0 1 0 1.7 0a.85 .85 0 1 0-1.7 0zM101.3 662.0a.85 .85 0 1 0 1.7 0a.85 .85 0 1 0-1.7 0zM527.4 573.2a.85 .85 0 1 0 1.7 0a.85 .85 0 1 0-1.7 0zM111.1 668.7a.85 .85 0 1 0 1.7 0a.85 .85 0 1 0-1.7 0zM516.6 569.5a.85 .85 0 1 0 1.7 0a.85 .85 0 1 0-1.7 0zM513.6 671.0a.85 .85 0 1 0 1.7 0a.85 .85 0 1 0-1.7 0zM515.0 585.4a.85 .85 0 1 0 1.7 0a.85 .85 0 1 0-1.7 0zM525.1 579.5a.85 .85 0 1 0 1.7 0a.85 .85 0 1 0-1.7 0zM511.5 604.6a.85 .85 0 1 0 1.7 0a.85 .85 0 1 0-1.7 0zM523.3 601.0a.85 .85 0 1 0 1.7 0a.85 .85 0 1 0-1.7 0zM517.9 667.1a.85 .85 0 1 0 1.7 0a.85 .85 0 1 0-1.7 0zM499.1 610.3a.85 .85 0 1 0 1.7 0a.85 .85 0 1 0-1.7 0zM506.9 650.5a.85 .85 0 1 0 1.7 0a.85 .85 0 1 0-1.7 0zM503.7 667.4a.85 .85 0 1 0 1.7 0a.85 .85 0 1 0-1.7 0zM503.2 613.4a.85 .85 0 1 0 1.7 0a.85 .85 0 1 0-1.7 0zM88.6 673.1a.85 .85 0 1 0 1.7 0a.85 .85 0 1 0-1.7 0zM524.7 584.8a.85 .85 0 1 0 1.7 0a.85 .85 0 1 0-1.7 0zM518.5 577.8a.85 .85 0 1 0 1.7 0a.85 .85 0 1 0-1.7 0zM111.5 686.5a.85 .85 0 1 0 1.7 0a.85 .85 0 1 0-1.7 0zM508.3 616.4a.85 .85 0 1 0 1.7 0a.85 .85 0 1 0-1.7 0zM508.9 664.5a.85 .85 0 1 0 1.7 0a.85 .85 0 1 0-1.7 0zM511.6 578.7a.85 .85 0 1 0 1.7 0a.85 .85 0 1 0-1.7 0zM504.2 623.6a.85 .85 0 1 0 1.7 0a.85 .85 0 1 0-1.7 0zM499.2 639.5a.85 .85 0 1 0 1.7 0a.85 .85 0 1 0-1.7 0zM505.1 629.7a.85 .85 0 1 0 1.7 0a.85 .85 0 1 0-1.7 0zM514.5 599.1a.85 .85 0 1 0 1.7 0a.85 .85 0 1 0-1.7 0zM526.0 593.1a.85 .85 0 1 0 1.7 0a.85 .85 0 1 0-1.7 0zM512.0 656.7a.85 .85 0 1 0 1.7 0a.85 .85 0 1 0-1.7 0zM520.2 588.4a.85 .85 0 1 0 1.7 0a.85 .85 0 1 0-1.7 0zM530.1 601.7a.85 .85 0 1 0 1.7 0a.85 .85 0 1 0-1.7 0zM532.2 608.2a.85 .85 0 1 0 1.7 0a.85 .85 0 1 0-1.7 0zM509.3 599.1a.85 .85 0 1 0 1.7 0a.85 .85 0 1 0-1.7 0zM514.9 645.2a.85 .85 0 1 0 1.7 0a.85 .85 0 1 0-1.7 0zM533.4 684.7a.85 .85 0 1 0 1.7 0a.85 .85 0 1 0-1.7 0zM504.0 591.7a.85 .85 0 1 0 1.7 0a.85 .85 0 1 0-1.7 0zM525.6 677.4a.85 .85 0 1 0 1.7 0a.85 .85 0 1 0-1.7 0zM520.5 657.3a.85 .85 0 1 0 1.7 0a.85 .85 0 1 0-1.7 0zM535.6 612.2a.85 .85 0 1 0 1.7 0a.85 .85 0 1 0-1.7 0zM531.8 569.8a.85 .85 0 1 0 1.7 0a.85 .85 0 1 0-1.7 0zM524.8 667.0a.85 .85 0 1 0 1.7 0a.85 .85 0 1 0-1.7 0zM518.1 612.0a.85 .85 0 1 0 1.7 0a.85 .85 0 1 0-1.7 0zM533.3 676.0a.85 .85 0 1 0 1.7 0a.85 .85 0 1 0-1.7 0zM507.6 644.0a.85 .85 0 1 0 1.7 0a.85 .85 0 1 0-1.7 0zM523.4 610.5a.85 .85 0 1 0 1.7 0a.85 .85 0 1 0-1.7 0zM523.4 646.7a.85 .85 0 1 0 1.7 0a.85 .85 0 1 0-1.7 0zM529.8 624.4a.85 .85 0 1 0 1.7 0a.85 .85 0 1 0-1.7 0zM532.0 669.8a.85 .85 0 1 0 1.7 0a.85 .85 0 1 0-1.7 0zM539.0 683.8a.85 .85 0 1 0 1.7 0a.85 .85 0 1 0-1.7 0zM535.6 602.7a.85 .85 0 1 0 1.7 0a.85 .85 0 1 0-1.7 0zM537.2 626.0a.85 .85 0 1 0 1.7 0a.85 .85 0 1 0-1.7 0zM514.4 619.3a.85 .85 0 1 0 1.7 0a.85 .85 0 1 0-1.7 0zM522.7 682.3a.85 .85 0 1 0 1.7 0a.85 .85 0 1 0-1.7 0zM519.7 673.6a.85 .85 0 1 0 1.7 0a.85 .85 0 1 0-1.7 0zM520.7 627.3a.85 .85 0 1 0 1.7 0a.85 .85 0 1 0-1.7 0zM511.7 630.6a.85 .85 0 1 0 1.7 0a.85 .85 0 1 0-1.7 0zM528.8 612.9a.85 .85 0 1 0 1.7 0a.85 .85 0 1 0-1.7 0zM537.8 617.2a.85 .85 0 1 0 1.7 0a.85 .85 0 1 0-1.7 0zM538.2 678.5a.85 .85 0 1 0 1.7 0a.85 .85 0 1 0-1.7 0zM538.7 571.0a.85 .85 0 1 0 1.7 0a.85 .85 0 1 0-1.7 0zM532.7 619.0a.85 .85 0 1 0 1.7 0a.85 .85 0 1 0-1.7 0zM543.5 680.4a.85 .85 0 1 0 1.7 0a.85 .85 0 1 0-1.7 0zM543.5 614.7a.85 .85 0 1 0 1.7 0a.85 .85 0 1 0-1.7 0zM523.1 641.2a.85 .85 0 1 0 1.7 0a.85 .85 0 1 0-1.7 0zM514.1 651.2a.85 .85 0 1 0 1.7 0a.85 .85 0 1 0-1.7 0zM512.1 611.7a.85 .85 0 1 0 1.7 0a.85 .85 0 1 0-1.7 0zM498.4 658.1a.85 .85 0 1 0 1.7 0a.85 .85 0 1 0-1.7 0zM505.8 638.5a.85 .85 0 1 0 1.7 0a.85 .85 0 1 0-1.7 0zM526.1 605.9a.85 .85 0 1 0 1.7 0a.85 .85 0 1 0-1.7 0zM530.8 580.9a.85 .85 0 1 0 1.7 0a.85 .85 0 1 0-1.7 0zM545.0 623.3a.85 .85 0 1 0 1.7 0a.85 .85 0 1 0-1.7 0zM536.3 580.6a.85 .85 0 1 0 1.7 0a.85 .85 0 1 0-1.7 0zM537.2 668.2a.85 .85 0 1 0 1.7 0a.85 .85 0 1 0-1.7 0zM524.7 630.7a.85 .85 0 1 0 1.7 0a.85 .85 0 1 0-1.7 0zM532.8 630.3a.85 .85 0 1 0 1.7 0a.85 .85 0 1 0-1.7 0zM531.6 586.3a.85 .85 0 1 0 1.7 0a.85 .85 0 1 0-1.7 0zM530.6 635.6a.85 .85 0 1 0 1.7 0a.85 .85 0 1 0-1.7 0zM530.7 664.3a.85 .85 0 1 0 1.7 0a.85 .85 0 1 0-1.7 0zM546.9 685.4a.85 .85 0 1 0 1.7 0a.85 .85 0 1 0-1.7 0zM541.1 576.2a.85 .85 0 1 0 1.7 0a.85 .85 0 1 0-1.7 0zM555.9 684.8a.85 .85 0 1 0 1.7 0a.85 .85 0 1 0-1.7 0zM528.3 641.1a.85 .85 0 1 0 1.7 0a.85 .85 0 1 0-1.7 0zM536.6 657.3a.85 .85 0 1 0 1.7 0a.85 .85 0 1 0-1.7 0zM520.4 662.5a.85 .85 0 1 0 1.7 0a.85 .85 0 1 0-1.7 0zM537.3 639.6a.85 .85 0 1 0 1.7 0a.85 .85 0 1 0-1.7 0zM543.4 664.5a.85 .85 0 1 0 1.7 0a.85 .85 0 1 0-1.7 0zM530.7 650.9a.85 .85 0 1 0 1.7 0a.85 .85 0 1 0-1.7 0zM550.2 616.7a.85 .85 0 1 0 1.7 0a.85 .85 0 1 0-1.7 0zM550.9 672.8a.85 .85 0 1 0 1.7 0a.85 .85 0 1 0-1.7 0zM547.7 604.2a.85 .85 0 1 0 1.7 0a.85 .85 0 1 0-1.7 0zM548.1 574.2a.85 .85 0 1 0 1.7 0a.85 .85 0 1 0-1.7 0zM560.5 677.8a.85 .85 0 1 0 1.7 0a.85 .85 0 1 0-1.7 0zM538.6 652.1a.85 .85 0 1 0 1.7 0a.85 .85 0 1 0-1.7 0zM531.8 645.5a.85 .85 0 1 0 1.7 0a.85 .85 0 1 0-1.7 0zM540.7 583.7a.85 .85 0 1 0 1.7 0a.85 .85 0 1 0-1.7 0zM546.2 580.5a.85 .85 0 1 0 1.7 0a.85 .85 0 1 0-1.7 0zM551.3 587.1a.85 .85 0 1 0 1.7 0a.85 .85 0 1 0-1.7 0zM555.7 675.4a.85 .85 0 1 0 1.7 0a.85 .85 0 1 0-1.7 0zM542.5 592.4a.85 .85 0 1 0 1.7 0a.85 .85 0 1 0-1.7 0zM556.8 593.9a.85 .85 0 1 0 1.7 0a.85 .85 0 1 0-1.7 0zM539.1 644.4a.85 .85 0 1 0 1.7 0a.85 .85 0 1 0-1.7 0zM562.1 588.5a.85 .85 0 1 0 1.7 0a.85 .85 0 1 0-1.7 0zM544.0 642.8a.85 .85 0 1 0 1.7 0a.85 .85 0 1 0-1.7 0zM557.8 599.3a.85 .85 0 1 0 1.7 0a.85 .85 0 1 0-1.7 0zM521.7 635.6a.85 .85 0 1 0 1.7 0a.85 .85 0 1 0-1.7 0zM559.9 666.5a.85 .85 0 1 0 1.7 0a.85 .85 0 1 0-1.7 0zM548.7 629.2a.85 .85 0 1 0 1.7 0a.85 .85 0 1 0-1.7 0zM551.8 624.2a.85 .85 0 1 0 1.7 0a.85 .85 0 1 0-1.7 0zM547.0 647.4a.85 .85 0 1 0 1.7 0a.85 .85 0 1 0-1.7 0zM570.9 681.6a.85 .85 0 1 0 1.7 0a.85 .85 0 1 0-1.7 0zM563.1 596.0a.85 .85 0 1 0 1.7 0a.85 .85 0 1 0-1.7 0zM551.9 656.3a.85 .85 0 1 0 1.7 0a.85 .85 0 1 0-1.7 0zM567.7 582.8a.85 .85 0 1 0 1.7 0a.85 .85 0 1 0-1.7 0zM558.4 577.6a.85 .85 0 1 0 1.7 0a.85 .85 0 1 0-1.7 0zM563.7 671.9a.85 .85 0 1 0 1.7 0a.85 .85 0 1 0-1.7 0zM576.5 680.2a.85 .85 0 1 0 1.7 0a.85 .85 0 1 0-1.7 0zM580.3 684.5a.85 .85 0 1 0 1.7 0a.85 .85 0 1 0-1.7 0zM563.5 579.3a.85 .85 0 1 0 1.7 0a.85 .85 0 1 0-1.7 0zM554.5 636.0a.85 .85 0 1 0 1.7 0a.85 .85 0 1 0-1.7 0zM556.9 644.2a.85 .85 0 1 0 1.7 0a.85 .85 0 1 0-1.7 0zM558.0 583.6a.85 .85 0 1 0 1.7 0a.85 .85 0 1 0-1.7 0zM564.5 601.9a.85 .85 0 1 0 1.7 0a.85 .85 0 1 0-1.7 0zM558.7 605.1a.85 .85 0 1 0 1.7 0a.85 .85 0 1 0-1.7 0zM587.7 686.1a.85 .85 0 1 0 1.7 0a.85 .85 0 1 0-1.7 0zM555.1 615.0a.85 .85 0 1 0 1.7 0a.85 .85 0 1 0-1.7 0zM571.2 600.5a.85 .85 0 1 0 1.7 0a.85 .85 0 1 0-1.7 0zM562.2 638.2a.85 .85 0 1 0 1.7 0a.85 .85 0 1 0-1.7 0zM560.3 623.9a.85 .85 0 1 0 1.7 0a.85 .85 0 1 0-1.7 0zM580.4 675.7a.85 .85 0 1 0 1.7 0a.85 .85 0 1 0-1.7 0zM552.4 680.7a.85 .85 0 1 0 1.7 0a.85 .85 0 1 0-1.7 0zM568.1 663.7a.85 .85 0 1 0 1.7 0a.85 .85 0 1 0-1.7 0zM596.4 683.2a.85 .85 0 1 0 1.7 0a.85 .85 0 1 0-1.7 0zM587.3 679.2a.85 .85 0 1 0 1.7 0a.85 .85 0 1 0-1.7 0zM562.4 661.2a.85 .85 0 1 0 1.7 0a.85 .85 0 1 0-1.7 0zM575.1 583.0a.85 .85 0 1 0 1.7 0a.85 .85 0 1 0-1.7 0zM566.8 607.7a.85 .85 0 1 0 1.7 0a.85 .85 0 1 0-1.7 0zM581.8 583.2a.85 .85 0 1 0 1.7 0a.85 .85 0 1 0-1.7 0zM566.9 633.4a.85 .85 0 1 0 1.7 0a.85 .85 0 1 0-1.7 0zM556.3 627.3a.85 .85 0 1 0 1.7 0a.85 .85 0 1 0-1.7 0zM573.4 589.7a.85 .85 0 1 0 1.7 0a.85 .85 0 1 0-1.7 0zM566.2 591.4a.85 .85 0 1 0 1.7 0a.85 .85 0 1 0-1.7 0zM567.7 617.8a.85 .85 0 1 0 1.7 0a.85 .85 0 1 0-1.7 0zM588.7 673.2a.85 .85 0 1 0 1.7 0a.85 .85 0 1 0-1.7 0zM564.5 653.5a.85 .85 0 1 0 1.7 0a.85 .85 0 1 0-1.7 0zM568.8 669.1a.85 .85 0 1 0 1.7 0a.85 .85 0 1 0-1.7 0zM561.2 629.3a.85 .85 0 1 0 1.7 0a.85 .85 0 1 0-1.7 0zM574.0 671.8a.85 .85 0 1 0 1.7 0a.85 .85 0 1 0-1.7 0zM595.4 677.4a.85 .85 0 1 0 1.7 0a.85 .85 0 1 0-1.7 0zM566.3 623.3a.85 .85 0 1 0 1.7 0a.85 .85 0 1 0-1.7 0zM578.5 594.1a.85 .85 0 1 0 1.7 0a.85 .85 0 1 0-1.7 0zM604.5 678.7a.85 .85 0 1 0 1.7 0a.85 .85 0 1 0-1.7 0zM570.8 594.5a.85 .85 0 1 0 1.7 0a.85 .85 0 1 0-1.7 0zM571.4 610.7a.85 .85 0 1 0 1.7 0a.85 .85 0 1 0-1.7 0zM580.9 667.6a.85 .85 0 1 0 1.7 0a.85 .85 0 1 0-1.7 0zM572.2 623.4a.85 .85 0 1 0 1.7 0a.85 .85 0 1 0-1.7 0zM568.8 646.6a.85 .85 0 1 0 1.7 0a.85 .85 0 1 0-1.7 0zM573.6 635.2a.85 .85 0 1 0 1.7 0a.85 .85 0 1 0-1.7 0zM554.7 662.1a.85 .85 0 1 0 1.7 0a.85 .85 0 1 0-1.7 0zM583.6 596.1a.85 .85 0 1 0 1.7 0a.85 .85 0 1 0-1.7 0zM581.5 653.0a.85 .85 0 1 0 1.7 0a.85 .85 0 1 0-1.7 0zM589.5 648.3a.85 .85 0 1 0 1.7 0a.85 .85 0 1 0-1.7 0zM569.0 656.1a.85 .85 0 1 0 1.7 0a.85 .85 0 1 0-1.7 0zM584.6 657.7a.85 .85 0 1 0 1.7 0a.85 .85 0 1 0-1.7 0zM611.5 682.8a.85 .85 0 1 0 1.7 0a.85 .85 0 1 0-1.7 0zM593.5 587.6a.85 .85 0 1 0 1.7 0a.85 .85 0 1 0-1.7 0zM581.1 661.8a.85 .85 0 1 0 1.7 0a.85 .85 0 1 0-1.7 0zM574.5 629.7a.85 .85 0 1 0 1.7 0a.85 .85 0 1 0-1.7 0zM578.7 647.6a.85 .85 0 1 0 1.7 0a.85 .85 0 1 0-1.7 0zM581.5 642.0a.85 .85 0 1 0 1.7 0a.85 .85 0 1 0-1.7 0zM592.3 602.7a.85 .85 0 1 0 1.7 0a.85 .85 0 1 0-1.7 0zM551.1 644.3a.85 .85 0 1 0 1.7 0a.85 .85 0 1 0-1.7 0zM608.8 687.7a.85 .85 0 1 0 1.7 0a.85 .85 0 1 0-1.7 0zM587.4 641.5a.85 .85 0 1 0 1.7 0a.85 .85 0 1 0-1.7 0zM588.5 635.5a.85 .85 0 1 0 1.7 0a.85 .85 0 1 0-1.7 0zM577.4 638.9a.85 .85 0 1 0 1.7 0a.85 .85 0 1 0-1.7 0zM584.0 647.3a.85 .85 0 1 0 1.7 0a.85 .85 0 1 0-1.7 0zM580.3 607.8a.85 .85 0 1 0 1.7 0a.85 .85 0 1 0-1.7 0zM588.9 598.9a.85 .85 0 1 0 1.7 0a.85 .85 0 1 0-1.7 0zM595.6 595.1a.85 .85 0 1 0 1.7 0a.85 .85 0 1 0-1.7 0zM602.3 673.4a.85 .85 0 1 0 1.7 0a.85 .85 0 1 0-1.7 0zM616.8 682.7a.85 .85 0 1 0 1.7 0a.85 .85 0 1 0-1.7 0zM583.7 603.6a.85 .85 0 1 0 1.7 0a.85 .85 0 1 0-1.7 0zM597.9 637.8a.85 .85 0 1 0 1.7 0a.85 .85 0 1 0-1.7 0zM593.6 662.7a.85 .85 0 1 0 1.7 0a.85 .85 0 1 0-1.7 0zM590.9 656.6a.85 .85 0 1 0 1.7 0a.85 .85 0 1 0-1.7 0zM597.6 645.0a.85 .85 0 1 0 1.7 0a.85 .85 0 1 0-1.7 0zM608.6 671.1a.85 .85 0 1 0 1.7 0a.85 .85 0 1 0-1.7 0zM601.8 592.6a.85 .85 0 1 0 1.7 0a.85 .85 0 1 0-1.7 0zM574.8 605.5a.85 .85 0 1 0 1.7 0a.85 .85 0 1 0-1.7 0zM609.2 665.2a.85 .85 0 1 0 1.7 0a.85 .85 0 1 0-1.7 0zM623.0 681.3a.85 .85 0 1 0 1.7 0a.85 .85 0 1 0-1.7 0zM617.2 675.3a.85 .85 0 1 0 1.7 0a.85 .85 0 1 0-1.7 0zM588.4 607.2a.85 .85 0 1 0 1.7 0a.85 .85 0 1 0-1.7 0zM596.5 658.4a.85 .85 0 1 0 1.7 0a.85 .85 0 1 0-1.7 0zM608.1 597.8a.85 .85 0 1 0 1.7 0a.85 .85 0 1 0-1.7 0zM603.2 600.7a.85 .85 0 1 0 1.7 0a.85 .85 0 1 0-1.7 0zM589.5 622.7a.85 .85 0 1 0 1.7 0a.85 .85 0 1 0-1.7 0zM617.9 587.4a.85 .85 0 1 0 1.7 0a.85 .85 0 1 0-1.7 0zM599.7 667.5a.85 .85 0 1 0 1.7 0a.85 .85 0 1 0-1.7 0zM594.0 631.4a.85 .85 0 1 0 1.7 0a.85 .85 0 1 0-1.7 0zM582.0 619.6a.85 .85 0 1 0 1.7 0a.85 .85 0 1 0-1.7 0zM601.0 660.9a.85 .85 0 1 0 1.7 0a.85 .85 0 1 0-1.7 0zM613.7 599.8a.85 .85 0 1 0 1.7 0a.85 .85 0 1 0-1.7 0zM605.7 657.3a.85 .85 0 1 0 1.7 0a.85 .85 0 1 0-1.7 0zM585.5 615.7a.85 .85 0 1 0 1.7 0a.85 .85 0 1 0-1.7 0zM632.5 666.2a.85 .85 0 1 0 1.7 0a.85 .85 0 1 0-1.7 0zM626.5 677.2a.85 .85 0 1 0 1.7 0a.85 .85 0 1 0-1.7 0zM622.4 663.0a.85 .85 0 1 0 1.7 0a.85 .85 0 1 0-1.7 0zM606.0 589.4a.85 .85 0 1 0 1.7 0a.85 .85 0 1 0-1.7 0zM601.5 649.9a.85 .85 0 1 0 1.7 0a.85 .85 0 1 0-1.7 0zM603.3 640.9a.85 .85 0 1 0 1.7 0a.85 .85 0 1 0-1.7 0zM620.1 604.9a.85 .85 0 1 0 1.7 0a.85 .85 0 1 0-1.7 0zM597.8 605.1a.85 .85 0 1 0 1.7 0a.85 .85 0 1 0-1.7 0zM606.4 604.7a.85 .85 0 1 0 1.7 0a.85 .85 0 1 0-1.7 0zM631.1 672.9a.85 .85 0 1 0 1.7 0a.85 .85 0 1 0-1.7 0zM614.7 661.8a.85 .85 0 1 0 1.7 0a.85 .85 0 1 0-1.7 0zM616.7 612.2a.85 .85 0 1 0 1.7 0a.85 .85 0 1 0-1.7 0zM637.5 662.8a.85 .85 0 1 0 1.7 0a.85 .85 0 1 0-1.7 0zM579.6 613.1a.85 .85 0 1 0 1.7 0a.85 .85 0 1 0-1.7 0zM603.4 635.5a.85 .85 0 1 0 1.7 0a.85 .85 0 1 0-1.7 0zM594.5 624.3a.85 .85 0 1 0 1.7 0a.85 .85 0 1 0-1.7 0zM599.5 619.6a.85 .85 0 1 0 1.7 0a.85 .85 0 1 0-1.7 0zM627.7 603.0a.85 .85 0 1 0 1.7 0a.85 .85 0 1 0-1.7 0zM622.9 688.3a.85 .85 0 1 0 1.7 0a.85 .85 0 1 0-1.7 0zM609.6 649.2a.85 .85 0 1 0 1.7 0a.85 .85 0 1 0-1.7 0zM611.3 656.9a.85 .85 0 1 0 1.7 0a.85 .85 0 1 0-1.7 0zM615.7 687.9a.85 .85 0 1 0 1.7 0a.85 .85 0 1 0-1.7 0zM611.7 608.9a.85 .85 0 1 0 1.7 0a.85 .85 0 1 0-1.7 0zM611.3 616.5a.85 .85 0 1 0 1.7 0a.85 .85 0 1 0-1.7 0zM629.5 683.3a.85 .85 0 1 0 1.7 0a.85 .85 0 1 0-1.7 0zM604.4 611.1a.85 .85 0 1 0 1.7 0a.85 .85 0 1 0-1.7 0zM608.6 642.7a.85 .85 0 1 0 1.7 0a.85 .85 0 1 0-1.7 0zM622.1 657.0a.85 .85 0 1 0 1.7 0a.85 .85 0 1 0-1.7 0zM608.9 629.8a.85 .85 0 1 0 1.7 0a.85 .85 0 1 0-1.7 0zM623.5 600.0a.85 .85 0 1 0 1.7 0a.85 .85 0 1 0-1.7 0zM605.1 625.1a.85 .85 0 1 0 1.7 0a.85 .85 0 1 0-1.7 0zM604.9 618.9a.85 .85 0 1 0 1.7 0a.85 .85 0 1 0-1.7 0zM643.5 659.5a.85 .85 0 1 0 1.7 0a.85 .85 0 1 0-1.7 0zM623.2 588.8a.85 .85 0 1 0 1.7 0a.85 .85 0 1 0-1.7 0zM631.4 594.1a.85 .85 0 1 0 1.7 0a.85 .85 0 1 0-1.7 0zM619.5 643.9a.85 .85 0 1 0 1.7 0a.85 .85 0 1 0-1.7 0zM652.3 661.4a.85 .85 0 1 0 1.7 0a.85 .85 0 1 0-1.7 0zM622.4 620.8a.85 .85 0 1 0 1.7 0a.85 .85 0 1 0-1.7 0zM622.2 615.2a.85 .85 0 1 0 1.7 0a.85 .85 0 1 0-1.7 0zM637.3 682.8a.85 .85 0 1 0 1.7 0a.85 .85 0 1 0-1.7 0zM636.7 591.9a.85 .85 0 1 0 1.7 0a.85 .85 0 1 0-1.7 0zM626.4 650.0a.85 .85 0 1 0 1.7 0a.85 .85 0 1 0-1.7 0zM629.0 621.7a.85 .85 0 1 0 1.7 0a.85 .85 0 1 0-1.7 0zM658.6 649.2a.85 .85 0 1 0 1.7 0a.85 .85 0 1 0-1.7 0zM631.0 609.3a.85 .85 0 1 0 1.7 0a.85 .85 0 1 0-1.7 0zM625.0 641.0a.85 .85 0 1 0 1.7 0a.85 .85 0 1 0-1.7 0zM641.8 675.1a.85 .85 0 1 0 1.7 0a.85 .85 0 1 0-1.7 0zM623.3 594.2a.85 .85 0 1 0 1.7 0a.85 .85 0 1 0-1.7 0zM615.5 630.8a.85 .85 0 1 0 1.7 0a.85 .85 0 1 0-1.7 0zM631.6 628.8a.85 .85 0 1 0 1.7 0a.85 .85 0 1 0-1.7 0zM623.0 609.4a.85 .85 0 1 0 1.7 0a.85 .85 0 1 0-1.7 0zM648.1 673.7a.85 .85 0 1 0 1.7 0a.85 .85 0 1 0-1.7 0zM668.3 653.0a.85 .85 0 1 0 1.7 0a.85 .85 0 1 0-1.7 0zM654.7 668.4a.85 .85 0 1 0 1.7 0a.85 .85 0 1 0-1.7 0zM643.1 681.6a.85 .85 0 1 0 1.7 0a.85 .85 0 1 0-1.7 0zM648.6 680.8a.85 .85 0 1 0 1.7 0a.85 .85 0 1 0-1.7 0zM636.6 630.2a.85 .85 0 1 0 1.7 0a.85 .85 0 1 0-1.7 0zM624.6 626.4a.85 .85 0 1 0 1.7 0a.85 .85 0 1 0-1.7 0zM633.9 649.0a.85 .85 0 1 0 1.7 0a.85 .85 0 1 0-1.7 0zM636.2 612.0a.85 .85 0 1 0 1.7 0a.85 .85 0 1 0-1.7 0zM642.5 647.1a.85 .85 0 1 0 1.7 0a.85 .85 0 1 0-1.7 0zM622.1 634.8a.85 .85 0 1 0 1.7 0a.85 .85 0 1 0-1.7 0zM637.9 640.8a.85 .85 0 1 0 1.7 0a.85 .85 0 1 0-1.7 0zM664.0 668.9a.85 .85 0 1 0 1.7 0a.85 .85 0 1 0-1.7 0zM640.9 605.2a.85 .85 0 1 0 1.7 0a.85 .85 0 1 0-1.7 0zM645.0 600.6a.85 .85 0 1 0 1.7 0a.85 .85 0 1 0-1.7 0zM662.8 684.6a.85 .85 0 1 0 1.7 0a.85 .85 0 1 0-1.7 0zM608.5 636.9a.85 .85 0 1 0 1.7 0a.85 .85 0 1 0-1.7 0zM630.5 660.8a.85 .85 0 1 0 1.7 0a.85 .85 0 1 0-1.7 0zM674.0 656.3a.85 .85 0 1 0 1.7 0a.85 .85 0 1 0-1.7 0zM631.9 636.9a.85 .85 0 1 0 1.7 0a.85 .85 0 1 0-1.7 0zM646.5 651.2a.85 .85 0 1 0 1.7 0a.85 .85 0 1 0-1.7 0zM637.8 597.9a.85 .85 0 1 0 1.7 0a.85 .85 0 1 0-1.7 0zM667.6 686.9a.85 .85 0 1 0 1.7 0a.85 .85 0 1 0-1.7 0zM626.1 631.3a.85 .85 0 1 0 1.7 0a.85 .85 0 1 0-1.7 0zM647.7 645.8a.85 .85 0 1 0 1.7 0a.85 .85 0 1 0-1.7 0zM649.7 639.9a.85 .85 0 1 0 1.7 0a.85 .85 0 1 0-1.7 0zM659.3 664.4a.85 .85 0 1 0 1.7 0a.85 .85 0 1 0-1.7 0zM641.8 593.2a.85 .85 0 1 0 1.7 0a.85 .85 0 1 0-1.7 0zM656.5 641.9a.85 .85 0 1 0 1.7 0a.85 .85 0 1 0-1.7 0zM662.2 642.2a.85 .85 0 1 0 1.7 0a.85 .85 0 1 0-1.7 0zM668.2 639.1a.85 .85 0 1 0 1.7 0a.85 .85 0 1 0-1.7 0zM647.7 594.8a.85 .85 0 1 0 1.7 0a.85 .85 0 1 0-1.7 0zM653.3 631.6a.85 .85 0 1 0 1.7 0a.85 .85 0 1 0-1.7 0zM668.3 663.7a.85 .85 0 1 0 1.7 0a.85 .85 0 1 0-1.7 0zM675.4 647.3a.85 .85 0 1 0 1.7 0a.85 .85 0 1 0-1.7 0zM663.7 657.1a.85 .85 0 1 0 1.7 0a.85 .85 0 1 0-1.7 0zM652.1 605.2a.85 .85 0 1 0 1.7 0a.85 .85 0 1 0-1.7 0zM654.6 598.4a.85 .85 0 1 0 1.7 0a.85 .85 0 1 0-1.7 0zM677.7 652.1a.85 .85 0 1 0 1.7 0a.85 .85 0 1 0-1.7 0zM652.5 654.7a.85 .85 0 1 0 1.7 0a.85 .85 0 1 0-1.7 0zM664.0 632.7a.85 .85 0 1 0 1.7 0a.85 .85 0 1 0-1.7 0zM669.8 630.7a.85 .85 0 1 0 1.7 0a.85 .85 0 1 0-1.7 0zM676.4 684.8a.85 .85 0 1 0 1.7 0a.85 .85 0 1 0-1.7 0zM658.6 671.9a.85 .85 0 1 0 1.7 0a.85 .85 0 1 0-1.7 0zM642.6 627.0a.85 .85 0 1 0 1.7 0a.85 .85 0 1 0-1.7 0zM652.8 620.8a.85 .85 0 1 0 1.7 0a.85 .85 0 1 0-1.7 0zM667.8 601.0a.85 .85 0 1 0 1.7 0a.85 .85 0 1 0-1.7 0zM658.9 602.2a.85 .85 0 1 0 1.7 0a.85 .85 0 1 0-1.7 0zM674.6 662.6a.85 .85 0 1 0 1.7 0a.85 .85 0 1 0-1.7 0zM621.0 649.7a.85 .85 0 1 0 1.7 0a.85 .85 0 1 0-1.7 0zM682.4 649.1a.85 .85 0 1 0 1.7 0a.85 .85 0 1 0-1.7 0zM640.3 619.3a.85 .85 0 1 0 1.7 0a.85 .85 0 1 0-1.7 0zM682.4 629.5a.85 .85 0 1 0 1.7 0a.85 .85 0 1 0-1.7 0zM680.5 662.9a.85 .85 0 1 0 1.7 0a.85 .85 0 1 0-1.7 0zM631.2 688.3a.85 .85 0 1 0 1.7 0a.85 .85 0 1 0-1.7 0zM670.3 605.9a.85 .85 0 1 0 1.7 0a.85 .85 0 1 0-1.7 0zM669.3 621.2a.85 .85 0 1 0 1.7 0a.85 .85 0 1 0-1.7 0zM675.1 609.0a.85 .85 0 1 0 1.7 0a.85 .85 0 1 0-1.7 0zM688.2 642.1a.85 .85 0 1 0 1.7 0a.85 .85 0 1 0-1.7 0zM658.6 616.0a.85 .85 0 1 0 1.7 0a.85 .85 0 1 0-1.7 0zM690.2 648.7a.85 .85 0 1 0 1.7 0a.85 .85 0 1 0-1.7 0zM685.2 637.9a.85 .85 0 1 0 1.7 0a.85 .85 0 1 0-1.7 0zM678.4 670.8a.85 .85 0 1 0 1.7 0a.85 .85 0 1 0-1.7 0zM683.0 679.5a.85 .85 0 1 0 1.7 0a.85 .85 0 1 0-1.7 0zM675.6 623.3a.85 .85 0 1 0 1.7 0a.85 .85 0 1 0-1.7 0zM674.2 602.5a.85 .85 0 1 0 1.7 0a.85 .85 0 1 0-1.7 0zM690.8 676.7a.85 .85 0 1 0 1.7 0a.85 .85 0 1 0-1.7 0zM693.4 643.6a.85 .85 0 1 0 1.7 0a.85 .85 0 1 0-1.7 0zM673.2 616.9a.85 .85 0 1 0 1.7 0a.85 .85 0 1 0-1.7 0zM691.6 619.3a.85 .85 0 1 0 1.7 0a.85 .85 0 1 0-1.7 0zM686.1 615.7a.85 .85 0 1 0 1.7 0a.85 .85 0 1 0-1.7 0zM672.8 669.6a.85 .85 0 1 0 1.7 0a.85 .85 0 1 0-1.7 0zM691.2 669.4a.85 .85 0 1 0 1.7 0a.85 .85 0 1 0-1.7 0zM699.1 666.2a.85 .85 0 1 0 1.7 0a.85 .85 0 1 0-1.7 0zM686.5 654.0a.85 .85 0 1 0 1.7 0a.85 .85 0 1 0-1.7 0zM684.8 603.3a.85 .85 0 1 0 1.7 0a.85 .85 0 1 0-1.7 0zM671.8 643.3a.85 .85 0 1 0 1.7 0a.85 .85 0 1 0-1.7 0zM679.5 618.9a.85 .85 0 1 0 1.7 0a.85 .85 0 1 0-1.7 0zM664.2 619.5a.85 .85 0 1 0 1.7 0a.85 .85 0 1 0-1.7 0zM694.6 652.4a.85 .85 0 1 0 1.7 0a.85 .85 0 1 0-1.7 0zM702.2 655.1a.85 .85 0 1 0 1.7 0a.85 .85 0 1 0-1.7 0zM686.1 667.3a.85 .85 0 1 0 1.7 0a.85 .85 0 1 0-1.7 0zM698.5 620.8a.85 .85 0 1 0 1.7 0a.85 .85 0 1 0-1.7 0zM695.5 658.1a.85 .85 0 1 0 1.7 0a.85 .85 0 1 0-1.7 0zM704.4 661.4a.85 .85 0 1 0 1.7 0a.85 .85 0 1 0-1.7 0zM690.2 684.0a.85 .85 0 1 0 1.7 0a.85 .85 0 1 0-1.7 0zM680.6 606.3a.85 .85 0 1 0 1.7 0a.85 .85 0 1 0-1.7 0zM662.7 606.2a.85 .85 0 1 0 1.7 0a.85 .85 0 1 0-1.7 0zM703.5 669.4a.85 .85 0 1 0 1.7 0a.85 .85 0 1 0-1.7 0zM695.7 606.2a.85 .85 0 1 0 1.7 0a.85 .85 0 1 0-1.7 0zM699.3 632.2a.85 .85 0 1 0 1.7 0a.85 .85 0 1 0-1.7 0zM701.3 676.1a.85 .85 0 1 0 1.7 0a.85 .85 0 1 0-1.7 0zM701.5 637.5a.85 .85 0 1 0 1.7 0a.85 .85 0 1 0-1.7 0zM685.8 659.8a.85 .85 0 1 0 1.7 0a.85 .85 0 1 0-1.7 0zM709.9 676.6a.85 .85 0 1 0 1.7 0a.85 .85 0 1 0-1.7 0zM684.7 673.1a.85 .85 0 1 0 1.7 0a.85 .85 0 1 0-1.7 0zM679.8 613.8a.85 .85 0 1 0 1.7 0a.85 .85 0 1 0-1.7 0zM706.0 608.5a.85 .85 0 1 0 1.7 0a.85 .85 0 1 0-1.7 0zM707.4 629.9a.85 .85 0 1 0 1.7 0a.85 .85 0 1 0-1.7 0zM706.5 635.5a.85 .85 0 1 0 1.7 0a.85 .85 0 1 0-1.7 0zM712.5 623.4a.85 .85 0 1 0 1.7 0a.85 .85 0 1 0-1.7 0zM706.9 650.1a.85 .85 0 1 0 1.7 0a.85 .85 0 1 0-1.7 0zM695.9 672.1a.85 .85 0 1 0 1.7 0a.85 .85 0 1 0-1.7 0zM704.2 645.0a.85 .85 0 1 0 1.7 0a.85 .85 0 1 0-1.7 0zM714.3 679.8a.85 .85 0 1 0 1.7 0a.85 .85 0 1 0-1.7 0zM711.6 671.3a.85 .85 0 1 0 1.7 0a.85 .85 0 1 0-1.7 0zM702.0 624.9a.85 .85 0 1 0 1.7 0a.85 .85 0 1 0-1.7 0zM713.1 643.9a.85 .85 0 1 0 1.7 0a.85 .85 0 1 0-1.7 0zM708.5 666.5a.85 .85 0 1 0 1.7 0a.85 .85 0 1 0-1.7 0zM716.4 649.8a.85 .85 0 1 0 1.7 0a.85 .85 0 1 0-1.7 0zM707.7 615.2a.85 .85 0 1 0 1.7 0a.85 .85 0 1 0-1.7 0zM720.0 623.6a.85 .85 0 1 0 1.7 0a.85 .85 0 1 0-1.7 0zM713.0 617.7a.85 .85 0 1 0 1.7 0a.85 .85 0 1 0-1.7 0zM714.8 608.3a.85 .85 0 1 0 1.7 0a.85 .85 0 1 0-1.7 0zM712.2 687.0a.85 .85 0 1 0 1.7 0a.85 .85 0 1 0-1.7 0zM717.4 668.3a.85 .85 0 1 0 1.7 0a.85 .85 0 1 0-1.7 0zM718.5 614.0a.85 .85 0 1 0 1.7 0a.85 .85 0 1 0-1.7 0zM713.1 634.0a.85 .85 0 1 0 1.7 0a.85 .85 0 1 0-1.7 0zM718.7 636.4a.85 .85 0 1 0 1.7 0a.85 .85 0 1 0-1.7 0zM715.6 628.1a.85 .85 0 1 0 1.7 0a.85 .85 0 1 0-1.7 0zM721.2 629.5a.85 .85 0 1 0 1.7 0a.85 .85 0 1 0-1.7 0zM720.1 687.4a.85 .85 0 1 0 1.7 0a.85 .85 0 1 0-1.7 0zM719.6 657.8a.85 .85 0 1 0 1.7 0a.85 .85 0 1 0-1.7 0zM719.6 676.0a.85 .85 0 1 0 1.7 0a.85 .85 0 1 0-1.7 0zM701.0 607.9a.85 .85 0 1 0 1.7 0a.85 .85 0 1 0-1.7 0zM719.8 641.6a.85 .85 0 1 0 1.7 0a.85 .85 0 1 0-1.7 0zM727.8 675.4a.85 .85 0 1 0 1.7 0a.85 .85 0 1 0-1.7 0zM721.9 671.0a.85 .85 0 1 0 1.7 0a.85 .85 0 1 0-1.7 0zM721.5 651.2a.85 .85 0 1 0 1.7 0a.85 .85 0 1 0-1.7 0zM722.1 681.5a.85 .85 0 1 0 1.7 0a.85 .85 0 1 0-1.7 0zM727.1 655.4a.85 .85 0 1 0 1.7 0a.85 .85 0 1 0-1.7 0zM728.9 681.2a.85 .85 0 1 0 1.7 0a.85 .85 0 1 0-1.7 0zM724.2 636.9a.85 .85 0 1 0 1.7 0a.85 .85 0 1 0-1.7 0zM720.7 664.4a.85 .85 0 1 0 1.7 0a.85 .85 0 1 0-1.7 0zM728.8 646.4a.85 .85 0 1 0 1.7 0a.85 .85 0 1 0-1.7 0zM729.1 661.2a.85 .85 0 1 0 1.7 0a.85 .85 0 1 0-1.7 0zM725.0 614.4a.85 .85 0 1 0 1.7 0a.85 .85 0 1 0-1.7 0zM726.4 686.8a.85 .85 0 1 0 1.7 0a.85 .85 0 1 0-1.7 0zM725.8 642.0a.85 .85 0 1 0 1.7 0a.85 .85 0 1 0-1.7 0z" fill="#6a6a6a"/>
<polyline points="87.0,689.5 87.0,81.0 731.0,179.3 731.0,689.5 87.0,689.5" fill="none" stroke="#909090" stroke-width="1.2"/>
<line x1="87.0" y1="472.6" x2="142.1" y2="483.8" stroke="#777" stroke-width="1.00"/>
<line x1="644.4" y1="592.0" x2="731.0" y2="609.4" stroke="#777" stroke-width="1.00"/>
<polygon points="142.1,342.3 363.4,304.0 644.4,345.0 644.4,592.0 423.7,663.9 142.1,573.3" fill="#fff"/>
<polygon points="201.7,576.2 390.0,537.5 390.0,511.3 610.9,554.2 610.9,583.0 423.7,645.0" fill="#c8c8c8"/>
<polygon points="142.1,342.3 423.7,417.5 644.4,345.0 618.8,346.3 423.7,406.9 168.1,343.1" fill="#e8e8e8"/>
<polygon points="142.1,342.3 363.4,304.0 644.4,345.0 618.8,346.3 363.4,308.3 168.1,343.1" fill="#f6f6f6"/>
<line x1="142.1" y1="342.3" x2="363.4" y2="304.0" stroke="#111" stroke-width="1.35"/>
<line x1="363.4" y1="304.0" x2="644.4" y2="345.0" stroke="#111" stroke-width="1.35"/>
<line x1="142.1" y1="342.3" x2="423.7" y2="417.5" stroke="#111" stroke-width="1.35"/>
<line x1="423.7" y1="417.5" x2="644.4" y2="345.0" stroke="#111" stroke-width="1.35"/>
<line x1="168.1" y1="343.1" x2="363.4" y2="308.3" stroke="#111" stroke-width="1.35"/>
<line x1="363.4" y1="308.3" x2="618.8" y2="346.3" stroke="#111" stroke-width="1.35"/>
<line x1="168.1" y1="343.1" x2="423.7" y2="406.9" stroke="#111" stroke-width="1.35"/>
<line x1="423.7" y1="406.9" x2="618.8" y2="346.3" stroke="#111" stroke-width="1.35"/>
<line x1="199.4" y1="350.6" x2="363.4" y2="323.5" stroke="#111" stroke-width="1.35"/>
<line x1="363.4" y1="323.5" x2="586.3" y2="355.5" stroke="#111" stroke-width="1.35"/>
<line x1="142.1" y1="573.3" x2="423.7" y2="663.9" stroke="#111" stroke-width="1.40"/>
<line x1="423.7" y1="663.9" x2="644.4" y2="592.0" stroke="#111" stroke-width="1.40"/>
<line x1="142.1" y1="573.3" x2="362.9" y2="531.2" stroke="#1a1a1a" stroke-width="1.30"/>
<line x1="362.9" y1="531.2" x2="644.4" y2="592.0" stroke="#1a1a1a" stroke-width="1.30"/>
<line x1="142.1" y1="342.3" x2="142.1" y2="573.3" stroke="#222" stroke-width="1.30"/>
<line x1="423.7" y1="417.5" x2="423.7" y2="663.9" stroke="#555" stroke-width="1.10"/>
<line x1="644.4" y1="345.0" x2="644.4" y2="592.0" stroke="#333" stroke-width="1.50"/>
<line x1="363.4" y1="304.0" x2="362.9" y2="531.2" stroke="#444" stroke-width="1.30"/>
<line x1="363.3" y1="149.5" x2="363.3" y2="304" stroke="#000" stroke-width="1.3" stroke-dasharray="6.7 5.1"/>
<line x1="409.8" y1="257.0" x2="409.8" y2="358.0" stroke="#1a1a1a" stroke-width="1.40"/>
<line x1="581.0" y1="221.9" x2="581.0" y2="411.0" stroke="#1a1a1a" stroke-width="1.40"/>
<line x1="608.1" y1="184.4" x2="608.1" y2="416.0" stroke="#1a1a1a" stroke-width="1.40"/>
<line x1="428.7" y1="388.7" x2="666.5" y2="430.5" stroke="#222" stroke-width="1.00"/>
<polygon points="389.6,357.1 429.0,362.5 429.0,401.3 389.6,396.3" fill="#9a9a9a" stroke="#111" stroke-width="1.4"/>
<circle cx="409.1" cy="379.7" r="14.5" fill="#fff" stroke="#222" stroke-width="1"/>
<rect x="407.3" y="364" width="3.8" height="6" rx="1.9" fill="#9a9a9a" stroke="#222" stroke-width="0.8"/>
<rect x="407.3" y="389.5" width="3.8" height="6" rx="1.9" fill="#9a9a9a" stroke="#222" stroke-width="0.8"/>
<rect x="406.6" y="363" width="5.2" height="2.2" fill="#9a9a9a"/>
<rect x="406.6" y="394.2" width="5.2" height="2.2" fill="#9a9a9a"/>
<circle cx="402.5" cy="380.4" r="2.6" fill="#000"/>
<circle cx="415.6" cy="380.9" r="2.6" fill="#000"/>
<circle cx="581.0" cy="416.0" r="5.6" fill="#7a7a7a" stroke="#222" stroke-width="1"/>
<circle cx="608.0" cy="421.0" r="5.6" fill="#7a7a7a" stroke="#222" stroke-width="1"/>
<ellipse cx="473.7" cy="600.5" rx="39.7" ry="14.2" fill="#585858"/>
<ellipse cx="473.0" cy="600.1" rx="15" ry="5.6" fill="#fff" stroke="#222" stroke-width="1"/>
<line x1="272.9" y1="649.7" x2="473.0" y2="600.0" stroke="#000" stroke-width="1.40"/>
<line x1="473.0" y1="600.0" x2="639.9" y2="635.9" stroke="#000" stroke-width="1.40"/>
<line x1="91.9" y1="582.8" x2="142.1" y2="573.3" stroke="#000" stroke-width="1.40"/>
<line x1="644.4" y1="592.0" x2="717.8" y2="607.2" stroke="#000" stroke-width="1.80"/>
<line x1="364.0" y1="170.8" x2="607.5" y2="208.8" stroke="#000" stroke-width="1.30"/>
<polygon points="607.5,208.8 595.1,210.3 596.2,203.6" fill="#000"/>
<polygon points="364.0,170.8 376.4,169.2 375.3,176.0" fill="#000"/>
<line x1="364.0" y1="213.8" x2="578.8" y2="245.0" stroke="#000" stroke-width="1.30"/>
<polygon points="578.8,245.0 566.4,246.6 567.4,239.9" fill="#000"/>
<polygon points="364.0,213.8 376.4,212.2 375.4,218.9" fill="#000"/>
<line x1="364.0" y1="268.5" x2="409.3" y2="277.0" stroke="#000" stroke-width="1.30"/>
<polygon points="409.3,277.0 397.9,278.3 399.1,271.6" fill="#000"/>
<polygon points="364.0,268.5 375.4,267.2 374.2,273.9" fill="#000"/>
<line x1="109.4" y1="579.8" x2="289.8" y2="644.0" stroke="#000" stroke-width="1.30"/>
<polygon points="289.8,644.0 276.7,643.4 279.3,636.2" fill="#000"/>
<polygon points="109.4,579.8 122.5,580.4 119.9,587.6" fill="#000"/>
<line x1="622.4" y1="632.0" x2="698.6" y2="603.5" stroke="#000" stroke-width="1.30"/>
<polygon points="698.6,603.5 686.9,612.2 684.1,604.7" fill="#000"/>
<polygon points="622.4,632.0 634.1,623.3 636.9,630.8" fill="#000"/>
<line x1="658.5" y1="445.0" x2="658.5" y2="488.7" stroke="#000" stroke-width="1.20"/>
<polygon points="658.5,429.5 663.3,446.5 653.7,446.5" fill="#000"/>
<line x1="658.5" y1="534.9" x2="658.5" y2="580.0" stroke="#000" stroke-width="1.20"/>
<polygon points="658.5,593.4 653.7,576.4 663.3,576.4" fill="#000"/>
<line x1="482.2" y1="535.0" x2="482.2" y2="553.0" stroke="#000" stroke-width="1.10"/>
<polygon points="482.2,529.5 485.0,536.5 479.4,536.5" fill="#000"/>
<polygon points="482.2,558.5 479.4,551.5 485.0,551.5" fill="#000"/>
<line x1="475.0" y1="528.0" x2="540.0" y2="540.5" stroke="#111" stroke-width="1.10"/>
<circle cx="367.8" cy="370.6" r="20.0" fill="#000"/>
<path d="M352.60 365.60L363.60 365.60M355.35 360.84L360.85 370.36M360.85 360.84L355.35 370.36" stroke="#fff" stroke-width="1.90" fill="none"/>
<text x="365.90" y="381.90" font-size="29" fill="#fff" stroke="#000" stroke-width="0.3">5</text>
<circle cx="563.0" cy="441.2" r="20.2" fill="#000"/>
<path d="M550.10 436.00L561.10 436.00M552.85 431.24L558.35 440.76M558.35 431.24L552.85 440.76" stroke="#fff" stroke-width="1.90" fill="none"/>
<path d="M569.6 452V435.2L565.3 437.6V435.1L570 431.6H572.3V452Z" fill="#fff"/>
<circle cx="613.9" cy="452.3" r="20.0" fill="#000"/>
<path d="M599.10 447.00L610.10 447.00M601.85 442.24L607.35 451.76M607.35 442.24L601.85 451.76" stroke="#fff" stroke-width="1.90" fill="none"/>
<text x="611.75" y="462.75" font-size="29" fill="#fff" stroke="#000" stroke-width="0.3">2</text>
<circle cx="449.5" cy="526.4" r="20.0" fill="#000"/>
<path d="M435.15 521.30L446.15 521.30M437.90 516.54L443.40 526.06M443.40 516.54L437.90 526.06" stroke="#fff" stroke-width="1.90" fill="none"/>
<text x="447.50" y="537.10" font-size="29" fill="#fff" stroke="#000" stroke-width="0.3">3</text>
<circle cx="434.2" cy="582.5" r="20.0" fill="#000"/>
<path d="M419.60 577.35L430.60 577.35M422.35 572.59L427.85 582.11M427.85 572.59L422.35 582.11" stroke="#fff" stroke-width="1.90" fill="none"/>
<text x="431.00" y="593.50" font-size="29" fill="#fff" stroke="#000" stroke-width="0.3">4</text>
<text x="461.5" y="180.9" font-size="16" fill="#000" transform="translate(461.5 180.9) skewY(8.00) translate(-461.5 -180.9)" textLength="46.8" lengthAdjust="spacingAndGlyphs">90 cm</text>
<text x="456.1" y="221.6" font-size="16" fill="#000" transform="translate(456.1 221.6) skewY(8.00) translate(-456.1 -221.6)" textLength="46.6" lengthAdjust="spacingAndGlyphs">84 cm</text>
<text x="364.0" y="259.5" font-size="16" fill="#000" transform="translate(364.0 259.5) skewY(8.00) translate(-364.0 -259.5)" textLength="44.6" lengthAdjust="spacingAndGlyphs">30 cm</text>
<text x="645.2" y="520.3" font-size="16" fill="#000" textLength="69.5" lengthAdjust="spacingAndGlyphs">50-70 cm</text>
<text x="490.5" y="555.0" font-size="16" fill="#000" textLength="51.6" lengthAdjust="spacingAndGlyphs">0-6 cm</text>
<text x="145.0" y="629.5" font-size="16" fill="#000" textLength="46.3" lengthAdjust="spacingAndGlyphs">70 cm</text>
<text x="663.4" y="634.4" font-size="16" fill="#000" textLength="45.4" lengthAdjust="spacingAndGlyphs">27 cm</text>
<text x="733.9" y="730.8" font-size="26.8" fill="#e6001a" textLength="25.3" lengthAdjust="spacingAndGlyphs">S2</text>
</svg></body></html>
